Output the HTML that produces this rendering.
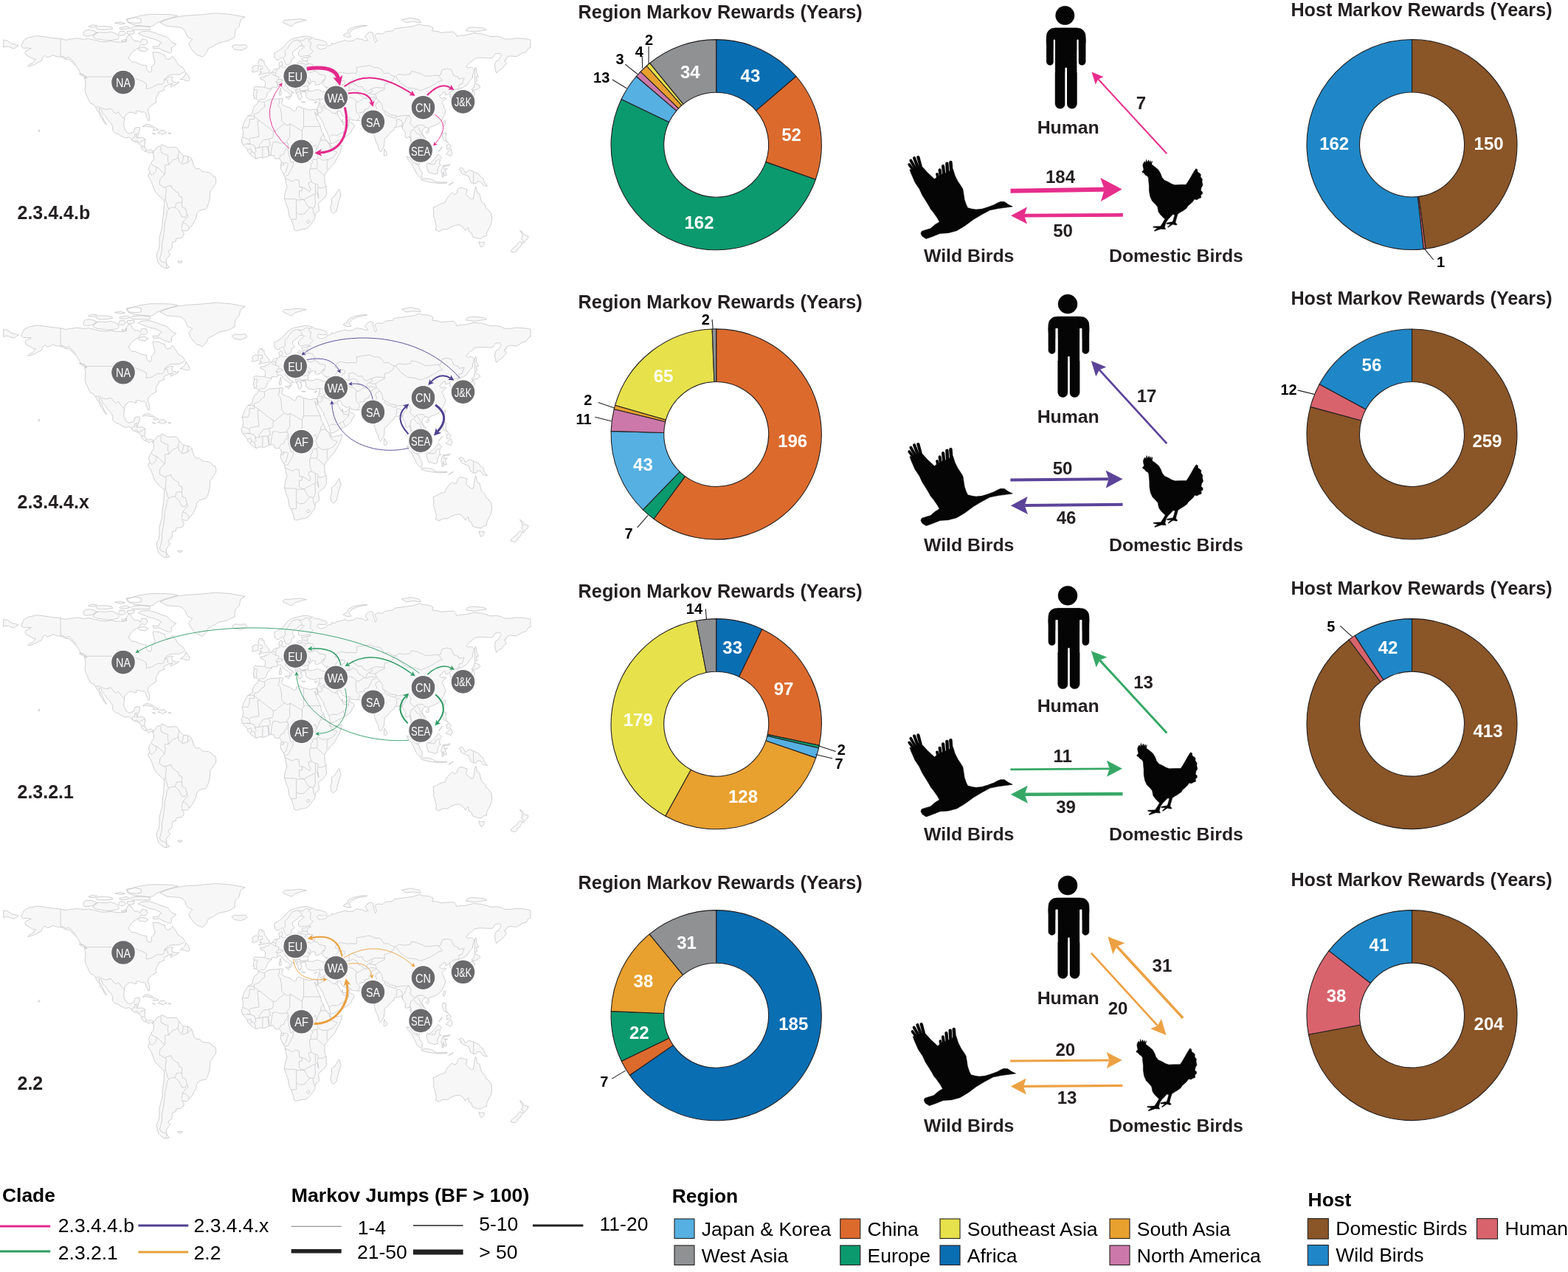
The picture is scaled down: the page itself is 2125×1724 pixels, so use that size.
<!DOCTYPE html>
<html><head><meta charset="utf-8"><title>Markov rewards figure</title>
<style>html,body{margin:0;padding:0;background:#fff;} svg{display:block;}</style>
</head><body>
<svg xmlns="http://www.w3.org/2000/svg" width="2125" height="1724" viewBox="0 0 2125 1724" font-family="'Liberation Sans', Arial, Helvetica, sans-serif">
<rect width="2125" height="1724" fill="#fff"/>
<g transform="translate(0,0)"><path d="M28.5,62.7 L32.5,54.5 L38.4,51.0 L50.7,48.5 L60.3,49.8 L70.2,51.3 L82.1,52.5 L90.0,54.3 L94.0,53.0 L98.0,52.8 L104.9,51.8 L113.8,53.3 L119.8,52.3 L129.7,54.5 L135.7,56.2 L143.6,56.7 L149.5,55.5 L155.5,56.7 L166.4,57.2 L171.4,56.2 L171.4,51.8 L174.4,47.0 L177.3,48.5 L178.9,51.3 L182.3,55.5 L187.3,55.5 L190.2,58.0 L192.2,52.8 L198.2,53.5 L200.1,58.0 L197.2,61.2 L191.2,60.5 L188.2,64.7 L181.9,68.5 L177.3,72.9 L174.4,77.9 L174.9,79.7 L178.3,83.9 L183.3,84.2 L187.3,86.1 L193.2,88.4 L198.6,88.9 L198.8,94.1 L201.1,97.1 L204.1,97.9 L205.5,95.4 L205.1,90.4 L209.1,87.1 L210.1,82.9 L208.1,77.9 L207.5,72.9 L207.1,70.7 L213.0,70.9 L217.0,71.7 L220.0,73.7 L223.0,74.2 L224.0,78.4 L226.9,80.7 L230.9,79.7 L233.7,75.9 L238.8,82.9 L241.8,87.9 L247.8,91.6 L250.7,96.1 L248.8,98.1 L242.8,101.1 L234.9,101.1 L229.9,101.6 L225.9,104.3 L222.0,108.6 L224.0,107.1 L230.9,103.8 L234.3,104.6 L232.9,107.1 L233.9,110.8 L239.8,112.1 L242.8,111.1 L239.8,114.1 L235.9,115.3 L231.3,117.8 L230.9,115.3 L233.9,113.3 L228.9,114.6 L226.9,115.8 L223.0,117.3 L221.6,120.0 L223.0,122.0 L220.0,123.0 L215.0,125.0 L215.0,127.8 L213.0,129.5 L212.1,131.5 L211.1,134.2 L212.1,138.5 L209.1,140.2 L206.1,142.0 L204.1,144.0 L201.1,146.5 L200.3,150.2 L202.1,155.2 L202.9,160.2 L202.3,163.4 L200.9,163.4 L199.6,160.2 L197.8,156.9 L197.8,153.9 L195.2,151.4 L192.2,152.2 L189.2,150.4 L186.3,150.4 L184.3,150.9 L184.9,153.7 L182.3,153.7 L179.3,152.4 L175.3,152.2 L173.4,153.4 L169.4,156.9 L168.6,161.4 L168.0,166.4 L167.8,171.4 L168.8,173.9 L171.0,178.4 L174.4,180.8 L179.3,179.8 L181.3,178.9 L182.3,175.1 L182.7,173.6 L186.3,172.6 L189.2,172.6 L189.6,175.1 L188.2,180.1 L186.7,183.8 L186.3,186.3 L188.2,186.8 L193.2,186.3 L196.8,188.8 L196.2,195.0 L195.8,198.8 L198.2,202.5 L201.1,204.3 L204.1,202.5 L208.1,205.0 L207.5,207.5 L204.1,205.8 L202.1,208.0 L199.2,205.8 L195.8,205.0 L191.8,201.3 L191.6,198.3 L188.2,194.1 L184.3,192.6 L180.3,191.3 L177.3,187.3 L174.4,186.1 L170.4,187.1 L167.4,185.8 L163.4,183.8 L160.5,181.6 L156.5,180.6 L152.5,176.9 L152.9,172.6 L151.5,168.9 L148.6,165.1 L145.6,161.9 L142.6,156.9 L139.2,153.9 L137.2,148.4 L134.1,147.0 L134.7,151.4 L137.6,155.2 L139.6,160.2 L142.6,165.9 L144.6,168.9 L143.6,169.1 L140.6,165.1 L139.2,161.9 L135.7,157.7 L134.7,152.7 L131.7,150.2 L129.5,145.2 L126.7,141.5 L122.6,140.0 L120.0,135.2 L118.8,132.0 L116.2,127.0 L115.0,121.5 L115.8,116.6 L115.8,111.1 L114.4,105.6 L117.8,106.1 L117.4,104.1 L113.8,101.6 L108.9,99.6 L107.9,96.6 L103.9,90.4 L100.9,87.9 L98.0,84.2 L93.0,80.4 L89.0,80.2 L84.1,77.4 L76.1,76.4 L71.2,74.7 L68.2,76.7 L64.2,77.9 L60.3,75.4 L57.3,79.2 L56.3,82.4 L51.3,84.7 L47.4,87.1 L42.4,89.1 L37.4,89.9 L40.4,87.1 L44.4,85.4 L48.4,80.4 L44.4,79.7 L40.4,77.2 L35.5,74.7 L33.9,70.9 L35.5,69.0 L42.4,65.7 L37.4,65.2 L31.5,65.2Z M217.0,30.6 L226.9,35.6 L242.8,36.8 L246.8,38.1 L250.7,41.8 L252.7,46.8 L254.7,50.5 L260.7,53.0 L255.7,59.2 L258.7,65.5 L262.7,70.4 L266.6,74.2 L274.6,77.2 L276.5,75.4 L280.5,70.4 L282.5,65.5 L288.5,63.0 L296.4,58.0 L308.3,55.5 L318.2,50.5 L318.2,45.5 L319.2,40.5 L324.2,35.6 L325.2,30.6 L326.2,26.8 L332.1,23.1 L312.3,19.4 L292.4,17.9 L272.6,19.9 L252.7,21.1 L242.8,22.4 L232.9,24.3 L223.0,27.6Z M314.2,63.0 L318.2,60.7 L326.2,61.2 L332.1,60.5 L335.1,63.7 L333.1,65.7 L326.2,68.2 L320.2,67.2 L317.2,66.7Z M208.1,205.0 L211.1,202.5 L212.1,200.0 L214.0,198.8 L217.0,198.0 L219.8,195.3 L220.8,197.5 L223.0,197.3 L226.9,200.0 L230.9,199.8 L234.9,199.8 L238.8,199.5 L240.8,201.3 L242.8,205.0 L245.8,208.3 L248.8,211.2 L252.7,211.5 L256.7,212.5 L259.7,215.5 L261.7,221.2 L262.7,225.0 L265.6,228.7 L270.6,228.7 L273.6,232.4 L278.5,233.2 L282.5,233.4 L286.5,235.7 L288.5,238.7 L291.4,239.2 L292.8,243.9 L292.4,248.6 L289.4,252.4 L287.5,256.1 L284.9,258.6 L284.5,263.6 L284.1,269.8 L282.5,276.0 L280.5,281.0 L278.5,283.5 L273.6,284.3 L269.6,286.0 L266.6,289.7 L265.6,296.0 L262.7,301.0 L260.7,304.7 L257.7,308.4 L255.7,310.9 L253.7,312.9 L249.8,312.9 L246.4,311.4 L248.2,314.7 L249.4,316.9 L247.8,320.9 L244.8,322.6 L238.8,323.4 L238.2,327.1 L233.9,328.4 L232.9,330.9 L233.9,332.1 L232.5,337.1 L228.9,339.6 L227.9,342.1 L230.9,344.6 L227.9,348.3 L225.0,352.0 L225.9,356.5 L225.9,358.3 L229.9,362.0 L226.9,363.3 L223.0,363.3 L219.0,360.8 L215.0,357.0 L213.0,350.8 L212.1,344.6 L215.0,338.3 L216.0,333.4 L216.0,328.4 L216.0,322.1 L218.0,314.7 L220.0,307.2 L220.0,301.0 L221.0,293.5 L222.0,286.0 L222.6,276.0 L222.4,271.8 L220.0,269.3 L215.0,264.8 L210.7,260.3 L208.7,256.1 L205.1,246.1 L202.1,241.2 L200.5,237.9 L202.5,234.7 L203.1,232.4 L201.3,229.9 L202.9,224.5 L205.1,222.0 L205.5,219.5 L208.1,216.5 L208.5,210.0 L207.3,208.3Z M350.2,137.0 L357.9,138.7 L363.9,135.2 L367.8,134.5 L375.8,134.0 L381.3,133.2 L383.7,134.0 L382.7,136.5 L381.7,140.2 L383.7,142.7 L387.7,144.5 L392.0,145.7 L398.6,150.7 L401.6,148.9 L401.6,146.0 L405.5,144.2 L411.5,147.2 L419.4,149.2 L425.4,148.2 L429.7,148.2 L430.9,152.7 L429.9,156.9 L427.4,152.7 L426.4,151.4 L428.3,157.7 L431.3,165.1 L434.3,171.4 L435.9,178.9 L438.3,181.3 L440.2,187.6 L444.2,192.6 L447.8,195.3 L449.2,200.0 L451.2,200.0 L455.1,198.8 L459.1,198.0 L463.5,196.8 L463.1,200.3 L461.1,206.3 L457.1,213.7 L453.1,221.2 L447.2,227.4 L444.2,231.2 L441.2,234.9 L439.7,238.7 L440.2,243.6 L440.2,248.6 L442.2,252.4 L442.2,258.6 L442.6,263.6 L439.3,268.6 L434.3,273.0 L431.3,276.0 L432.3,281.0 L432.3,286.0 L427.4,289.7 L427.2,293.0 L426.4,297.2 L423.4,301.0 L421.4,304.2 L417.4,308.4 L413.5,310.4 L408.5,310.9 L401.6,312.9 L398.6,311.4 L398.2,308.4 L397.2,304.7 L394.6,297.5 L392.0,293.5 L390.6,283.5 L387.7,276.0 L385.3,268.6 L386.7,259.8 L389.1,253.6 L387.7,248.6 L386.3,241.4 L385.7,238.7 L383.7,234.9 L380.3,228.7 L380.7,223.7 L381.3,218.7 L378.7,215.0 L375.8,215.2 L372.8,215.0 L370.8,210.5 L365.8,210.5 L359.9,213.2 L356.9,214.2 L352.9,213.2 L347.0,215.2 L343.0,212.5 L339.1,209.3 L336.1,206.3 L335.1,202.5 L332.1,198.8 L328.7,195.5 L327.1,189.6 L329.1,185.1 L329.7,178.9 L328.1,173.9 L330.1,167.6 L333.1,161.4 L336.1,157.2 L342.0,153.9 L342.6,148.9 L345.0,143.2 L348.4,141.2Z M459.7,256.1 L462.1,264.8 L460.1,269.8 L458.1,277.3 L456.1,286.0 L451.6,289.7 L449.2,287.3 L447.8,281.0 L449.8,274.8 L449.2,268.6 L453.7,265.6 L457.1,259.8Z M350.8,136.5 L349.0,134.5 L347.0,133.5 L344.2,134.0 L344.4,129.8 L343.0,129.5 L344.2,124.0 L344.4,120.3 L343.4,119.0 L346.0,117.3 L351.0,117.8 L357.9,118.0 L358.9,117.8 L359.5,115.1 L359.5,111.1 L357.5,108.6 L352.9,107.1 L352.7,105.1 L355.9,104.6 L358.9,104.8 L359.3,102.3 L362.3,102.8 L364.8,101.1 L365.4,99.1 L368.8,97.9 L370.2,95.9 L371.4,94.1 L375.4,93.1 L378.7,92.6 L378.9,89.1 L377.9,87.9 L378.3,84.7 L381.7,82.7 L382.7,85.4 L382.7,87.9 L381.7,90.4 L383.7,91.6 L386.7,90.6 L389.7,91.9 L393.6,90.4 L398.6,89.6 L400.6,90.6 L403.5,87.9 L403.5,84.7 L405.5,82.7 L408.5,84.2 L410.1,82.2 L408.5,79.2 L413.5,77.9 L417.4,77.4 L421.4,76.7 L418.4,75.4 L413.5,75.7 L407.5,76.9 L404.5,74.7 L404.5,70.4 L407.5,67.2 L411.5,64.2 L412.5,63.0 L409.5,62.2 L405.5,62.5 L403.5,65.5 L399.6,68.0 L396.6,70.4 L396.6,74.2 L398.6,76.7 L399.2,78.2 L395.2,80.4 L394.6,84.2 L393.2,86.4 L390.0,88.1 L387.7,87.9 L386.7,85.9 L385.3,82.2 L384.1,79.2 L382.7,77.9 L380.7,79.2 L377.7,81.4 L374.8,81.2 L372.8,79.2 L371.8,75.4 L371.8,71.7 L375.8,69.7 L378.7,68.0 L381.7,65.5 L385.7,62.2 L388.7,58.0 L391.6,55.5 L395.6,53.0 L399.6,51.8 L403.5,51.0 L408.5,49.8 L413.1,49.0 L417.4,49.3 L423.4,51.0 L427.4,53.3 L433.3,54.0 L441.2,56.7 L443.2,59.2 L443.6,59.7 L441.2,61.2 L437.3,61.5 L431.3,60.7 L429.7,63.0 L431.3,65.7 L435.3,67.0 L439.3,65.5 L441.8,65.2 L443.2,62.2 L449.2,61.0 L449.6,58.5 L453.1,59.7 L456.1,57.7 L463.1,56.0 L468.0,54.5 L472.0,56.0 L478.9,55.2 L482.9,52.3 L490.8,53.5 L495.8,55.5 L498.8,54.8 L494.8,49.8 L497.8,45.5 L501.8,43.3 L505.7,44.8 L505.7,49.3 L508.7,58.0 L510.7,55.5 L507.7,48.0 L511.7,45.5 L518.6,46.0 L521.6,43.0 L532.5,41.8 L534.5,39.1 L550.4,36.8 L560.3,35.6 L568.8,32.6 L572.2,34.3 L582.1,35.1 L587.1,37.8 L585.7,41.8 L594.0,42.8 L598.0,44.3 L605.9,43.5 L613.9,43.0 L617.8,46.0 L618.8,49.3 L623.8,48.0 L629.8,47.8 L638.7,45.8 L641.7,44.8 L651.6,45.8 L659.5,47.8 L664.5,49.5 L673.4,49.3 L679.4,50.5 L683.3,52.8 L691.3,53.0 L699.2,51.8 L709.1,52.3 L716.1,53.3 L719.0,54.3 L719.0,64.2 L716.1,65.5 L713.1,70.4 L707.1,72.2 L700.2,76.7 L691.3,75.9 L687.3,77.2 L685.3,81.7 L683.3,81.7 L686.3,86.1 L683.3,89.6 L679.4,94.1 L676.4,95.4 L672.8,99.1 L671.4,94.9 L670.4,87.9 L672.4,82.9 L675.4,81.7 L679.4,75.4 L677.4,72.2 L671.4,72.9 L667.5,78.7 L661.5,78.7 L655.5,78.4 L649.6,78.2 L643.6,79.2 L640.7,81.7 L635.7,85.4 L631.7,90.4 L634.7,92.1 L638.7,91.1 L642.6,94.1 L641.7,97.9 L640.7,101.6 L640.3,105.3 L636.7,109.1 L632.7,115.3 L625.8,119.5 L621.8,120.3 L619.2,124.0 L618.8,126.5 L615.9,129.0 L618.6,132.8 L618.6,137.7 L614.9,139.7 L612.5,140.2 L612.9,135.2 L611.9,132.3 L609.9,131.5 L609.9,127.8 L608.5,126.8 L604.0,129.0 L603.0,124.3 L600.0,126.0 L598.0,128.5 L595.4,130.3 L597.6,132.8 L599.0,133.7 L602.0,132.3 L604.9,133.5 L601.0,136.5 L598.6,139.5 L601.0,142.7 L602.0,146.5 L604.0,149.4 L603.0,153.9 L601.0,157.7 L599.0,162.2 L595.0,167.1 L590.1,169.6 L587.1,170.9 L582.1,172.6 L580.7,175.6 L579.2,172.6 L576.2,172.6 L573.2,175.1 L571.8,178.9 L573.2,182.6 L576.2,186.3 L578.6,192.6 L578.6,197.5 L575.2,200.0 L573.2,202.5 L570.2,204.8 L569.8,200.8 L566.3,199.5 L565.3,195.8 L562.1,194.6 L560.3,192.6 L558.7,200.0 L560.1,203.3 L561.1,208.0 L562.9,209.0 L565.3,211.2 L567.0,215.0 L567.2,219.5 L568.8,222.7 L567.2,223.0 L563.3,220.0 L561.3,215.0 L560.9,211.2 L559.7,209.3 L556.9,206.3 L557.3,201.3 L557.7,196.3 L556.3,190.1 L555.5,185.1 L551.4,186.8 L549.0,185.8 L549.4,180.1 L547.4,176.9 L545.0,173.9 L544.0,170.1 L541.4,171.4 L538.5,172.1 L534.5,172.6 L533.5,176.4 L530.5,178.1 L527.6,181.3 L525.0,184.8 L521.2,187.6 L521.0,192.6 L520.2,198.8 L519.2,200.5 L517.0,204.0 L515.7,206.0 L513.7,203.8 L512.3,197.5 L510.3,193.8 L507.7,186.3 L506.3,178.9 L506.3,173.9 L505.7,172.6 L501.4,174.4 L498.8,170.6 L500.8,169.4 L497.8,167.6 L495.8,166.4 L493.8,163.2 L489.9,163.4 L483.9,163.4 L478.5,162.7 L475.6,161.9 L473.8,158.7 L470.0,160.2 L466.0,157.7 L463.9,156.7 L461.3,150.9 L458.7,150.7 L457.1,151.9 L458.1,156.4 L460.1,159.4 L462.1,163.9 L464.3,165.6 L464.1,161.7 L463.5,164.9 L466.0,165.9 L469.0,165.9 L472.0,163.2 L473.6,160.9 L473.8,165.1 L476.0,167.1 L478.5,167.6 L480.5,170.1 L478.9,173.9 L477.0,175.4 L476.4,178.9 L474.0,180.8 L471.0,183.8 L465.5,187.1 L459.1,190.1 L454.1,193.1 L451.2,194.3 L448.2,194.6 L446.8,190.1 L446.2,186.3 L444.2,181.3 L441.2,175.1 L439.3,171.4 L438.3,166.4 L435.9,163.4 L434.3,160.2 L431.3,156.2 L430.3,152.7 L429.7,148.2 L430.5,145.2 L431.5,143.7 L432.3,140.2 L433.1,137.7 L433.3,134.5 L430.3,134.5 L426.4,136.2 L422.4,135.2 L418.4,134.7 L416.0,132.8 L414.5,130.3 L415.0,127.8 L413.9,126.5 L414.9,125.3 L413.5,124.5 L409.5,124.5 L408.5,126.0 L406.9,125.3 L408.1,128.3 L409.5,131.5 L407.5,133.2 L407.1,135.2 L404.9,134.5 L403.9,132.0 L403.9,129.0 L401.6,127.3 L400.6,124.0 L400.4,121.5 L398.6,120.3 L395.6,118.3 L392.6,116.6 L390.6,113.3 L389.1,112.3 L386.5,113.1 L386.7,116.1 L388.7,117.5 L390.6,120.8 L393.6,122.8 L397.6,125.0 L398.6,126.3 L395.6,125.3 L394.8,127.3 L395.8,129.0 L393.8,131.5 L392.8,130.8 L393.2,127.8 L391.6,126.0 L389.7,124.5 L386.7,122.8 L383.7,120.3 L382.7,117.8 L380.7,116.3 L378.7,115.8 L376.8,117.1 L373.8,118.8 L370.8,118.0 L368.2,118.5 L368.2,120.8 L365.8,123.3 L363.5,124.8 L361.9,127.8 L361.3,130.3 L360.3,132.5 L357.9,134.7 L352.9,134.7Z M4.7,54.3 L9.7,55.0 L15.6,59.2 L21.6,60.5 L25.1,61.7 L22.6,63.2 L19.6,65.7 L15.6,65.0 L11.6,63.2 L7.7,63.0 L4.7,64.2Z M203.1,42.5 L211.1,44.8 L219.0,48.0 L226.9,50.5 L228.9,53.0 L233.9,58.0 L238.8,59.7 L234.9,63.0 L231.9,65.5 L232.9,69.7 L229.9,71.7 L225.9,70.4 L220.0,68.0 L216.0,65.5 L212.1,66.0 L208.1,66.0 L207.1,63.0 L215.0,63.0 L216.0,60.0 L219.0,58.0 L216.0,56.0 L209.1,53.0 L203.1,51.8 L198.2,49.8 L193.2,48.0 L187.3,45.5 L191.2,43.0 L199.2,42.3Z M190.2,64.7 L195.2,63.7 L201.1,66.7 L197.2,69.7 L189.2,68.7 L187.3,66.7Z M126.7,48.8 L128.7,44.8 L135.7,43.5 L143.6,44.3 L149.5,43.0 L154.5,44.3 L159.5,46.8 L161.5,50.5 L159.5,53.0 L153.5,54.3 L148.6,54.8 L143.6,54.8 L136.7,53.5 L131.7,53.0 L128.7,51.8 L125.7,49.8Z M112.8,47.0 L113.8,43.0 L115.8,41.0 L121.8,40.5 L128.7,42.3 L131.7,44.3 L128.7,46.8 L124.7,48.0 L118.8,49.0 L114.8,48.8Z M160.5,45.5 L162.4,42.3 L168.4,42.3 L170.4,45.5 L167.4,48.0 L162.4,48.0Z M172.4,42.3 L182.3,41.8 L181.3,45.5 L176.3,46.8 L172.4,45.5Z M164.4,55.0 L171.4,53.0 L170.4,56.0 L166.4,56.2Z M129.7,38.1 L133.7,35.6 L143.6,35.6 L151.5,36.8 L152.5,39.3 L143.6,40.3 L137.6,40.5 L131.7,39.8Z M119.8,35.6 L125.7,33.6 L131.7,34.8 L127.7,36.8 L121.8,36.8Z M161.5,38.1 L171.4,35.6 L176.3,38.1 L169.4,39.8 L163.4,39.8Z M155.5,31.1 L163.4,29.8 L169.4,31.8 L163.4,32.8Z M179.3,40.3 L203.1,40.5 L203.1,36.3 L191.2,35.3 L179.3,36.3 L177.3,38.3Z M183.3,34.3 L203.1,36.1 L207.1,35.1 L213.0,30.6 L217.0,29.3 L223.0,26.8 L232.9,24.3 L240.8,21.4 L232.9,19.9 L223.0,19.4 L203.1,19.4 L187.3,21.9 L179.3,24.3 L171.4,26.8 L173.4,30.6 L179.3,33.1Z M171.4,25.6 L183.3,23.8 L191.2,25.6 L191.2,30.6 L183.3,31.3 L175.3,30.6Z M193.2,171.6 L196.2,169.1 L199.2,168.4 L203.1,168.9 L208.1,171.9 L211.7,173.9 L214.8,175.9 L211.7,176.6 L207.7,176.6 L208.7,174.9 L206.1,172.4 L201.1,171.4 L197.2,170.9 L194.2,171.9Z M214.0,180.3 L217.4,176.6 L223.0,176.9 L226.1,179.8 L223.0,180.8 L220.2,182.3 L217.4,180.8Z M206.3,180.3 L210.7,181.3 L209.1,181.8Z M228.5,180.1 L231.7,180.6 L230.9,181.6 L228.5,181.3Z M244.2,107.6 L250.7,102.8 L251.7,97.9 L255.7,103.3 L257.3,107.8 L255.7,109.8 L251.7,109.1 L247.8,107.6Z M107.3,99.9 L112.8,100.9 L117.0,105.6 L113.8,104.3 L108.9,101.6Z M52.3,178.9 L54.3,177.1 L52.7,175.9Z M240.8,354.0 L246.8,353.8 L245.8,356.3 L241.8,355.8Z M350.6,101.6 L355.9,100.1 L364.6,98.6 L365.2,94.9 L362.5,93.1 L361.3,90.4 L358.7,87.6 L357.7,83.7 L358.3,82.7 L354.9,82.4 L355.5,80.2 L351.9,80.2 L350.6,82.9 L349.6,85.9 L351.0,88.1 L352.3,89.6 L355.3,89.4 L355.5,91.6 L355.9,93.4 L352.7,93.4 L353.5,95.9 L351.6,97.4 L354.9,98.1 L352.9,98.9Z M350.0,96.1 L350.0,92.9 L349.6,90.9 L351.0,90.1 L347.4,88.4 L345.0,89.1 L342.0,91.1 L342.0,93.4 L343.4,95.1 L341.2,96.9 L343.0,97.9 L346.0,97.1 L349.4,96.1Z M383.7,30.6 L391.6,34.3 L395.6,35.6 L399.6,31.8 L405.5,29.8 L415.4,27.3 L405.5,25.6 L395.6,26.8 L385.7,27.3 L383.3,29.3Z M465.1,48.0 L471.0,50.3 L476.0,50.0 L473.0,45.5 L477.0,40.5 L484.9,37.3 L497.8,34.6 L490.8,34.3 L478.9,36.8 L472.0,40.5 L471.0,44.3 L466.0,46.8Z M550.4,30.6 L560.3,29.3 L570.2,30.6 L568.2,26.8 L556.3,24.3 L544.4,26.8Z M631.7,41.8 L643.6,43.0 L659.5,40.5 L655.5,38.1 L639.7,36.8 L633.7,38.1Z M643.6,111.6 L646.6,110.3 L645.6,104.1 L648.6,104.1 L645.6,97.9 L645.6,94.1 L644.6,90.9 L643.6,92.9 L643.2,96.6 L643.6,104.1 L643.4,109.1Z M639.7,122.8 L642.1,122.0 L646.2,121.5 L650.6,118.3 L650.0,116.1 L643.6,112.8 L642.6,115.8 L642.6,118.5 L639.7,120.0Z M641.7,123.0 L642.8,125.3 L643.6,127.8 L641.7,131.0 L641.5,134.0 L640.7,137.0 L639.3,139.0 L637.3,140.0 L633.7,140.0 L631.7,142.7 L629.9,141.0 L625.8,140.7 L621.8,140.7 L621.6,139.2 L624.8,137.7 L630.7,137.5 L632.7,134.0 L634.3,132.8 L636.7,132.0 L639.3,129.0 L639.7,125.8 L640.3,123.3Z M619.8,142.0 L622.8,142.2 L622.8,146.5 L621.8,148.4 L620.2,148.4 L619.4,144.0Z M624.8,144.0 L627.8,143.2 L629.2,141.5 L625.8,141.5Z M600.2,168.9 L602.0,163.4 L604.0,163.9 L603.0,168.9 L601.6,171.4Z M577.4,178.4 L580.1,176.1 L582.1,177.4 L580.1,180.6 L577.6,180.1Z M600.0,180.1 L604.5,180.1 L604.0,186.3 L604.9,191.3 L607.9,193.8 L605.5,192.6 L603.0,191.3 L601.2,190.3 L600.0,186.3 L599.6,183.8Z M604.0,208.8 L607.9,205.0 L610.9,201.8 L612.9,207.5 L610.9,211.7 L607.9,210.0Z M604.9,196.8 L608.9,195.0 L611.5,198.8 L608.9,201.3 L605.9,202.5Z M594.4,205.0 L599.4,198.8 L598.8,199.8 L594.8,205.5Z M578.2,222.5 L579.3,221.2 L582.1,221.7 L586.1,218.2 L591.1,213.0 L594.0,208.8 L598.6,213.2 L596.4,215.5 L595.6,222.5 L597.6,223.7 L595.0,225.0 L593.0,229.9 L593.0,234.9 L589.1,236.2 L584.1,234.4 L580.5,233.7 L579.5,229.9 L578.2,226.2Z M551.0,212.2 L555.3,213.2 L560.3,220.0 L567.8,225.0 L569.2,229.9 L572.2,233.7 L571.8,240.7 L569.2,240.7 L564.9,236.2 L561.3,228.7 L557.9,221.7 L553.4,217.0Z M570.6,242.9 L576.2,241.9 L582.1,242.4 L585.1,243.4 L589.1,245.4 L588.9,247.9 L582.1,246.9 L576.2,245.6 L572.2,244.4Z M590.1,246.6 L598.0,246.9 L605.9,246.9 L605.9,247.9 L596.0,248.6 L590.1,248.1Z M607.9,251.1 L614.5,247.1 L609.9,249.4Z M599.0,239.9 L601.0,239.9 L600.6,233.2 L602.6,238.2 L605.5,237.4 L603.0,230.7 L606.5,228.7 L602.0,229.2 L601.6,225.0 L608.9,225.0 L609.9,222.5 L606.9,223.7 L600.4,224.2 L599.2,227.4 L597.6,232.9 L599.0,234.9Z M621.8,229.4 L624.8,227.2 L627.8,228.7 L630.7,234.4 L635.7,230.4 L641.7,232.7 L648.6,235.7 L651.6,239.9 L654.6,241.7 L656.5,247.4 L660.5,252.4 L657.5,251.9 L654.6,251.1 L651.6,246.6 L647.6,245.4 L645.6,248.6 L641.7,248.9 L637.7,246.4 L635.3,239.2 L630.7,237.2 L626.8,235.7 L623.8,233.2 L625.8,231.9 L622.4,229.9Z M587.1,281.0 L588.1,291.0 L586.9,292.2 L589.3,297.5 L590.1,302.2 L591.5,307.2 L590.3,311.4 L595.0,313.7 L600.0,310.7 L606.9,310.7 L610.9,307.7 L617.8,305.2 L622.4,304.7 L627.8,307.9 L630.7,312.9 L632.7,309.7 L634.7,308.4 L635.3,313.7 L638.7,315.4 L640.7,320.9 L646.6,322.9 L652.0,323.6 L654.6,320.9 L659.3,319.6 L659.9,314.7 L662.5,309.7 L665.5,303.5 L666.7,296.5 L665.9,289.7 L661.5,284.0 L658.5,281.8 L657.1,277.3 L652.6,273.5 L650.6,266.1 L650.2,263.1 L646.6,261.1 L645.6,254.9 L644.6,252.9 L643.2,257.3 L642.6,263.6 L641.3,269.6 L638.7,269.8 L635.3,267.3 L631.3,263.6 L633.3,256.9 L630.7,256.1 L625.8,254.4 L622.8,254.6 L620.4,257.3 L618.8,262.3 L615.9,263.6 L612.9,261.1 L609.9,263.6 L606.9,267.3 L604.4,271.1 L603.0,274.8 L598.0,276.0 L594.0,277.8 L589.5,280.5Z M649.0,327.6 L652.6,328.6 L656.1,328.1 L656.1,331.4 L653.6,334.6 L651.6,334.9 L650.0,331.6Z M704.6,311.9 L708.1,314.7 L710.1,318.4 L716.1,320.1 L714.9,323.9 L712.1,325.9 L709.5,329.9 L708.5,329.1 L709.1,325.9 L706.7,323.9 L708.1,320.9 L707.5,317.2 L705.2,313.4Z M704.6,327.1 L707.7,329.1 L707.1,330.9 L704.8,335.1 L701.6,337.1 L700.4,340.6 L697.6,342.3 L692.3,340.8 L692.9,338.8 L695.8,335.8 L700.2,332.9 L702.2,329.6Z M520.2,210.7 L520.8,201.8 L523.0,205.0 L524.4,207.5 L523.8,210.5 L521.6,211.5Z M386.5,131.5 L392.8,130.8 L391.6,134.7Z M378.5,124.0 L381.3,124.0 L380.9,129.0 L378.5,129.0Z M380.5,119.0 L380.9,123.0 L378.9,122.0Z M408.5,137.7 L414.1,138.5 L409.5,138.7Z M426.0,139.0 L430.3,137.5 L427.4,140.0Z" fill="#f7f7f8" stroke="#c4c4c6" stroke-width="0.8" stroke-linejoin="round"/><path d="M117.2,104.1 L173.0,104.1 L173.0,103.1 L184.1,106.6 L193.6,110.3 L198.4,113.3 L198.2,120.3 L205.1,119.0 L210.1,116.1 L213.6,114.1 L220.0,114.1 L221.6,113.1 L223.0,109.8 L224.6,108.1 L226.9,108.3 L227.3,112.3 L228.7,113.8 M82.1,52.8 L82.1,75.9 L86.1,76.7 L89.0,78.7 L93.0,77.2 L97.0,80.7 L101.9,86.6 L103.9,88.4 M129.5,145.2 L134.3,144.7 L141.6,148.2 L147.2,148.2 L147.2,147.0 L150.5,147.0 L154.5,152.4 L157.5,153.9 L160.5,151.9 L164.4,157.7 L169.0,161.7 M178.9,190.1 L178.9,188.3 L180.5,186.1 L182.5,186.1 L182.5,181.8 L185.1,181.8 L186.7,180.1 M184.9,181.8 L184.9,186.6 L186.9,187.1 M183.1,192.1 L184.7,190.3 L186.9,191.6 L187.6,193.1 M188.6,193.8 L193.2,190.6 L196.8,188.8 M191.8,198.3 L195.8,199.0 M197.2,205.3 L198.0,202.5 M218.6,198.5 L218.0,200.0 L218.2,206.3 L223.0,208.8 L227.9,210.7 L227.3,215.0 L228.3,221.2 L229.1,223.2 M205.5,222.7 L209.1,225.2 L212.5,226.4 L216.0,229.2 L219.0,232.2 L223.0,236.7 L224.2,228.7 L223.0,224.7 L224.0,223.5 L228.9,223.2 M228.9,223.2 L234.9,216.2 L237.5,216.2 L241.2,213.2 L242.8,205.0 M241.2,213.2 L242.8,218.7 L246.8,222.5 L250.7,221.5 L254.1,220.5 L259.5,215.7 M248.8,211.2 L246.8,221.2 M254.7,212.0 L254.1,220.5 M202.5,234.7 L206.1,237.4 L211.1,232.4 L212.5,226.4 M223.0,236.7 L217.0,242.4 L216.0,249.9 L222.0,253.6 L224.0,253.6 L225.5,257.3 L224.4,263.6 L224.0,269.8 L222.2,271.8 M224.0,253.6 L231.9,251.1 L232.9,254.9 L238.8,259.8 L241.8,261.1 L242.8,266.1 L246.4,266.8 L246.8,269.8 L246.4,275.5 M224.0,269.8 L225.9,274.8 L226.9,279.8 L228.5,283.0 L232.9,281.0 L237.3,281.0 L239.2,275.0 L244.8,274.3 L246.4,275.5 M237.3,281.0 L242.8,286.0 L246.4,294.0 L251.1,294.5 L253.5,290.0 L251.3,282.3 L247.2,281.3 L246.4,275.5 M253.5,290.0 L255.1,293.7 L251.1,297.2 L247.6,301.5 L251.7,303.0 L255.7,307.2 L255.7,310.2 M247.6,301.5 L246.0,309.7 M228.5,283.0 L226.1,287.3 L225.7,293.5 L223.4,301.0 L223.0,308.4 L222.0,315.9 L221.0,323.4 L219.4,330.9 L219.6,338.3 L218.0,345.8 L216.4,350.8 L218.6,354.5 L224.6,356.3 L225.7,357.3 L225.7,363.3 M358.3,139.0 L358.7,145.2 L354.7,147.5 L351.0,152.4 L344.6,154.7 L344.6,157.2 L335.7,157.2 M344.6,157.2 L344.6,161.4 L338.1,161.4 L338.1,167.6 L336.1,173.1 L328.1,173.1 M344.6,158.2 L352.3,163.9 L349.0,164.1 L351.0,185.3 L339.2,187.3 L337.7,189.3 L329.1,185.8 M328.7,195.3 L337.7,195.3 L339.2,195.3 L337.7,189.3 M334.7,194.6 L339.2,195.3 L345.0,197.5 L346.0,200.8 L347.0,205.3 L345.0,207.3 L341.0,205.3 L339.1,208.8 M335.7,203.3 L339.6,201.3 L341.0,205.3 M352.3,163.9 L364.3,173.4 L370.2,177.6 L373.4,177.9 L376.8,174.4 L385.5,167.6 M351.0,200.3 L351.4,196.8 L357.3,189.3 L362.5,189.1 L364.4,188.1 L369.0,187.3 L370.2,184.1 L370.2,177.6 M345.0,200.8 L351.0,200.3 L356.1,199.0 L362.9,198.8 L366.6,196.5 L364.4,188.1 M347.0,215.2 L345.0,207.3 M355.7,213.5 L356.1,199.0 M364.3,211.0 L362.9,198.8 M365.0,210.7 L363.7,198.8 M367.2,210.3 L367.8,202.5 L369.0,197.0 L369.8,192.6 L374.8,192.3 L379.7,194.3 L386.7,193.3 L389.7,193.8 M378.9,134.2 L378.3,140.0 L376.8,143.5 L379.9,146.2 L380.7,150.7 L381.3,152.9 L381.7,163.2 L385.5,167.6 L389.7,170.1 L393.4,167.9 L409.5,177.6 L409.5,176.4 L411.5,171.4 L411.5,147.5 M411.5,171.4 L435.1,171.4 M393.4,167.9 L392.6,174.6 L392.6,186.3 L388.7,191.8 L389.7,193.8 L390.6,196.3 L391.6,201.3 L389.5,202.5 M378.7,214.7 L380.7,210.0 L384.7,208.8 L385.7,205.0 L388.7,200.8 L390.6,196.3 M409.5,177.6 L409.5,187.1 L406.3,191.3 L406.5,196.3 L407.3,199.0 L408.5,204.5 L414.5,202.5 L421.4,201.3 L427.4,196.3 L429.3,202.5 M389.5,202.5 L392.6,207.5 L390.6,207.5 L392.6,213.7 L394.0,220.7 L398.6,217.5 L403.5,215.0 L411.5,213.7 L416.2,213.7 L423.0,217.5 L423.8,220.7 L421.2,222.5 L421.4,226.2 L420.6,229.7 L419.4,229.9 L419.8,234.9 L420.4,241.2 L422.4,246.6 M392.6,207.5 L398.6,204.3 L407.3,199.0 M381.3,220.5 L384.3,220.7 L388.3,220.7 L390.6,222.5 M384.3,220.7 L384.3,223.7 L380.7,223.7 M390.6,222.5 L387.7,232.4 L385.7,234.9 L383.9,235.9 M386.1,238.7 L390.6,237.4 L393.6,231.2 L396.6,226.2 L397.6,220.0 L398.6,217.5 M386.3,241.4 L393.6,244.9 L396.6,246.1 L400.6,243.6 L405.1,244.4 L405.9,253.6 L409.5,253.6 L409.5,258.6 L405.5,258.6 L405.5,267.3 L408.5,269.8 L412.1,270.6 M409.5,253.6 L412.5,254.9 L416.4,257.3 L419.4,259.6 L421.0,256.6 L418.4,251.1 L418.4,247.4 L422.4,246.6 M429.3,202.5 L427.7,205.3 L431.3,213.7 L429.1,215.7 L423.8,216.7 M434.3,190.6 L435.1,186.3 L438.3,181.3 M429.3,202.5 L432.3,195.0 L434.3,190.6 L437.3,190.1 L441.2,190.1 L446.0,195.0 M446.0,195.0 L446.8,198.8 L447.6,197.5 M446.8,198.8 L450.2,203.8 L457.1,206.3 L451.2,213.7 L445.2,216.2 L443.2,218.7 L443.2,230.4 M431.3,213.7 L437.3,217.2 L444.8,216.2 M429.3,215.7 L430.3,223.7 L429.3,228.7 L436.3,234.9 L439.7,237.9 M420.6,228.7 L423.0,228.7 L429.3,228.7 M442.0,252.4 L437.3,254.4 L432.3,254.9 L430.3,249.9 L427.4,249.4 L423.8,247.6 L422.4,246.6 M427.4,249.4 L427.4,260.6 L431.3,262.3 L431.9,268.6 L430.3,263.6 L430.3,253.6 M422.2,265.1 L427.4,262.3 L427.0,267.8 L427.4,276.0 L425.4,281.8 L424.0,282.0 L425.2,289.7 L427.2,293.0 M412.1,270.6 L417.4,267.3 L422.2,265.1 M385.3,269.1 L389.7,269.6 L398.6,269.6 L403.5,271.1 L408.5,270.6 L412.1,270.6 M401.6,271.1 L401.6,281.0 L401.6,288.0 L401.6,297.0 L394.6,297.5 M401.6,288.0 L405.5,290.5 L412.5,290.0 L415.4,286.0 L420.2,281.5 L424.0,282.0 M412.1,270.6 L414.5,274.8 L417.4,279.8 L420.2,281.5 M415.6,300.5 L417.8,297.7 L420.2,299.7 L419.0,302.2 L416.4,302.2 L415.6,300.5 M429.7,148.2 L431.1,152.7 M344.2,121.8 L348.0,121.5 L349.0,122.8 L348.0,126.0 L347.0,127.8 L348.0,131.0 L347.0,133.5 M358.3,118.0 L361.9,119.8 L368.2,120.5 M366.8,98.9 L369.8,101.1 L373.4,102.8 L378.1,104.1 L377.0,107.6 L373.8,111.1 L375.8,112.1 L375.8,115.3 L376.8,117.1 M368.6,98.1 L371.8,98.1 L373.8,99.6 L373.4,102.8 M376.2,93.4 L373.8,97.1 L373.8,99.6 M378.9,89.4 L381.5,89.6 M390.0,91.9 L390.8,95.4 L391.6,99.1 L386.7,100.9 L389.3,104.6 L387.7,107.8 L382.7,107.8 L380.9,107.8 L377.0,107.6 M373.8,111.1 L377.3,111.8 L380.7,110.8 L382.7,109.6 L380.9,107.8 M382.7,109.6 L386.7,109.1 L389.1,110.3 L388.9,112.8 M389.3,104.6 L391.6,104.1 L395.6,105.1 L395.6,107.3 L394.6,109.3 L393.6,109.8 L389.1,110.3 M391.6,99.1 L394.6,100.9 L399.2,102.8 L406.5,103.8 L409.5,100.4 L408.5,95.4 L408.5,91.6 L407.1,90.6 L400.6,90.6 M395.6,105.1 L399.2,102.8 M395.6,107.3 L399.2,107.1 L405.7,105.6 L407.3,106.8 L404.5,111.1 L402.2,111.3 L399.2,111.8 L396.0,110.3 L394.6,109.3 M407.3,106.8 L414.7,105.8 L417.8,110.3 L417.8,113.1 L420.6,113.6 M406.9,116.1 L411.5,117.3 L415.4,116.3 L418.6,117.1 M404.5,111.1 L404.3,114.3 L406.5,115.1 L406.9,116.1 L406.3,119.0 L406.3,120.8 L407.5,123.0 L413.5,123.3 L417.4,121.5 M401.6,127.3 L403.3,124.5 L406.3,123.5 L414.1,122.3 L413.7,124.5 M393.0,113.6 L400.0,113.6 L400.4,117.8 L398.6,120.3 M400.4,117.8 L402.5,119.3 L404.5,121.0 L406.3,120.8 M400.4,121.5 L402.7,120.3 L402.7,124.0 L403.3,124.5 M394.6,110.3 L392.6,112.8 L393.0,113.6 M399.2,111.8 L400.0,113.6 M408.7,97.6 L415.4,97.6 L422.4,98.4 L425.0,96.4 L430.3,97.4 L432.3,100.6 L437.7,101.6 L441.2,102.6 L440.6,107.1 L437.7,108.8 M414.7,105.8 L417.4,105.3 L419.8,106.8 L421.4,110.3 L417.8,113.1 M405.7,105.6 L406.5,103.8 M408.5,91.9 L412.5,90.9 L414.7,87.4 L417.8,86.4 L423.4,87.1 L426.8,93.4 L425.0,96.4 M403.5,86.4 L411.5,86.1 L414.7,87.4 M410.1,82.2 L416.2,82.9 L417.4,78.2 M416.2,82.9 L417.8,86.4 M418.4,75.4 L421.4,72.4 L424.4,69.5 L420.4,65.5 L421.4,57.5 L418.4,55.5 L419.4,53.0 L423.0,52.3 M409.5,62.2 L408.5,58.0 L403.5,54.3 L405.5,55.2 L411.5,54.8 L413.5,52.0 L417.4,52.3 L419.4,53.0 M384.1,79.2 L386.7,75.4 L386.1,69.2 L389.7,65.5 L392.6,61.0 L395.6,56.7 L398.6,55.5 L402.5,54.3 L403.5,54.3 M459.1,110.1 L458.5,106.1 L454.1,105.3 L456.1,100.6 L462.1,97.9 L471.0,99.6 L477.0,99.1 L482.9,99.6 L483.9,96.6 L482.9,91.6 L490.8,90.1 L500.8,88.6 L507.7,91.6 L512.7,91.6 L516.6,93.4 L520.6,99.6 L526.6,99.1 L531.5,102.8 L535.1,103.6 M536.1,103.6 L540.5,100.4 L548.4,101.6 L556.3,100.4 L557.3,96.6 L564.3,97.9 L572.2,100.9 L576.2,103.3 L584.1,102.8 L591.1,102.1 L594.0,102.3 M594.0,102.3 L597.0,101.8 L599.0,94.6 L605.9,92.9 L611.9,94.6 L614.9,102.3 L621.0,104.3 L621.8,107.1 L629.2,105.8 L626.2,114.1 L622.2,114.6 L621.8,119.3 L621.0,120.5 M536.1,103.6 L542.4,111.6 L552.4,119.0 L562.3,120.0 L570.2,122.8 L583.1,117.5 L588.1,114.6 L594.6,110.3 L599.6,109.1 L594.0,102.3 M535.1,103.6 L532.1,109.1 L526.2,112.8 L521.0,114.1 L521.2,121.0 L514.7,124.0 L508.7,127.8 L510.7,134.0 L514.7,137.2 L518.2,142.7 L518.6,148.9 L522.6,150.9 L528.6,155.2 L536.5,156.7 L538.5,157.9 L544.4,156.9 L554.3,156.4 L557.3,162.7 L555.3,166.6 L559.3,171.1 L562.7,173.1 L564.3,170.4 L567.2,169.6 L573.4,169.4 L576.2,172.6 M514.7,137.7 L509.7,140.2 L508.7,144.0 L510.7,145.5 L509.7,148.9 L506.7,152.7 L502.8,156.4 L500.8,162.7 L497.8,167.4 M520.8,151.4 L522.6,155.2 L528.6,157.9 L536.9,160.4 L536.5,156.7 M536.7,171.4 L537.9,165.9 L537.1,162.7 L540.1,161.4 L544.4,163.7 L545.0,166.4 L545.6,173.4 M545.0,171.9 L547.0,168.1 L549.4,164.1 L550.8,159.7 L554.3,156.4 M557.3,201.3 L558.7,195.0 L557.3,188.8 L555.7,182.6 L557.3,176.9 L560.3,175.4 L562.7,173.1 M561.3,175.9 L562.7,177.6 L565.3,181.3 L569.2,182.6 L571.2,188.8 L566.3,190.3 L565.3,195.8 M564.3,170.4 L568.2,175.1 L570.2,180.1 L574.2,185.6 L575.2,189.6 L572.2,196.8 L569.2,200.0 M571.2,190.6 L575.2,189.6 M560.5,210.0 L563.9,211.7 L564.5,210.7 M484.1,163.4 L487.5,158.4 L486.5,155.7 L482.9,151.9 L482.7,147.7 L481.9,142.7 L483.3,137.5 L478.9,133.2 L473.0,131.5 L469.0,132.8 M457.1,151.4 L458.1,147.7 L456.1,144.0 L452.2,141.5 L452.8,137.0 L450.2,133.5 L449.2,129.0 L450.8,127.3 L454.1,129.3 L457.1,129.0 L457.1,130.5 L458.9,130.5 M486.5,152.9 L493.8,151.7 L494.2,148.4 L499.4,146.7 L501.8,141.7 L503.2,139.7 L503.9,136.5 L509.7,134.0 M483.3,137.5 L485.9,138.2 L489.9,135.7 L493.8,133.0 L496.8,134.0 L500.8,132.5 L503.7,131.8 L509.7,133.0 M466.8,121.8 L473.0,123.3 L478.0,120.3 L480.9,121.5 L483.9,123.3 L485.9,127.8 L489.9,129.8 L493.8,133.0 M473.0,123.3 L473.0,114.1 L478.0,112.8 L482.9,115.3 L484.9,117.8 L490.7,117.3 L492.8,121.5 L496.8,124.0 L498.8,123.0 L502.8,120.8 L509.7,118.5 L521.0,119.3 M502.8,120.8 L504.7,124.0 L501.8,125.3 L499.8,126.5 L506.7,128.0 L508.7,127.8 M496.8,134.0 L496.4,131.5 L497.8,127.8 L499.8,126.5 M433.3,134.5 L434.7,134.5 L437.3,134.5 L441.2,133.7 L445.2,133.5 L450.2,133.5 M444.4,122.8 L448.2,123.8 L448.2,126.5 L450.2,127.3 M441.2,118.0 L445.2,118.5 L450.2,119.8 L454.1,121.8 L458.1,122.0 M450.8,123.5 L454.1,123.8 M446.0,133.7 L443.6,140.5 L438.9,143.0 M432.7,144.7 L434.9,145.7 L438.9,143.0 M433.1,140.0 L434.5,141.0 L432.9,143.2 M438.9,143.0 L439.7,146.0 L445.2,148.7 L450.6,153.4 L454.1,153.7 L456.5,155.2 M454.1,153.7 L456.9,151.4 M431.3,152.9 L434.3,152.7 L437.3,150.2 L435.3,147.7 L439.7,146.0 M446.8,185.3 L449.2,182.8 L454.1,183.1 L456.1,183.8 L465.1,178.9 L472.4,171.4 L471.4,169.6 L465.1,168.9 L464.3,165.6 M465.1,178.9 L467.2,184.6 M472.4,171.4 L473.0,165.9 L473.8,164.4 M611.9,132.3 L613.9,130.8 L616.5,130.0 M608.5,126.8 L611.9,123.5 L615.9,121.5 L619.2,120.5 L621.0,120.5 M641.7,232.7 L641.7,248.9 M579.3,221.2 L584.1,222.5 L589.1,222.5 L591.1,217.5 L595.0,215.7" fill="none" stroke="#c6c6c8" stroke-width="0.75" stroke-linejoin="round"/><path d="M417.4,123.5 L417.8,120.3 L417.0,117.8 L418.8,115.3 L420.8,113.3 L423.0,110.3 L425.4,110.3 L428.3,111.6 L426.4,113.1 L428.3,115.3 L431.3,114.6 L434.3,113.6 L437.3,109.1 L439.9,108.6 L437.7,111.6 L436.3,113.3 L438.3,115.8 L441.2,118.0 L444.2,121.5 L444.6,122.8 L441.2,124.3 L437.3,124.3 L433.3,122.3 L431.3,121.5 L427.9,121.8 L424.4,123.3 L420.4,123.5Z M456.1,112.8 L459.1,110.1 L463.1,109.1 L467.0,109.8 L467.4,113.3 L463.7,115.1 L463.1,118.5 L466.4,121.5 L467.0,124.5 L469.0,125.8 L467.0,127.8 L468.8,133.2 L464.1,134.5 L461.1,133.0 L459.1,130.5 L460.1,126.0 L461.7,125.5 L459.1,122.8 L457.1,120.3 L455.9,117.8 L454.7,115.6Z" fill="#ffffff" stroke="#c4c4c6" stroke-width="0.8" stroke-linejoin="round"/></g>
<g transform="translate(0,392.3)"><path d="M28.5,62.7 L32.5,54.5 L38.4,51.0 L50.7,48.5 L60.3,49.8 L70.2,51.3 L82.1,52.5 L90.0,54.3 L94.0,53.0 L98.0,52.8 L104.9,51.8 L113.8,53.3 L119.8,52.3 L129.7,54.5 L135.7,56.2 L143.6,56.7 L149.5,55.5 L155.5,56.7 L166.4,57.2 L171.4,56.2 L171.4,51.8 L174.4,47.0 L177.3,48.5 L178.9,51.3 L182.3,55.5 L187.3,55.5 L190.2,58.0 L192.2,52.8 L198.2,53.5 L200.1,58.0 L197.2,61.2 L191.2,60.5 L188.2,64.7 L181.9,68.5 L177.3,72.9 L174.4,77.9 L174.9,79.7 L178.3,83.9 L183.3,84.2 L187.3,86.1 L193.2,88.4 L198.6,88.9 L198.8,94.1 L201.1,97.1 L204.1,97.9 L205.5,95.4 L205.1,90.4 L209.1,87.1 L210.1,82.9 L208.1,77.9 L207.5,72.9 L207.1,70.7 L213.0,70.9 L217.0,71.7 L220.0,73.7 L223.0,74.2 L224.0,78.4 L226.9,80.7 L230.9,79.7 L233.7,75.9 L238.8,82.9 L241.8,87.9 L247.8,91.6 L250.7,96.1 L248.8,98.1 L242.8,101.1 L234.9,101.1 L229.9,101.6 L225.9,104.3 L222.0,108.6 L224.0,107.1 L230.9,103.8 L234.3,104.6 L232.9,107.1 L233.9,110.8 L239.8,112.1 L242.8,111.1 L239.8,114.1 L235.9,115.3 L231.3,117.8 L230.9,115.3 L233.9,113.3 L228.9,114.6 L226.9,115.8 L223.0,117.3 L221.6,120.0 L223.0,122.0 L220.0,123.0 L215.0,125.0 L215.0,127.8 L213.0,129.5 L212.1,131.5 L211.1,134.2 L212.1,138.5 L209.1,140.2 L206.1,142.0 L204.1,144.0 L201.1,146.5 L200.3,150.2 L202.1,155.2 L202.9,160.2 L202.3,163.4 L200.9,163.4 L199.6,160.2 L197.8,156.9 L197.8,153.9 L195.2,151.4 L192.2,152.2 L189.2,150.4 L186.3,150.4 L184.3,150.9 L184.9,153.7 L182.3,153.7 L179.3,152.4 L175.3,152.2 L173.4,153.4 L169.4,156.9 L168.6,161.4 L168.0,166.4 L167.8,171.4 L168.8,173.9 L171.0,178.4 L174.4,180.8 L179.3,179.8 L181.3,178.9 L182.3,175.1 L182.7,173.6 L186.3,172.6 L189.2,172.6 L189.6,175.1 L188.2,180.1 L186.7,183.8 L186.3,186.3 L188.2,186.8 L193.2,186.3 L196.8,188.8 L196.2,195.0 L195.8,198.8 L198.2,202.5 L201.1,204.3 L204.1,202.5 L208.1,205.0 L207.5,207.5 L204.1,205.8 L202.1,208.0 L199.2,205.8 L195.8,205.0 L191.8,201.3 L191.6,198.3 L188.2,194.1 L184.3,192.6 L180.3,191.3 L177.3,187.3 L174.4,186.1 L170.4,187.1 L167.4,185.8 L163.4,183.8 L160.5,181.6 L156.5,180.6 L152.5,176.9 L152.9,172.6 L151.5,168.9 L148.6,165.1 L145.6,161.9 L142.6,156.9 L139.2,153.9 L137.2,148.4 L134.1,147.0 L134.7,151.4 L137.6,155.2 L139.6,160.2 L142.6,165.9 L144.6,168.9 L143.6,169.1 L140.6,165.1 L139.2,161.9 L135.7,157.7 L134.7,152.7 L131.7,150.2 L129.5,145.2 L126.7,141.5 L122.6,140.0 L120.0,135.2 L118.8,132.0 L116.2,127.0 L115.0,121.5 L115.8,116.6 L115.8,111.1 L114.4,105.6 L117.8,106.1 L117.4,104.1 L113.8,101.6 L108.9,99.6 L107.9,96.6 L103.9,90.4 L100.9,87.9 L98.0,84.2 L93.0,80.4 L89.0,80.2 L84.1,77.4 L76.1,76.4 L71.2,74.7 L68.2,76.7 L64.2,77.9 L60.3,75.4 L57.3,79.2 L56.3,82.4 L51.3,84.7 L47.4,87.1 L42.4,89.1 L37.4,89.9 L40.4,87.1 L44.4,85.4 L48.4,80.4 L44.4,79.7 L40.4,77.2 L35.5,74.7 L33.9,70.9 L35.5,69.0 L42.4,65.7 L37.4,65.2 L31.5,65.2Z M217.0,30.6 L226.9,35.6 L242.8,36.8 L246.8,38.1 L250.7,41.8 L252.7,46.8 L254.7,50.5 L260.7,53.0 L255.7,59.2 L258.7,65.5 L262.7,70.4 L266.6,74.2 L274.6,77.2 L276.5,75.4 L280.5,70.4 L282.5,65.5 L288.5,63.0 L296.4,58.0 L308.3,55.5 L318.2,50.5 L318.2,45.5 L319.2,40.5 L324.2,35.6 L325.2,30.6 L326.2,26.8 L332.1,23.1 L312.3,19.4 L292.4,17.9 L272.6,19.9 L252.7,21.1 L242.8,22.4 L232.9,24.3 L223.0,27.6Z M314.2,63.0 L318.2,60.7 L326.2,61.2 L332.1,60.5 L335.1,63.7 L333.1,65.7 L326.2,68.2 L320.2,67.2 L317.2,66.7Z M208.1,205.0 L211.1,202.5 L212.1,200.0 L214.0,198.8 L217.0,198.0 L219.8,195.3 L220.8,197.5 L223.0,197.3 L226.9,200.0 L230.9,199.8 L234.9,199.8 L238.8,199.5 L240.8,201.3 L242.8,205.0 L245.8,208.3 L248.8,211.2 L252.7,211.5 L256.7,212.5 L259.7,215.5 L261.7,221.2 L262.7,225.0 L265.6,228.7 L270.6,228.7 L273.6,232.4 L278.5,233.2 L282.5,233.4 L286.5,235.7 L288.5,238.7 L291.4,239.2 L292.8,243.9 L292.4,248.6 L289.4,252.4 L287.5,256.1 L284.9,258.6 L284.5,263.6 L284.1,269.8 L282.5,276.0 L280.5,281.0 L278.5,283.5 L273.6,284.3 L269.6,286.0 L266.6,289.7 L265.6,296.0 L262.7,301.0 L260.7,304.7 L257.7,308.4 L255.7,310.9 L253.7,312.9 L249.8,312.9 L246.4,311.4 L248.2,314.7 L249.4,316.9 L247.8,320.9 L244.8,322.6 L238.8,323.4 L238.2,327.1 L233.9,328.4 L232.9,330.9 L233.9,332.1 L232.5,337.1 L228.9,339.6 L227.9,342.1 L230.9,344.6 L227.9,348.3 L225.0,352.0 L225.9,356.5 L225.9,358.3 L229.9,362.0 L226.9,363.3 L223.0,363.3 L219.0,360.8 L215.0,357.0 L213.0,350.8 L212.1,344.6 L215.0,338.3 L216.0,333.4 L216.0,328.4 L216.0,322.1 L218.0,314.7 L220.0,307.2 L220.0,301.0 L221.0,293.5 L222.0,286.0 L222.6,276.0 L222.4,271.8 L220.0,269.3 L215.0,264.8 L210.7,260.3 L208.7,256.1 L205.1,246.1 L202.1,241.2 L200.5,237.9 L202.5,234.7 L203.1,232.4 L201.3,229.9 L202.9,224.5 L205.1,222.0 L205.5,219.5 L208.1,216.5 L208.5,210.0 L207.3,208.3Z M350.2,137.0 L357.9,138.7 L363.9,135.2 L367.8,134.5 L375.8,134.0 L381.3,133.2 L383.7,134.0 L382.7,136.5 L381.7,140.2 L383.7,142.7 L387.7,144.5 L392.0,145.7 L398.6,150.7 L401.6,148.9 L401.6,146.0 L405.5,144.2 L411.5,147.2 L419.4,149.2 L425.4,148.2 L429.7,148.2 L430.9,152.7 L429.9,156.9 L427.4,152.7 L426.4,151.4 L428.3,157.7 L431.3,165.1 L434.3,171.4 L435.9,178.9 L438.3,181.3 L440.2,187.6 L444.2,192.6 L447.8,195.3 L449.2,200.0 L451.2,200.0 L455.1,198.8 L459.1,198.0 L463.5,196.8 L463.1,200.3 L461.1,206.3 L457.1,213.7 L453.1,221.2 L447.2,227.4 L444.2,231.2 L441.2,234.9 L439.7,238.7 L440.2,243.6 L440.2,248.6 L442.2,252.4 L442.2,258.6 L442.6,263.6 L439.3,268.6 L434.3,273.0 L431.3,276.0 L432.3,281.0 L432.3,286.0 L427.4,289.7 L427.2,293.0 L426.4,297.2 L423.4,301.0 L421.4,304.2 L417.4,308.4 L413.5,310.4 L408.5,310.9 L401.6,312.9 L398.6,311.4 L398.2,308.4 L397.2,304.7 L394.6,297.5 L392.0,293.5 L390.6,283.5 L387.7,276.0 L385.3,268.6 L386.7,259.8 L389.1,253.6 L387.7,248.6 L386.3,241.4 L385.7,238.7 L383.7,234.9 L380.3,228.7 L380.7,223.7 L381.3,218.7 L378.7,215.0 L375.8,215.2 L372.8,215.0 L370.8,210.5 L365.8,210.5 L359.9,213.2 L356.9,214.2 L352.9,213.2 L347.0,215.2 L343.0,212.5 L339.1,209.3 L336.1,206.3 L335.1,202.5 L332.1,198.8 L328.7,195.5 L327.1,189.6 L329.1,185.1 L329.7,178.9 L328.1,173.9 L330.1,167.6 L333.1,161.4 L336.1,157.2 L342.0,153.9 L342.6,148.9 L345.0,143.2 L348.4,141.2Z M459.7,256.1 L462.1,264.8 L460.1,269.8 L458.1,277.3 L456.1,286.0 L451.6,289.7 L449.2,287.3 L447.8,281.0 L449.8,274.8 L449.2,268.6 L453.7,265.6 L457.1,259.8Z M350.8,136.5 L349.0,134.5 L347.0,133.5 L344.2,134.0 L344.4,129.8 L343.0,129.5 L344.2,124.0 L344.4,120.3 L343.4,119.0 L346.0,117.3 L351.0,117.8 L357.9,118.0 L358.9,117.8 L359.5,115.1 L359.5,111.1 L357.5,108.6 L352.9,107.1 L352.7,105.1 L355.9,104.6 L358.9,104.8 L359.3,102.3 L362.3,102.8 L364.8,101.1 L365.4,99.1 L368.8,97.9 L370.2,95.9 L371.4,94.1 L375.4,93.1 L378.7,92.6 L378.9,89.1 L377.9,87.9 L378.3,84.7 L381.7,82.7 L382.7,85.4 L382.7,87.9 L381.7,90.4 L383.7,91.6 L386.7,90.6 L389.7,91.9 L393.6,90.4 L398.6,89.6 L400.6,90.6 L403.5,87.9 L403.5,84.7 L405.5,82.7 L408.5,84.2 L410.1,82.2 L408.5,79.2 L413.5,77.9 L417.4,77.4 L421.4,76.7 L418.4,75.4 L413.5,75.7 L407.5,76.9 L404.5,74.7 L404.5,70.4 L407.5,67.2 L411.5,64.2 L412.5,63.0 L409.5,62.2 L405.5,62.5 L403.5,65.5 L399.6,68.0 L396.6,70.4 L396.6,74.2 L398.6,76.7 L399.2,78.2 L395.2,80.4 L394.6,84.2 L393.2,86.4 L390.0,88.1 L387.7,87.9 L386.7,85.9 L385.3,82.2 L384.1,79.2 L382.7,77.9 L380.7,79.2 L377.7,81.4 L374.8,81.2 L372.8,79.2 L371.8,75.4 L371.8,71.7 L375.8,69.7 L378.7,68.0 L381.7,65.5 L385.7,62.2 L388.7,58.0 L391.6,55.5 L395.6,53.0 L399.6,51.8 L403.5,51.0 L408.5,49.8 L413.1,49.0 L417.4,49.3 L423.4,51.0 L427.4,53.3 L433.3,54.0 L441.2,56.7 L443.2,59.2 L443.6,59.7 L441.2,61.2 L437.3,61.5 L431.3,60.7 L429.7,63.0 L431.3,65.7 L435.3,67.0 L439.3,65.5 L441.8,65.2 L443.2,62.2 L449.2,61.0 L449.6,58.5 L453.1,59.7 L456.1,57.7 L463.1,56.0 L468.0,54.5 L472.0,56.0 L478.9,55.2 L482.9,52.3 L490.8,53.5 L495.8,55.5 L498.8,54.8 L494.8,49.8 L497.8,45.5 L501.8,43.3 L505.7,44.8 L505.7,49.3 L508.7,58.0 L510.7,55.5 L507.7,48.0 L511.7,45.5 L518.6,46.0 L521.6,43.0 L532.5,41.8 L534.5,39.1 L550.4,36.8 L560.3,35.6 L568.8,32.6 L572.2,34.3 L582.1,35.1 L587.1,37.8 L585.7,41.8 L594.0,42.8 L598.0,44.3 L605.9,43.5 L613.9,43.0 L617.8,46.0 L618.8,49.3 L623.8,48.0 L629.8,47.8 L638.7,45.8 L641.7,44.8 L651.6,45.8 L659.5,47.8 L664.5,49.5 L673.4,49.3 L679.4,50.5 L683.3,52.8 L691.3,53.0 L699.2,51.8 L709.1,52.3 L716.1,53.3 L719.0,54.3 L719.0,64.2 L716.1,65.5 L713.1,70.4 L707.1,72.2 L700.2,76.7 L691.3,75.9 L687.3,77.2 L685.3,81.7 L683.3,81.7 L686.3,86.1 L683.3,89.6 L679.4,94.1 L676.4,95.4 L672.8,99.1 L671.4,94.9 L670.4,87.9 L672.4,82.9 L675.4,81.7 L679.4,75.4 L677.4,72.2 L671.4,72.9 L667.5,78.7 L661.5,78.7 L655.5,78.4 L649.6,78.2 L643.6,79.2 L640.7,81.7 L635.7,85.4 L631.7,90.4 L634.7,92.1 L638.7,91.1 L642.6,94.1 L641.7,97.9 L640.7,101.6 L640.3,105.3 L636.7,109.1 L632.7,115.3 L625.8,119.5 L621.8,120.3 L619.2,124.0 L618.8,126.5 L615.9,129.0 L618.6,132.8 L618.6,137.7 L614.9,139.7 L612.5,140.2 L612.9,135.2 L611.9,132.3 L609.9,131.5 L609.9,127.8 L608.5,126.8 L604.0,129.0 L603.0,124.3 L600.0,126.0 L598.0,128.5 L595.4,130.3 L597.6,132.8 L599.0,133.7 L602.0,132.3 L604.9,133.5 L601.0,136.5 L598.6,139.5 L601.0,142.7 L602.0,146.5 L604.0,149.4 L603.0,153.9 L601.0,157.7 L599.0,162.2 L595.0,167.1 L590.1,169.6 L587.1,170.9 L582.1,172.6 L580.7,175.6 L579.2,172.6 L576.2,172.6 L573.2,175.1 L571.8,178.9 L573.2,182.6 L576.2,186.3 L578.6,192.6 L578.6,197.5 L575.2,200.0 L573.2,202.5 L570.2,204.8 L569.8,200.8 L566.3,199.5 L565.3,195.8 L562.1,194.6 L560.3,192.6 L558.7,200.0 L560.1,203.3 L561.1,208.0 L562.9,209.0 L565.3,211.2 L567.0,215.0 L567.2,219.5 L568.8,222.7 L567.2,223.0 L563.3,220.0 L561.3,215.0 L560.9,211.2 L559.7,209.3 L556.9,206.3 L557.3,201.3 L557.7,196.3 L556.3,190.1 L555.5,185.1 L551.4,186.8 L549.0,185.8 L549.4,180.1 L547.4,176.9 L545.0,173.9 L544.0,170.1 L541.4,171.4 L538.5,172.1 L534.5,172.6 L533.5,176.4 L530.5,178.1 L527.6,181.3 L525.0,184.8 L521.2,187.6 L521.0,192.6 L520.2,198.8 L519.2,200.5 L517.0,204.0 L515.7,206.0 L513.7,203.8 L512.3,197.5 L510.3,193.8 L507.7,186.3 L506.3,178.9 L506.3,173.9 L505.7,172.6 L501.4,174.4 L498.8,170.6 L500.8,169.4 L497.8,167.6 L495.8,166.4 L493.8,163.2 L489.9,163.4 L483.9,163.4 L478.5,162.7 L475.6,161.9 L473.8,158.7 L470.0,160.2 L466.0,157.7 L463.9,156.7 L461.3,150.9 L458.7,150.7 L457.1,151.9 L458.1,156.4 L460.1,159.4 L462.1,163.9 L464.3,165.6 L464.1,161.7 L463.5,164.9 L466.0,165.9 L469.0,165.9 L472.0,163.2 L473.6,160.9 L473.8,165.1 L476.0,167.1 L478.5,167.6 L480.5,170.1 L478.9,173.9 L477.0,175.4 L476.4,178.9 L474.0,180.8 L471.0,183.8 L465.5,187.1 L459.1,190.1 L454.1,193.1 L451.2,194.3 L448.2,194.6 L446.8,190.1 L446.2,186.3 L444.2,181.3 L441.2,175.1 L439.3,171.4 L438.3,166.4 L435.9,163.4 L434.3,160.2 L431.3,156.2 L430.3,152.7 L429.7,148.2 L430.5,145.2 L431.5,143.7 L432.3,140.2 L433.1,137.7 L433.3,134.5 L430.3,134.5 L426.4,136.2 L422.4,135.2 L418.4,134.7 L416.0,132.8 L414.5,130.3 L415.0,127.8 L413.9,126.5 L414.9,125.3 L413.5,124.5 L409.5,124.5 L408.5,126.0 L406.9,125.3 L408.1,128.3 L409.5,131.5 L407.5,133.2 L407.1,135.2 L404.9,134.5 L403.9,132.0 L403.9,129.0 L401.6,127.3 L400.6,124.0 L400.4,121.5 L398.6,120.3 L395.6,118.3 L392.6,116.6 L390.6,113.3 L389.1,112.3 L386.5,113.1 L386.7,116.1 L388.7,117.5 L390.6,120.8 L393.6,122.8 L397.6,125.0 L398.6,126.3 L395.6,125.3 L394.8,127.3 L395.8,129.0 L393.8,131.5 L392.8,130.8 L393.2,127.8 L391.6,126.0 L389.7,124.5 L386.7,122.8 L383.7,120.3 L382.7,117.8 L380.7,116.3 L378.7,115.8 L376.8,117.1 L373.8,118.8 L370.8,118.0 L368.2,118.5 L368.2,120.8 L365.8,123.3 L363.5,124.8 L361.9,127.8 L361.3,130.3 L360.3,132.5 L357.9,134.7 L352.9,134.7Z M4.7,54.3 L9.7,55.0 L15.6,59.2 L21.6,60.5 L25.1,61.7 L22.6,63.2 L19.6,65.7 L15.6,65.0 L11.6,63.2 L7.7,63.0 L4.7,64.2Z M203.1,42.5 L211.1,44.8 L219.0,48.0 L226.9,50.5 L228.9,53.0 L233.9,58.0 L238.8,59.7 L234.9,63.0 L231.9,65.5 L232.9,69.7 L229.9,71.7 L225.9,70.4 L220.0,68.0 L216.0,65.5 L212.1,66.0 L208.1,66.0 L207.1,63.0 L215.0,63.0 L216.0,60.0 L219.0,58.0 L216.0,56.0 L209.1,53.0 L203.1,51.8 L198.2,49.8 L193.2,48.0 L187.3,45.5 L191.2,43.0 L199.2,42.3Z M190.2,64.7 L195.2,63.7 L201.1,66.7 L197.2,69.7 L189.2,68.7 L187.3,66.7Z M126.7,48.8 L128.7,44.8 L135.7,43.5 L143.6,44.3 L149.5,43.0 L154.5,44.3 L159.5,46.8 L161.5,50.5 L159.5,53.0 L153.5,54.3 L148.6,54.8 L143.6,54.8 L136.7,53.5 L131.7,53.0 L128.7,51.8 L125.7,49.8Z M112.8,47.0 L113.8,43.0 L115.8,41.0 L121.8,40.5 L128.7,42.3 L131.7,44.3 L128.7,46.8 L124.7,48.0 L118.8,49.0 L114.8,48.8Z M160.5,45.5 L162.4,42.3 L168.4,42.3 L170.4,45.5 L167.4,48.0 L162.4,48.0Z M172.4,42.3 L182.3,41.8 L181.3,45.5 L176.3,46.8 L172.4,45.5Z M164.4,55.0 L171.4,53.0 L170.4,56.0 L166.4,56.2Z M129.7,38.1 L133.7,35.6 L143.6,35.6 L151.5,36.8 L152.5,39.3 L143.6,40.3 L137.6,40.5 L131.7,39.8Z M119.8,35.6 L125.7,33.6 L131.7,34.8 L127.7,36.8 L121.8,36.8Z M161.5,38.1 L171.4,35.6 L176.3,38.1 L169.4,39.8 L163.4,39.8Z M155.5,31.1 L163.4,29.8 L169.4,31.8 L163.4,32.8Z M179.3,40.3 L203.1,40.5 L203.1,36.3 L191.2,35.3 L179.3,36.3 L177.3,38.3Z M183.3,34.3 L203.1,36.1 L207.1,35.1 L213.0,30.6 L217.0,29.3 L223.0,26.8 L232.9,24.3 L240.8,21.4 L232.9,19.9 L223.0,19.4 L203.1,19.4 L187.3,21.9 L179.3,24.3 L171.4,26.8 L173.4,30.6 L179.3,33.1Z M171.4,25.6 L183.3,23.8 L191.2,25.6 L191.2,30.6 L183.3,31.3 L175.3,30.6Z M193.2,171.6 L196.2,169.1 L199.2,168.4 L203.1,168.9 L208.1,171.9 L211.7,173.9 L214.8,175.9 L211.7,176.6 L207.7,176.6 L208.7,174.9 L206.1,172.4 L201.1,171.4 L197.2,170.9 L194.2,171.9Z M214.0,180.3 L217.4,176.6 L223.0,176.9 L226.1,179.8 L223.0,180.8 L220.2,182.3 L217.4,180.8Z M206.3,180.3 L210.7,181.3 L209.1,181.8Z M228.5,180.1 L231.7,180.6 L230.9,181.6 L228.5,181.3Z M244.2,107.6 L250.7,102.8 L251.7,97.9 L255.7,103.3 L257.3,107.8 L255.7,109.8 L251.7,109.1 L247.8,107.6Z M107.3,99.9 L112.8,100.9 L117.0,105.6 L113.8,104.3 L108.9,101.6Z M52.3,178.9 L54.3,177.1 L52.7,175.9Z M240.8,354.0 L246.8,353.8 L245.8,356.3 L241.8,355.8Z M350.6,101.6 L355.9,100.1 L364.6,98.6 L365.2,94.9 L362.5,93.1 L361.3,90.4 L358.7,87.6 L357.7,83.7 L358.3,82.7 L354.9,82.4 L355.5,80.2 L351.9,80.2 L350.6,82.9 L349.6,85.9 L351.0,88.1 L352.3,89.6 L355.3,89.4 L355.5,91.6 L355.9,93.4 L352.7,93.4 L353.5,95.9 L351.6,97.4 L354.9,98.1 L352.9,98.9Z M350.0,96.1 L350.0,92.9 L349.6,90.9 L351.0,90.1 L347.4,88.4 L345.0,89.1 L342.0,91.1 L342.0,93.4 L343.4,95.1 L341.2,96.9 L343.0,97.9 L346.0,97.1 L349.4,96.1Z M383.7,30.6 L391.6,34.3 L395.6,35.6 L399.6,31.8 L405.5,29.8 L415.4,27.3 L405.5,25.6 L395.6,26.8 L385.7,27.3 L383.3,29.3Z M465.1,48.0 L471.0,50.3 L476.0,50.0 L473.0,45.5 L477.0,40.5 L484.9,37.3 L497.8,34.6 L490.8,34.3 L478.9,36.8 L472.0,40.5 L471.0,44.3 L466.0,46.8Z M550.4,30.6 L560.3,29.3 L570.2,30.6 L568.2,26.8 L556.3,24.3 L544.4,26.8Z M631.7,41.8 L643.6,43.0 L659.5,40.5 L655.5,38.1 L639.7,36.8 L633.7,38.1Z M643.6,111.6 L646.6,110.3 L645.6,104.1 L648.6,104.1 L645.6,97.9 L645.6,94.1 L644.6,90.9 L643.6,92.9 L643.2,96.6 L643.6,104.1 L643.4,109.1Z M639.7,122.8 L642.1,122.0 L646.2,121.5 L650.6,118.3 L650.0,116.1 L643.6,112.8 L642.6,115.8 L642.6,118.5 L639.7,120.0Z M641.7,123.0 L642.8,125.3 L643.6,127.8 L641.7,131.0 L641.5,134.0 L640.7,137.0 L639.3,139.0 L637.3,140.0 L633.7,140.0 L631.7,142.7 L629.9,141.0 L625.8,140.7 L621.8,140.7 L621.6,139.2 L624.8,137.7 L630.7,137.5 L632.7,134.0 L634.3,132.8 L636.7,132.0 L639.3,129.0 L639.7,125.8 L640.3,123.3Z M619.8,142.0 L622.8,142.2 L622.8,146.5 L621.8,148.4 L620.2,148.4 L619.4,144.0Z M624.8,144.0 L627.8,143.2 L629.2,141.5 L625.8,141.5Z M600.2,168.9 L602.0,163.4 L604.0,163.9 L603.0,168.9 L601.6,171.4Z M577.4,178.4 L580.1,176.1 L582.1,177.4 L580.1,180.6 L577.6,180.1Z M600.0,180.1 L604.5,180.1 L604.0,186.3 L604.9,191.3 L607.9,193.8 L605.5,192.6 L603.0,191.3 L601.2,190.3 L600.0,186.3 L599.6,183.8Z M604.0,208.8 L607.9,205.0 L610.9,201.8 L612.9,207.5 L610.9,211.7 L607.9,210.0Z M604.9,196.8 L608.9,195.0 L611.5,198.8 L608.9,201.3 L605.9,202.5Z M594.4,205.0 L599.4,198.8 L598.8,199.8 L594.8,205.5Z M578.2,222.5 L579.3,221.2 L582.1,221.7 L586.1,218.2 L591.1,213.0 L594.0,208.8 L598.6,213.2 L596.4,215.5 L595.6,222.5 L597.6,223.7 L595.0,225.0 L593.0,229.9 L593.0,234.9 L589.1,236.2 L584.1,234.4 L580.5,233.7 L579.5,229.9 L578.2,226.2Z M551.0,212.2 L555.3,213.2 L560.3,220.0 L567.8,225.0 L569.2,229.9 L572.2,233.7 L571.8,240.7 L569.2,240.7 L564.9,236.2 L561.3,228.7 L557.9,221.7 L553.4,217.0Z M570.6,242.9 L576.2,241.9 L582.1,242.4 L585.1,243.4 L589.1,245.4 L588.9,247.9 L582.1,246.9 L576.2,245.6 L572.2,244.4Z M590.1,246.6 L598.0,246.9 L605.9,246.9 L605.9,247.9 L596.0,248.6 L590.1,248.1Z M607.9,251.1 L614.5,247.1 L609.9,249.4Z M599.0,239.9 L601.0,239.9 L600.6,233.2 L602.6,238.2 L605.5,237.4 L603.0,230.7 L606.5,228.7 L602.0,229.2 L601.6,225.0 L608.9,225.0 L609.9,222.5 L606.9,223.7 L600.4,224.2 L599.2,227.4 L597.6,232.9 L599.0,234.9Z M621.8,229.4 L624.8,227.2 L627.8,228.7 L630.7,234.4 L635.7,230.4 L641.7,232.7 L648.6,235.7 L651.6,239.9 L654.6,241.7 L656.5,247.4 L660.5,252.4 L657.5,251.9 L654.6,251.1 L651.6,246.6 L647.6,245.4 L645.6,248.6 L641.7,248.9 L637.7,246.4 L635.3,239.2 L630.7,237.2 L626.8,235.7 L623.8,233.2 L625.8,231.9 L622.4,229.9Z M587.1,281.0 L588.1,291.0 L586.9,292.2 L589.3,297.5 L590.1,302.2 L591.5,307.2 L590.3,311.4 L595.0,313.7 L600.0,310.7 L606.9,310.7 L610.9,307.7 L617.8,305.2 L622.4,304.7 L627.8,307.9 L630.7,312.9 L632.7,309.7 L634.7,308.4 L635.3,313.7 L638.7,315.4 L640.7,320.9 L646.6,322.9 L652.0,323.6 L654.6,320.9 L659.3,319.6 L659.9,314.7 L662.5,309.7 L665.5,303.5 L666.7,296.5 L665.9,289.7 L661.5,284.0 L658.5,281.8 L657.1,277.3 L652.6,273.5 L650.6,266.1 L650.2,263.1 L646.6,261.1 L645.6,254.9 L644.6,252.9 L643.2,257.3 L642.6,263.6 L641.3,269.6 L638.7,269.8 L635.3,267.3 L631.3,263.6 L633.3,256.9 L630.7,256.1 L625.8,254.4 L622.8,254.6 L620.4,257.3 L618.8,262.3 L615.9,263.6 L612.9,261.1 L609.9,263.6 L606.9,267.3 L604.4,271.1 L603.0,274.8 L598.0,276.0 L594.0,277.8 L589.5,280.5Z M649.0,327.6 L652.6,328.6 L656.1,328.1 L656.1,331.4 L653.6,334.6 L651.6,334.9 L650.0,331.6Z M704.6,311.9 L708.1,314.7 L710.1,318.4 L716.1,320.1 L714.9,323.9 L712.1,325.9 L709.5,329.9 L708.5,329.1 L709.1,325.9 L706.7,323.9 L708.1,320.9 L707.5,317.2 L705.2,313.4Z M704.6,327.1 L707.7,329.1 L707.1,330.9 L704.8,335.1 L701.6,337.1 L700.4,340.6 L697.6,342.3 L692.3,340.8 L692.9,338.8 L695.8,335.8 L700.2,332.9 L702.2,329.6Z M520.2,210.7 L520.8,201.8 L523.0,205.0 L524.4,207.5 L523.8,210.5 L521.6,211.5Z M386.5,131.5 L392.8,130.8 L391.6,134.7Z M378.5,124.0 L381.3,124.0 L380.9,129.0 L378.5,129.0Z M380.5,119.0 L380.9,123.0 L378.9,122.0Z M408.5,137.7 L414.1,138.5 L409.5,138.7Z M426.0,139.0 L430.3,137.5 L427.4,140.0Z" fill="#f7f7f8" stroke="#c4c4c6" stroke-width="0.8" stroke-linejoin="round"/><path d="M117.2,104.1 L173.0,104.1 L173.0,103.1 L184.1,106.6 L193.6,110.3 L198.4,113.3 L198.2,120.3 L205.1,119.0 L210.1,116.1 L213.6,114.1 L220.0,114.1 L221.6,113.1 L223.0,109.8 L224.6,108.1 L226.9,108.3 L227.3,112.3 L228.7,113.8 M82.1,52.8 L82.1,75.9 L86.1,76.7 L89.0,78.7 L93.0,77.2 L97.0,80.7 L101.9,86.6 L103.9,88.4 M129.5,145.2 L134.3,144.7 L141.6,148.2 L147.2,148.2 L147.2,147.0 L150.5,147.0 L154.5,152.4 L157.5,153.9 L160.5,151.9 L164.4,157.7 L169.0,161.7 M178.9,190.1 L178.9,188.3 L180.5,186.1 L182.5,186.1 L182.5,181.8 L185.1,181.8 L186.7,180.1 M184.9,181.8 L184.9,186.6 L186.9,187.1 M183.1,192.1 L184.7,190.3 L186.9,191.6 L187.6,193.1 M188.6,193.8 L193.2,190.6 L196.8,188.8 M191.8,198.3 L195.8,199.0 M197.2,205.3 L198.0,202.5 M218.6,198.5 L218.0,200.0 L218.2,206.3 L223.0,208.8 L227.9,210.7 L227.3,215.0 L228.3,221.2 L229.1,223.2 M205.5,222.7 L209.1,225.2 L212.5,226.4 L216.0,229.2 L219.0,232.2 L223.0,236.7 L224.2,228.7 L223.0,224.7 L224.0,223.5 L228.9,223.2 M228.9,223.2 L234.9,216.2 L237.5,216.2 L241.2,213.2 L242.8,205.0 M241.2,213.2 L242.8,218.7 L246.8,222.5 L250.7,221.5 L254.1,220.5 L259.5,215.7 M248.8,211.2 L246.8,221.2 M254.7,212.0 L254.1,220.5 M202.5,234.7 L206.1,237.4 L211.1,232.4 L212.5,226.4 M223.0,236.7 L217.0,242.4 L216.0,249.9 L222.0,253.6 L224.0,253.6 L225.5,257.3 L224.4,263.6 L224.0,269.8 L222.2,271.8 M224.0,253.6 L231.9,251.1 L232.9,254.9 L238.8,259.8 L241.8,261.1 L242.8,266.1 L246.4,266.8 L246.8,269.8 L246.4,275.5 M224.0,269.8 L225.9,274.8 L226.9,279.8 L228.5,283.0 L232.9,281.0 L237.3,281.0 L239.2,275.0 L244.8,274.3 L246.4,275.5 M237.3,281.0 L242.8,286.0 L246.4,294.0 L251.1,294.5 L253.5,290.0 L251.3,282.3 L247.2,281.3 L246.4,275.5 M253.5,290.0 L255.1,293.7 L251.1,297.2 L247.6,301.5 L251.7,303.0 L255.7,307.2 L255.7,310.2 M247.6,301.5 L246.0,309.7 M228.5,283.0 L226.1,287.3 L225.7,293.5 L223.4,301.0 L223.0,308.4 L222.0,315.9 L221.0,323.4 L219.4,330.9 L219.6,338.3 L218.0,345.8 L216.4,350.8 L218.6,354.5 L224.6,356.3 L225.7,357.3 L225.7,363.3 M358.3,139.0 L358.7,145.2 L354.7,147.5 L351.0,152.4 L344.6,154.7 L344.6,157.2 L335.7,157.2 M344.6,157.2 L344.6,161.4 L338.1,161.4 L338.1,167.6 L336.1,173.1 L328.1,173.1 M344.6,158.2 L352.3,163.9 L349.0,164.1 L351.0,185.3 L339.2,187.3 L337.7,189.3 L329.1,185.8 M328.7,195.3 L337.7,195.3 L339.2,195.3 L337.7,189.3 M334.7,194.6 L339.2,195.3 L345.0,197.5 L346.0,200.8 L347.0,205.3 L345.0,207.3 L341.0,205.3 L339.1,208.8 M335.7,203.3 L339.6,201.3 L341.0,205.3 M352.3,163.9 L364.3,173.4 L370.2,177.6 L373.4,177.9 L376.8,174.4 L385.5,167.6 M351.0,200.3 L351.4,196.8 L357.3,189.3 L362.5,189.1 L364.4,188.1 L369.0,187.3 L370.2,184.1 L370.2,177.6 M345.0,200.8 L351.0,200.3 L356.1,199.0 L362.9,198.8 L366.6,196.5 L364.4,188.1 M347.0,215.2 L345.0,207.3 M355.7,213.5 L356.1,199.0 M364.3,211.0 L362.9,198.8 M365.0,210.7 L363.7,198.8 M367.2,210.3 L367.8,202.5 L369.0,197.0 L369.8,192.6 L374.8,192.3 L379.7,194.3 L386.7,193.3 L389.7,193.8 M378.9,134.2 L378.3,140.0 L376.8,143.5 L379.9,146.2 L380.7,150.7 L381.3,152.9 L381.7,163.2 L385.5,167.6 L389.7,170.1 L393.4,167.9 L409.5,177.6 L409.5,176.4 L411.5,171.4 L411.5,147.5 M411.5,171.4 L435.1,171.4 M393.4,167.9 L392.6,174.6 L392.6,186.3 L388.7,191.8 L389.7,193.8 L390.6,196.3 L391.6,201.3 L389.5,202.5 M378.7,214.7 L380.7,210.0 L384.7,208.8 L385.7,205.0 L388.7,200.8 L390.6,196.3 M409.5,177.6 L409.5,187.1 L406.3,191.3 L406.5,196.3 L407.3,199.0 L408.5,204.5 L414.5,202.5 L421.4,201.3 L427.4,196.3 L429.3,202.5 M389.5,202.5 L392.6,207.5 L390.6,207.5 L392.6,213.7 L394.0,220.7 L398.6,217.5 L403.5,215.0 L411.5,213.7 L416.2,213.7 L423.0,217.5 L423.8,220.7 L421.2,222.5 L421.4,226.2 L420.6,229.7 L419.4,229.9 L419.8,234.9 L420.4,241.2 L422.4,246.6 M392.6,207.5 L398.6,204.3 L407.3,199.0 M381.3,220.5 L384.3,220.7 L388.3,220.7 L390.6,222.5 M384.3,220.7 L384.3,223.7 L380.7,223.7 M390.6,222.5 L387.7,232.4 L385.7,234.9 L383.9,235.9 M386.1,238.7 L390.6,237.4 L393.6,231.2 L396.6,226.2 L397.6,220.0 L398.6,217.5 M386.3,241.4 L393.6,244.9 L396.6,246.1 L400.6,243.6 L405.1,244.4 L405.9,253.6 L409.5,253.6 L409.5,258.6 L405.5,258.6 L405.5,267.3 L408.5,269.8 L412.1,270.6 M409.5,253.6 L412.5,254.9 L416.4,257.3 L419.4,259.6 L421.0,256.6 L418.4,251.1 L418.4,247.4 L422.4,246.6 M429.3,202.5 L427.7,205.3 L431.3,213.7 L429.1,215.7 L423.8,216.7 M434.3,190.6 L435.1,186.3 L438.3,181.3 M429.3,202.5 L432.3,195.0 L434.3,190.6 L437.3,190.1 L441.2,190.1 L446.0,195.0 M446.0,195.0 L446.8,198.8 L447.6,197.5 M446.8,198.8 L450.2,203.8 L457.1,206.3 L451.2,213.7 L445.2,216.2 L443.2,218.7 L443.2,230.4 M431.3,213.7 L437.3,217.2 L444.8,216.2 M429.3,215.7 L430.3,223.7 L429.3,228.7 L436.3,234.9 L439.7,237.9 M420.6,228.7 L423.0,228.7 L429.3,228.7 M442.0,252.4 L437.3,254.4 L432.3,254.9 L430.3,249.9 L427.4,249.4 L423.8,247.6 L422.4,246.6 M427.4,249.4 L427.4,260.6 L431.3,262.3 L431.9,268.6 L430.3,263.6 L430.3,253.6 M422.2,265.1 L427.4,262.3 L427.0,267.8 L427.4,276.0 L425.4,281.8 L424.0,282.0 L425.2,289.7 L427.2,293.0 M412.1,270.6 L417.4,267.3 L422.2,265.1 M385.3,269.1 L389.7,269.6 L398.6,269.6 L403.5,271.1 L408.5,270.6 L412.1,270.6 M401.6,271.1 L401.6,281.0 L401.6,288.0 L401.6,297.0 L394.6,297.5 M401.6,288.0 L405.5,290.5 L412.5,290.0 L415.4,286.0 L420.2,281.5 L424.0,282.0 M412.1,270.6 L414.5,274.8 L417.4,279.8 L420.2,281.5 M415.6,300.5 L417.8,297.7 L420.2,299.7 L419.0,302.2 L416.4,302.2 L415.6,300.5 M429.7,148.2 L431.1,152.7 M344.2,121.8 L348.0,121.5 L349.0,122.8 L348.0,126.0 L347.0,127.8 L348.0,131.0 L347.0,133.5 M358.3,118.0 L361.9,119.8 L368.2,120.5 M366.8,98.9 L369.8,101.1 L373.4,102.8 L378.1,104.1 L377.0,107.6 L373.8,111.1 L375.8,112.1 L375.8,115.3 L376.8,117.1 M368.6,98.1 L371.8,98.1 L373.8,99.6 L373.4,102.8 M376.2,93.4 L373.8,97.1 L373.8,99.6 M378.9,89.4 L381.5,89.6 M390.0,91.9 L390.8,95.4 L391.6,99.1 L386.7,100.9 L389.3,104.6 L387.7,107.8 L382.7,107.8 L380.9,107.8 L377.0,107.6 M373.8,111.1 L377.3,111.8 L380.7,110.8 L382.7,109.6 L380.9,107.8 M382.7,109.6 L386.7,109.1 L389.1,110.3 L388.9,112.8 M389.3,104.6 L391.6,104.1 L395.6,105.1 L395.6,107.3 L394.6,109.3 L393.6,109.8 L389.1,110.3 M391.6,99.1 L394.6,100.9 L399.2,102.8 L406.5,103.8 L409.5,100.4 L408.5,95.4 L408.5,91.6 L407.1,90.6 L400.6,90.6 M395.6,105.1 L399.2,102.8 M395.6,107.3 L399.2,107.1 L405.7,105.6 L407.3,106.8 L404.5,111.1 L402.2,111.3 L399.2,111.8 L396.0,110.3 L394.6,109.3 M407.3,106.8 L414.7,105.8 L417.8,110.3 L417.8,113.1 L420.6,113.6 M406.9,116.1 L411.5,117.3 L415.4,116.3 L418.6,117.1 M404.5,111.1 L404.3,114.3 L406.5,115.1 L406.9,116.1 L406.3,119.0 L406.3,120.8 L407.5,123.0 L413.5,123.3 L417.4,121.5 M401.6,127.3 L403.3,124.5 L406.3,123.5 L414.1,122.3 L413.7,124.5 M393.0,113.6 L400.0,113.6 L400.4,117.8 L398.6,120.3 M400.4,117.8 L402.5,119.3 L404.5,121.0 L406.3,120.8 M400.4,121.5 L402.7,120.3 L402.7,124.0 L403.3,124.5 M394.6,110.3 L392.6,112.8 L393.0,113.6 M399.2,111.8 L400.0,113.6 M408.7,97.6 L415.4,97.6 L422.4,98.4 L425.0,96.4 L430.3,97.4 L432.3,100.6 L437.7,101.6 L441.2,102.6 L440.6,107.1 L437.7,108.8 M414.7,105.8 L417.4,105.3 L419.8,106.8 L421.4,110.3 L417.8,113.1 M405.7,105.6 L406.5,103.8 M408.5,91.9 L412.5,90.9 L414.7,87.4 L417.8,86.4 L423.4,87.1 L426.8,93.4 L425.0,96.4 M403.5,86.4 L411.5,86.1 L414.7,87.4 M410.1,82.2 L416.2,82.9 L417.4,78.2 M416.2,82.9 L417.8,86.4 M418.4,75.4 L421.4,72.4 L424.4,69.5 L420.4,65.5 L421.4,57.5 L418.4,55.5 L419.4,53.0 L423.0,52.3 M409.5,62.2 L408.5,58.0 L403.5,54.3 L405.5,55.2 L411.5,54.8 L413.5,52.0 L417.4,52.3 L419.4,53.0 M384.1,79.2 L386.7,75.4 L386.1,69.2 L389.7,65.5 L392.6,61.0 L395.6,56.7 L398.6,55.5 L402.5,54.3 L403.5,54.3 M459.1,110.1 L458.5,106.1 L454.1,105.3 L456.1,100.6 L462.1,97.9 L471.0,99.6 L477.0,99.1 L482.9,99.6 L483.9,96.6 L482.9,91.6 L490.8,90.1 L500.8,88.6 L507.7,91.6 L512.7,91.6 L516.6,93.4 L520.6,99.6 L526.6,99.1 L531.5,102.8 L535.1,103.6 M536.1,103.6 L540.5,100.4 L548.4,101.6 L556.3,100.4 L557.3,96.6 L564.3,97.9 L572.2,100.9 L576.2,103.3 L584.1,102.8 L591.1,102.1 L594.0,102.3 M594.0,102.3 L597.0,101.8 L599.0,94.6 L605.9,92.9 L611.9,94.6 L614.9,102.3 L621.0,104.3 L621.8,107.1 L629.2,105.8 L626.2,114.1 L622.2,114.6 L621.8,119.3 L621.0,120.5 M536.1,103.6 L542.4,111.6 L552.4,119.0 L562.3,120.0 L570.2,122.8 L583.1,117.5 L588.1,114.6 L594.6,110.3 L599.6,109.1 L594.0,102.3 M535.1,103.6 L532.1,109.1 L526.2,112.8 L521.0,114.1 L521.2,121.0 L514.7,124.0 L508.7,127.8 L510.7,134.0 L514.7,137.2 L518.2,142.7 L518.6,148.9 L522.6,150.9 L528.6,155.2 L536.5,156.7 L538.5,157.9 L544.4,156.9 L554.3,156.4 L557.3,162.7 L555.3,166.6 L559.3,171.1 L562.7,173.1 L564.3,170.4 L567.2,169.6 L573.4,169.4 L576.2,172.6 M514.7,137.7 L509.7,140.2 L508.7,144.0 L510.7,145.5 L509.7,148.9 L506.7,152.7 L502.8,156.4 L500.8,162.7 L497.8,167.4 M520.8,151.4 L522.6,155.2 L528.6,157.9 L536.9,160.4 L536.5,156.7 M536.7,171.4 L537.9,165.9 L537.1,162.7 L540.1,161.4 L544.4,163.7 L545.0,166.4 L545.6,173.4 M545.0,171.9 L547.0,168.1 L549.4,164.1 L550.8,159.7 L554.3,156.4 M557.3,201.3 L558.7,195.0 L557.3,188.8 L555.7,182.6 L557.3,176.9 L560.3,175.4 L562.7,173.1 M561.3,175.9 L562.7,177.6 L565.3,181.3 L569.2,182.6 L571.2,188.8 L566.3,190.3 L565.3,195.8 M564.3,170.4 L568.2,175.1 L570.2,180.1 L574.2,185.6 L575.2,189.6 L572.2,196.8 L569.2,200.0 M571.2,190.6 L575.2,189.6 M560.5,210.0 L563.9,211.7 L564.5,210.7 M484.1,163.4 L487.5,158.4 L486.5,155.7 L482.9,151.9 L482.7,147.7 L481.9,142.7 L483.3,137.5 L478.9,133.2 L473.0,131.5 L469.0,132.8 M457.1,151.4 L458.1,147.7 L456.1,144.0 L452.2,141.5 L452.8,137.0 L450.2,133.5 L449.2,129.0 L450.8,127.3 L454.1,129.3 L457.1,129.0 L457.1,130.5 L458.9,130.5 M486.5,152.9 L493.8,151.7 L494.2,148.4 L499.4,146.7 L501.8,141.7 L503.2,139.7 L503.9,136.5 L509.7,134.0 M483.3,137.5 L485.9,138.2 L489.9,135.7 L493.8,133.0 L496.8,134.0 L500.8,132.5 L503.7,131.8 L509.7,133.0 M466.8,121.8 L473.0,123.3 L478.0,120.3 L480.9,121.5 L483.9,123.3 L485.9,127.8 L489.9,129.8 L493.8,133.0 M473.0,123.3 L473.0,114.1 L478.0,112.8 L482.9,115.3 L484.9,117.8 L490.7,117.3 L492.8,121.5 L496.8,124.0 L498.8,123.0 L502.8,120.8 L509.7,118.5 L521.0,119.3 M502.8,120.8 L504.7,124.0 L501.8,125.3 L499.8,126.5 L506.7,128.0 L508.7,127.8 M496.8,134.0 L496.4,131.5 L497.8,127.8 L499.8,126.5 M433.3,134.5 L434.7,134.5 L437.3,134.5 L441.2,133.7 L445.2,133.5 L450.2,133.5 M444.4,122.8 L448.2,123.8 L448.2,126.5 L450.2,127.3 M441.2,118.0 L445.2,118.5 L450.2,119.8 L454.1,121.8 L458.1,122.0 M450.8,123.5 L454.1,123.8 M446.0,133.7 L443.6,140.5 L438.9,143.0 M432.7,144.7 L434.9,145.7 L438.9,143.0 M433.1,140.0 L434.5,141.0 L432.9,143.2 M438.9,143.0 L439.7,146.0 L445.2,148.7 L450.6,153.4 L454.1,153.7 L456.5,155.2 M454.1,153.7 L456.9,151.4 M431.3,152.9 L434.3,152.7 L437.3,150.2 L435.3,147.7 L439.7,146.0 M446.8,185.3 L449.2,182.8 L454.1,183.1 L456.1,183.8 L465.1,178.9 L472.4,171.4 L471.4,169.6 L465.1,168.9 L464.3,165.6 M465.1,178.9 L467.2,184.6 M472.4,171.4 L473.0,165.9 L473.8,164.4 M611.9,132.3 L613.9,130.8 L616.5,130.0 M608.5,126.8 L611.9,123.5 L615.9,121.5 L619.2,120.5 L621.0,120.5 M641.7,232.7 L641.7,248.9 M579.3,221.2 L584.1,222.5 L589.1,222.5 L591.1,217.5 L595.0,215.7" fill="none" stroke="#c6c6c8" stroke-width="0.75" stroke-linejoin="round"/><path d="M417.4,123.5 L417.8,120.3 L417.0,117.8 L418.8,115.3 L420.8,113.3 L423.0,110.3 L425.4,110.3 L428.3,111.6 L426.4,113.1 L428.3,115.3 L431.3,114.6 L434.3,113.6 L437.3,109.1 L439.9,108.6 L437.7,111.6 L436.3,113.3 L438.3,115.8 L441.2,118.0 L444.2,121.5 L444.6,122.8 L441.2,124.3 L437.3,124.3 L433.3,122.3 L431.3,121.5 L427.9,121.8 L424.4,123.3 L420.4,123.5Z M456.1,112.8 L459.1,110.1 L463.1,109.1 L467.0,109.8 L467.4,113.3 L463.7,115.1 L463.1,118.5 L466.4,121.5 L467.0,124.5 L469.0,125.8 L467.0,127.8 L468.8,133.2 L464.1,134.5 L461.1,133.0 L459.1,130.5 L460.1,126.0 L461.7,125.5 L459.1,122.8 L457.1,120.3 L455.9,117.8 L454.7,115.6Z" fill="#ffffff" stroke="#c4c4c6" stroke-width="0.8" stroke-linejoin="round"/></g>
<g transform="translate(0,785.2)"><path d="M28.5,62.7 L32.5,54.5 L38.4,51.0 L50.7,48.5 L60.3,49.8 L70.2,51.3 L82.1,52.5 L90.0,54.3 L94.0,53.0 L98.0,52.8 L104.9,51.8 L113.8,53.3 L119.8,52.3 L129.7,54.5 L135.7,56.2 L143.6,56.7 L149.5,55.5 L155.5,56.7 L166.4,57.2 L171.4,56.2 L171.4,51.8 L174.4,47.0 L177.3,48.5 L178.9,51.3 L182.3,55.5 L187.3,55.5 L190.2,58.0 L192.2,52.8 L198.2,53.5 L200.1,58.0 L197.2,61.2 L191.2,60.5 L188.2,64.7 L181.9,68.5 L177.3,72.9 L174.4,77.9 L174.9,79.7 L178.3,83.9 L183.3,84.2 L187.3,86.1 L193.2,88.4 L198.6,88.9 L198.8,94.1 L201.1,97.1 L204.1,97.9 L205.5,95.4 L205.1,90.4 L209.1,87.1 L210.1,82.9 L208.1,77.9 L207.5,72.9 L207.1,70.7 L213.0,70.9 L217.0,71.7 L220.0,73.7 L223.0,74.2 L224.0,78.4 L226.9,80.7 L230.9,79.7 L233.7,75.9 L238.8,82.9 L241.8,87.9 L247.8,91.6 L250.7,96.1 L248.8,98.1 L242.8,101.1 L234.9,101.1 L229.9,101.6 L225.9,104.3 L222.0,108.6 L224.0,107.1 L230.9,103.8 L234.3,104.6 L232.9,107.1 L233.9,110.8 L239.8,112.1 L242.8,111.1 L239.8,114.1 L235.9,115.3 L231.3,117.8 L230.9,115.3 L233.9,113.3 L228.9,114.6 L226.9,115.8 L223.0,117.3 L221.6,120.0 L223.0,122.0 L220.0,123.0 L215.0,125.0 L215.0,127.8 L213.0,129.5 L212.1,131.5 L211.1,134.2 L212.1,138.5 L209.1,140.2 L206.1,142.0 L204.1,144.0 L201.1,146.5 L200.3,150.2 L202.1,155.2 L202.9,160.2 L202.3,163.4 L200.9,163.4 L199.6,160.2 L197.8,156.9 L197.8,153.9 L195.2,151.4 L192.2,152.2 L189.2,150.4 L186.3,150.4 L184.3,150.9 L184.9,153.7 L182.3,153.7 L179.3,152.4 L175.3,152.2 L173.4,153.4 L169.4,156.9 L168.6,161.4 L168.0,166.4 L167.8,171.4 L168.8,173.9 L171.0,178.4 L174.4,180.8 L179.3,179.8 L181.3,178.9 L182.3,175.1 L182.7,173.6 L186.3,172.6 L189.2,172.6 L189.6,175.1 L188.2,180.1 L186.7,183.8 L186.3,186.3 L188.2,186.8 L193.2,186.3 L196.8,188.8 L196.2,195.0 L195.8,198.8 L198.2,202.5 L201.1,204.3 L204.1,202.5 L208.1,205.0 L207.5,207.5 L204.1,205.8 L202.1,208.0 L199.2,205.8 L195.8,205.0 L191.8,201.3 L191.6,198.3 L188.2,194.1 L184.3,192.6 L180.3,191.3 L177.3,187.3 L174.4,186.1 L170.4,187.1 L167.4,185.8 L163.4,183.8 L160.5,181.6 L156.5,180.6 L152.5,176.9 L152.9,172.6 L151.5,168.9 L148.6,165.1 L145.6,161.9 L142.6,156.9 L139.2,153.9 L137.2,148.4 L134.1,147.0 L134.7,151.4 L137.6,155.2 L139.6,160.2 L142.6,165.9 L144.6,168.9 L143.6,169.1 L140.6,165.1 L139.2,161.9 L135.7,157.7 L134.7,152.7 L131.7,150.2 L129.5,145.2 L126.7,141.5 L122.6,140.0 L120.0,135.2 L118.8,132.0 L116.2,127.0 L115.0,121.5 L115.8,116.6 L115.8,111.1 L114.4,105.6 L117.8,106.1 L117.4,104.1 L113.8,101.6 L108.9,99.6 L107.9,96.6 L103.9,90.4 L100.9,87.9 L98.0,84.2 L93.0,80.4 L89.0,80.2 L84.1,77.4 L76.1,76.4 L71.2,74.7 L68.2,76.7 L64.2,77.9 L60.3,75.4 L57.3,79.2 L56.3,82.4 L51.3,84.7 L47.4,87.1 L42.4,89.1 L37.4,89.9 L40.4,87.1 L44.4,85.4 L48.4,80.4 L44.4,79.7 L40.4,77.2 L35.5,74.7 L33.9,70.9 L35.5,69.0 L42.4,65.7 L37.4,65.2 L31.5,65.2Z M217.0,30.6 L226.9,35.6 L242.8,36.8 L246.8,38.1 L250.7,41.8 L252.7,46.8 L254.7,50.5 L260.7,53.0 L255.7,59.2 L258.7,65.5 L262.7,70.4 L266.6,74.2 L274.6,77.2 L276.5,75.4 L280.5,70.4 L282.5,65.5 L288.5,63.0 L296.4,58.0 L308.3,55.5 L318.2,50.5 L318.2,45.5 L319.2,40.5 L324.2,35.6 L325.2,30.6 L326.2,26.8 L332.1,23.1 L312.3,19.4 L292.4,17.9 L272.6,19.9 L252.7,21.1 L242.8,22.4 L232.9,24.3 L223.0,27.6Z M314.2,63.0 L318.2,60.7 L326.2,61.2 L332.1,60.5 L335.1,63.7 L333.1,65.7 L326.2,68.2 L320.2,67.2 L317.2,66.7Z M208.1,205.0 L211.1,202.5 L212.1,200.0 L214.0,198.8 L217.0,198.0 L219.8,195.3 L220.8,197.5 L223.0,197.3 L226.9,200.0 L230.9,199.8 L234.9,199.8 L238.8,199.5 L240.8,201.3 L242.8,205.0 L245.8,208.3 L248.8,211.2 L252.7,211.5 L256.7,212.5 L259.7,215.5 L261.7,221.2 L262.7,225.0 L265.6,228.7 L270.6,228.7 L273.6,232.4 L278.5,233.2 L282.5,233.4 L286.5,235.7 L288.5,238.7 L291.4,239.2 L292.8,243.9 L292.4,248.6 L289.4,252.4 L287.5,256.1 L284.9,258.6 L284.5,263.6 L284.1,269.8 L282.5,276.0 L280.5,281.0 L278.5,283.5 L273.6,284.3 L269.6,286.0 L266.6,289.7 L265.6,296.0 L262.7,301.0 L260.7,304.7 L257.7,308.4 L255.7,310.9 L253.7,312.9 L249.8,312.9 L246.4,311.4 L248.2,314.7 L249.4,316.9 L247.8,320.9 L244.8,322.6 L238.8,323.4 L238.2,327.1 L233.9,328.4 L232.9,330.9 L233.9,332.1 L232.5,337.1 L228.9,339.6 L227.9,342.1 L230.9,344.6 L227.9,348.3 L225.0,352.0 L225.9,356.5 L225.9,358.3 L229.9,362.0 L226.9,363.3 L223.0,363.3 L219.0,360.8 L215.0,357.0 L213.0,350.8 L212.1,344.6 L215.0,338.3 L216.0,333.4 L216.0,328.4 L216.0,322.1 L218.0,314.7 L220.0,307.2 L220.0,301.0 L221.0,293.5 L222.0,286.0 L222.6,276.0 L222.4,271.8 L220.0,269.3 L215.0,264.8 L210.7,260.3 L208.7,256.1 L205.1,246.1 L202.1,241.2 L200.5,237.9 L202.5,234.7 L203.1,232.4 L201.3,229.9 L202.9,224.5 L205.1,222.0 L205.5,219.5 L208.1,216.5 L208.5,210.0 L207.3,208.3Z M350.2,137.0 L357.9,138.7 L363.9,135.2 L367.8,134.5 L375.8,134.0 L381.3,133.2 L383.7,134.0 L382.7,136.5 L381.7,140.2 L383.7,142.7 L387.7,144.5 L392.0,145.7 L398.6,150.7 L401.6,148.9 L401.6,146.0 L405.5,144.2 L411.5,147.2 L419.4,149.2 L425.4,148.2 L429.7,148.2 L430.9,152.7 L429.9,156.9 L427.4,152.7 L426.4,151.4 L428.3,157.7 L431.3,165.1 L434.3,171.4 L435.9,178.9 L438.3,181.3 L440.2,187.6 L444.2,192.6 L447.8,195.3 L449.2,200.0 L451.2,200.0 L455.1,198.8 L459.1,198.0 L463.5,196.8 L463.1,200.3 L461.1,206.3 L457.1,213.7 L453.1,221.2 L447.2,227.4 L444.2,231.2 L441.2,234.9 L439.7,238.7 L440.2,243.6 L440.2,248.6 L442.2,252.4 L442.2,258.6 L442.6,263.6 L439.3,268.6 L434.3,273.0 L431.3,276.0 L432.3,281.0 L432.3,286.0 L427.4,289.7 L427.2,293.0 L426.4,297.2 L423.4,301.0 L421.4,304.2 L417.4,308.4 L413.5,310.4 L408.5,310.9 L401.6,312.9 L398.6,311.4 L398.2,308.4 L397.2,304.7 L394.6,297.5 L392.0,293.5 L390.6,283.5 L387.7,276.0 L385.3,268.6 L386.7,259.8 L389.1,253.6 L387.7,248.6 L386.3,241.4 L385.7,238.7 L383.7,234.9 L380.3,228.7 L380.7,223.7 L381.3,218.7 L378.7,215.0 L375.8,215.2 L372.8,215.0 L370.8,210.5 L365.8,210.5 L359.9,213.2 L356.9,214.2 L352.9,213.2 L347.0,215.2 L343.0,212.5 L339.1,209.3 L336.1,206.3 L335.1,202.5 L332.1,198.8 L328.7,195.5 L327.1,189.6 L329.1,185.1 L329.7,178.9 L328.1,173.9 L330.1,167.6 L333.1,161.4 L336.1,157.2 L342.0,153.9 L342.6,148.9 L345.0,143.2 L348.4,141.2Z M459.7,256.1 L462.1,264.8 L460.1,269.8 L458.1,277.3 L456.1,286.0 L451.6,289.7 L449.2,287.3 L447.8,281.0 L449.8,274.8 L449.2,268.6 L453.7,265.6 L457.1,259.8Z M350.8,136.5 L349.0,134.5 L347.0,133.5 L344.2,134.0 L344.4,129.8 L343.0,129.5 L344.2,124.0 L344.4,120.3 L343.4,119.0 L346.0,117.3 L351.0,117.8 L357.9,118.0 L358.9,117.8 L359.5,115.1 L359.5,111.1 L357.5,108.6 L352.9,107.1 L352.7,105.1 L355.9,104.6 L358.9,104.8 L359.3,102.3 L362.3,102.8 L364.8,101.1 L365.4,99.1 L368.8,97.9 L370.2,95.9 L371.4,94.1 L375.4,93.1 L378.7,92.6 L378.9,89.1 L377.9,87.9 L378.3,84.7 L381.7,82.7 L382.7,85.4 L382.7,87.9 L381.7,90.4 L383.7,91.6 L386.7,90.6 L389.7,91.9 L393.6,90.4 L398.6,89.6 L400.6,90.6 L403.5,87.9 L403.5,84.7 L405.5,82.7 L408.5,84.2 L410.1,82.2 L408.5,79.2 L413.5,77.9 L417.4,77.4 L421.4,76.7 L418.4,75.4 L413.5,75.7 L407.5,76.9 L404.5,74.7 L404.5,70.4 L407.5,67.2 L411.5,64.2 L412.5,63.0 L409.5,62.2 L405.5,62.5 L403.5,65.5 L399.6,68.0 L396.6,70.4 L396.6,74.2 L398.6,76.7 L399.2,78.2 L395.2,80.4 L394.6,84.2 L393.2,86.4 L390.0,88.1 L387.7,87.9 L386.7,85.9 L385.3,82.2 L384.1,79.2 L382.7,77.9 L380.7,79.2 L377.7,81.4 L374.8,81.2 L372.8,79.2 L371.8,75.4 L371.8,71.7 L375.8,69.7 L378.7,68.0 L381.7,65.5 L385.7,62.2 L388.7,58.0 L391.6,55.5 L395.6,53.0 L399.6,51.8 L403.5,51.0 L408.5,49.8 L413.1,49.0 L417.4,49.3 L423.4,51.0 L427.4,53.3 L433.3,54.0 L441.2,56.7 L443.2,59.2 L443.6,59.7 L441.2,61.2 L437.3,61.5 L431.3,60.7 L429.7,63.0 L431.3,65.7 L435.3,67.0 L439.3,65.5 L441.8,65.2 L443.2,62.2 L449.2,61.0 L449.6,58.5 L453.1,59.7 L456.1,57.7 L463.1,56.0 L468.0,54.5 L472.0,56.0 L478.9,55.2 L482.9,52.3 L490.8,53.5 L495.8,55.5 L498.8,54.8 L494.8,49.8 L497.8,45.5 L501.8,43.3 L505.7,44.8 L505.7,49.3 L508.7,58.0 L510.7,55.5 L507.7,48.0 L511.7,45.5 L518.6,46.0 L521.6,43.0 L532.5,41.8 L534.5,39.1 L550.4,36.8 L560.3,35.6 L568.8,32.6 L572.2,34.3 L582.1,35.1 L587.1,37.8 L585.7,41.8 L594.0,42.8 L598.0,44.3 L605.9,43.5 L613.9,43.0 L617.8,46.0 L618.8,49.3 L623.8,48.0 L629.8,47.8 L638.7,45.8 L641.7,44.8 L651.6,45.8 L659.5,47.8 L664.5,49.5 L673.4,49.3 L679.4,50.5 L683.3,52.8 L691.3,53.0 L699.2,51.8 L709.1,52.3 L716.1,53.3 L719.0,54.3 L719.0,64.2 L716.1,65.5 L713.1,70.4 L707.1,72.2 L700.2,76.7 L691.3,75.9 L687.3,77.2 L685.3,81.7 L683.3,81.7 L686.3,86.1 L683.3,89.6 L679.4,94.1 L676.4,95.4 L672.8,99.1 L671.4,94.9 L670.4,87.9 L672.4,82.9 L675.4,81.7 L679.4,75.4 L677.4,72.2 L671.4,72.9 L667.5,78.7 L661.5,78.7 L655.5,78.4 L649.6,78.2 L643.6,79.2 L640.7,81.7 L635.7,85.4 L631.7,90.4 L634.7,92.1 L638.7,91.1 L642.6,94.1 L641.7,97.9 L640.7,101.6 L640.3,105.3 L636.7,109.1 L632.7,115.3 L625.8,119.5 L621.8,120.3 L619.2,124.0 L618.8,126.5 L615.9,129.0 L618.6,132.8 L618.6,137.7 L614.9,139.7 L612.5,140.2 L612.9,135.2 L611.9,132.3 L609.9,131.5 L609.9,127.8 L608.5,126.8 L604.0,129.0 L603.0,124.3 L600.0,126.0 L598.0,128.5 L595.4,130.3 L597.6,132.8 L599.0,133.7 L602.0,132.3 L604.9,133.5 L601.0,136.5 L598.6,139.5 L601.0,142.7 L602.0,146.5 L604.0,149.4 L603.0,153.9 L601.0,157.7 L599.0,162.2 L595.0,167.1 L590.1,169.6 L587.1,170.9 L582.1,172.6 L580.7,175.6 L579.2,172.6 L576.2,172.6 L573.2,175.1 L571.8,178.9 L573.2,182.6 L576.2,186.3 L578.6,192.6 L578.6,197.5 L575.2,200.0 L573.2,202.5 L570.2,204.8 L569.8,200.8 L566.3,199.5 L565.3,195.8 L562.1,194.6 L560.3,192.6 L558.7,200.0 L560.1,203.3 L561.1,208.0 L562.9,209.0 L565.3,211.2 L567.0,215.0 L567.2,219.5 L568.8,222.7 L567.2,223.0 L563.3,220.0 L561.3,215.0 L560.9,211.2 L559.7,209.3 L556.9,206.3 L557.3,201.3 L557.7,196.3 L556.3,190.1 L555.5,185.1 L551.4,186.8 L549.0,185.8 L549.4,180.1 L547.4,176.9 L545.0,173.9 L544.0,170.1 L541.4,171.4 L538.5,172.1 L534.5,172.6 L533.5,176.4 L530.5,178.1 L527.6,181.3 L525.0,184.8 L521.2,187.6 L521.0,192.6 L520.2,198.8 L519.2,200.5 L517.0,204.0 L515.7,206.0 L513.7,203.8 L512.3,197.5 L510.3,193.8 L507.7,186.3 L506.3,178.9 L506.3,173.9 L505.7,172.6 L501.4,174.4 L498.8,170.6 L500.8,169.4 L497.8,167.6 L495.8,166.4 L493.8,163.2 L489.9,163.4 L483.9,163.4 L478.5,162.7 L475.6,161.9 L473.8,158.7 L470.0,160.2 L466.0,157.7 L463.9,156.7 L461.3,150.9 L458.7,150.7 L457.1,151.9 L458.1,156.4 L460.1,159.4 L462.1,163.9 L464.3,165.6 L464.1,161.7 L463.5,164.9 L466.0,165.9 L469.0,165.9 L472.0,163.2 L473.6,160.9 L473.8,165.1 L476.0,167.1 L478.5,167.6 L480.5,170.1 L478.9,173.9 L477.0,175.4 L476.4,178.9 L474.0,180.8 L471.0,183.8 L465.5,187.1 L459.1,190.1 L454.1,193.1 L451.2,194.3 L448.2,194.6 L446.8,190.1 L446.2,186.3 L444.2,181.3 L441.2,175.1 L439.3,171.4 L438.3,166.4 L435.9,163.4 L434.3,160.2 L431.3,156.2 L430.3,152.7 L429.7,148.2 L430.5,145.2 L431.5,143.7 L432.3,140.2 L433.1,137.7 L433.3,134.5 L430.3,134.5 L426.4,136.2 L422.4,135.2 L418.4,134.7 L416.0,132.8 L414.5,130.3 L415.0,127.8 L413.9,126.5 L414.9,125.3 L413.5,124.5 L409.5,124.5 L408.5,126.0 L406.9,125.3 L408.1,128.3 L409.5,131.5 L407.5,133.2 L407.1,135.2 L404.9,134.5 L403.9,132.0 L403.9,129.0 L401.6,127.3 L400.6,124.0 L400.4,121.5 L398.6,120.3 L395.6,118.3 L392.6,116.6 L390.6,113.3 L389.1,112.3 L386.5,113.1 L386.7,116.1 L388.7,117.5 L390.6,120.8 L393.6,122.8 L397.6,125.0 L398.6,126.3 L395.6,125.3 L394.8,127.3 L395.8,129.0 L393.8,131.5 L392.8,130.8 L393.2,127.8 L391.6,126.0 L389.7,124.5 L386.7,122.8 L383.7,120.3 L382.7,117.8 L380.7,116.3 L378.7,115.8 L376.8,117.1 L373.8,118.8 L370.8,118.0 L368.2,118.5 L368.2,120.8 L365.8,123.3 L363.5,124.8 L361.9,127.8 L361.3,130.3 L360.3,132.5 L357.9,134.7 L352.9,134.7Z M4.7,54.3 L9.7,55.0 L15.6,59.2 L21.6,60.5 L25.1,61.7 L22.6,63.2 L19.6,65.7 L15.6,65.0 L11.6,63.2 L7.7,63.0 L4.7,64.2Z M203.1,42.5 L211.1,44.8 L219.0,48.0 L226.9,50.5 L228.9,53.0 L233.9,58.0 L238.8,59.7 L234.9,63.0 L231.9,65.5 L232.9,69.7 L229.9,71.7 L225.9,70.4 L220.0,68.0 L216.0,65.5 L212.1,66.0 L208.1,66.0 L207.1,63.0 L215.0,63.0 L216.0,60.0 L219.0,58.0 L216.0,56.0 L209.1,53.0 L203.1,51.8 L198.2,49.8 L193.2,48.0 L187.3,45.5 L191.2,43.0 L199.2,42.3Z M190.2,64.7 L195.2,63.7 L201.1,66.7 L197.2,69.7 L189.2,68.7 L187.3,66.7Z M126.7,48.8 L128.7,44.8 L135.7,43.5 L143.6,44.3 L149.5,43.0 L154.5,44.3 L159.5,46.8 L161.5,50.5 L159.5,53.0 L153.5,54.3 L148.6,54.8 L143.6,54.8 L136.7,53.5 L131.7,53.0 L128.7,51.8 L125.7,49.8Z M112.8,47.0 L113.8,43.0 L115.8,41.0 L121.8,40.5 L128.7,42.3 L131.7,44.3 L128.7,46.8 L124.7,48.0 L118.8,49.0 L114.8,48.8Z M160.5,45.5 L162.4,42.3 L168.4,42.3 L170.4,45.5 L167.4,48.0 L162.4,48.0Z M172.4,42.3 L182.3,41.8 L181.3,45.5 L176.3,46.8 L172.4,45.5Z M164.4,55.0 L171.4,53.0 L170.4,56.0 L166.4,56.2Z M129.7,38.1 L133.7,35.6 L143.6,35.6 L151.5,36.8 L152.5,39.3 L143.6,40.3 L137.6,40.5 L131.7,39.8Z M119.8,35.6 L125.7,33.6 L131.7,34.8 L127.7,36.8 L121.8,36.8Z M161.5,38.1 L171.4,35.6 L176.3,38.1 L169.4,39.8 L163.4,39.8Z M155.5,31.1 L163.4,29.8 L169.4,31.8 L163.4,32.8Z M179.3,40.3 L203.1,40.5 L203.1,36.3 L191.2,35.3 L179.3,36.3 L177.3,38.3Z M183.3,34.3 L203.1,36.1 L207.1,35.1 L213.0,30.6 L217.0,29.3 L223.0,26.8 L232.9,24.3 L240.8,21.4 L232.9,19.9 L223.0,19.4 L203.1,19.4 L187.3,21.9 L179.3,24.3 L171.4,26.8 L173.4,30.6 L179.3,33.1Z M171.4,25.6 L183.3,23.8 L191.2,25.6 L191.2,30.6 L183.3,31.3 L175.3,30.6Z M193.2,171.6 L196.2,169.1 L199.2,168.4 L203.1,168.9 L208.1,171.9 L211.7,173.9 L214.8,175.9 L211.7,176.6 L207.7,176.6 L208.7,174.9 L206.1,172.4 L201.1,171.4 L197.2,170.9 L194.2,171.9Z M214.0,180.3 L217.4,176.6 L223.0,176.9 L226.1,179.8 L223.0,180.8 L220.2,182.3 L217.4,180.8Z M206.3,180.3 L210.7,181.3 L209.1,181.8Z M228.5,180.1 L231.7,180.6 L230.9,181.6 L228.5,181.3Z M244.2,107.6 L250.7,102.8 L251.7,97.9 L255.7,103.3 L257.3,107.8 L255.7,109.8 L251.7,109.1 L247.8,107.6Z M107.3,99.9 L112.8,100.9 L117.0,105.6 L113.8,104.3 L108.9,101.6Z M52.3,178.9 L54.3,177.1 L52.7,175.9Z M240.8,354.0 L246.8,353.8 L245.8,356.3 L241.8,355.8Z M350.6,101.6 L355.9,100.1 L364.6,98.6 L365.2,94.9 L362.5,93.1 L361.3,90.4 L358.7,87.6 L357.7,83.7 L358.3,82.7 L354.9,82.4 L355.5,80.2 L351.9,80.2 L350.6,82.9 L349.6,85.9 L351.0,88.1 L352.3,89.6 L355.3,89.4 L355.5,91.6 L355.9,93.4 L352.7,93.4 L353.5,95.9 L351.6,97.4 L354.9,98.1 L352.9,98.9Z M350.0,96.1 L350.0,92.9 L349.6,90.9 L351.0,90.1 L347.4,88.4 L345.0,89.1 L342.0,91.1 L342.0,93.4 L343.4,95.1 L341.2,96.9 L343.0,97.9 L346.0,97.1 L349.4,96.1Z M383.7,30.6 L391.6,34.3 L395.6,35.6 L399.6,31.8 L405.5,29.8 L415.4,27.3 L405.5,25.6 L395.6,26.8 L385.7,27.3 L383.3,29.3Z M465.1,48.0 L471.0,50.3 L476.0,50.0 L473.0,45.5 L477.0,40.5 L484.9,37.3 L497.8,34.6 L490.8,34.3 L478.9,36.8 L472.0,40.5 L471.0,44.3 L466.0,46.8Z M550.4,30.6 L560.3,29.3 L570.2,30.6 L568.2,26.8 L556.3,24.3 L544.4,26.8Z M631.7,41.8 L643.6,43.0 L659.5,40.5 L655.5,38.1 L639.7,36.8 L633.7,38.1Z M643.6,111.6 L646.6,110.3 L645.6,104.1 L648.6,104.1 L645.6,97.9 L645.6,94.1 L644.6,90.9 L643.6,92.9 L643.2,96.6 L643.6,104.1 L643.4,109.1Z M639.7,122.8 L642.1,122.0 L646.2,121.5 L650.6,118.3 L650.0,116.1 L643.6,112.8 L642.6,115.8 L642.6,118.5 L639.7,120.0Z M641.7,123.0 L642.8,125.3 L643.6,127.8 L641.7,131.0 L641.5,134.0 L640.7,137.0 L639.3,139.0 L637.3,140.0 L633.7,140.0 L631.7,142.7 L629.9,141.0 L625.8,140.7 L621.8,140.7 L621.6,139.2 L624.8,137.7 L630.7,137.5 L632.7,134.0 L634.3,132.8 L636.7,132.0 L639.3,129.0 L639.7,125.8 L640.3,123.3Z M619.8,142.0 L622.8,142.2 L622.8,146.5 L621.8,148.4 L620.2,148.4 L619.4,144.0Z M624.8,144.0 L627.8,143.2 L629.2,141.5 L625.8,141.5Z M600.2,168.9 L602.0,163.4 L604.0,163.9 L603.0,168.9 L601.6,171.4Z M577.4,178.4 L580.1,176.1 L582.1,177.4 L580.1,180.6 L577.6,180.1Z M600.0,180.1 L604.5,180.1 L604.0,186.3 L604.9,191.3 L607.9,193.8 L605.5,192.6 L603.0,191.3 L601.2,190.3 L600.0,186.3 L599.6,183.8Z M604.0,208.8 L607.9,205.0 L610.9,201.8 L612.9,207.5 L610.9,211.7 L607.9,210.0Z M604.9,196.8 L608.9,195.0 L611.5,198.8 L608.9,201.3 L605.9,202.5Z M594.4,205.0 L599.4,198.8 L598.8,199.8 L594.8,205.5Z M578.2,222.5 L579.3,221.2 L582.1,221.7 L586.1,218.2 L591.1,213.0 L594.0,208.8 L598.6,213.2 L596.4,215.5 L595.6,222.5 L597.6,223.7 L595.0,225.0 L593.0,229.9 L593.0,234.9 L589.1,236.2 L584.1,234.4 L580.5,233.7 L579.5,229.9 L578.2,226.2Z M551.0,212.2 L555.3,213.2 L560.3,220.0 L567.8,225.0 L569.2,229.9 L572.2,233.7 L571.8,240.7 L569.2,240.7 L564.9,236.2 L561.3,228.7 L557.9,221.7 L553.4,217.0Z M570.6,242.9 L576.2,241.9 L582.1,242.4 L585.1,243.4 L589.1,245.4 L588.9,247.9 L582.1,246.9 L576.2,245.6 L572.2,244.4Z M590.1,246.6 L598.0,246.9 L605.9,246.9 L605.9,247.9 L596.0,248.6 L590.1,248.1Z M607.9,251.1 L614.5,247.1 L609.9,249.4Z M599.0,239.9 L601.0,239.9 L600.6,233.2 L602.6,238.2 L605.5,237.4 L603.0,230.7 L606.5,228.7 L602.0,229.2 L601.6,225.0 L608.9,225.0 L609.9,222.5 L606.9,223.7 L600.4,224.2 L599.2,227.4 L597.6,232.9 L599.0,234.9Z M621.8,229.4 L624.8,227.2 L627.8,228.7 L630.7,234.4 L635.7,230.4 L641.7,232.7 L648.6,235.7 L651.6,239.9 L654.6,241.7 L656.5,247.4 L660.5,252.4 L657.5,251.9 L654.6,251.1 L651.6,246.6 L647.6,245.4 L645.6,248.6 L641.7,248.9 L637.7,246.4 L635.3,239.2 L630.7,237.2 L626.8,235.7 L623.8,233.2 L625.8,231.9 L622.4,229.9Z M587.1,281.0 L588.1,291.0 L586.9,292.2 L589.3,297.5 L590.1,302.2 L591.5,307.2 L590.3,311.4 L595.0,313.7 L600.0,310.7 L606.9,310.7 L610.9,307.7 L617.8,305.2 L622.4,304.7 L627.8,307.9 L630.7,312.9 L632.7,309.7 L634.7,308.4 L635.3,313.7 L638.7,315.4 L640.7,320.9 L646.6,322.9 L652.0,323.6 L654.6,320.9 L659.3,319.6 L659.9,314.7 L662.5,309.7 L665.5,303.5 L666.7,296.5 L665.9,289.7 L661.5,284.0 L658.5,281.8 L657.1,277.3 L652.6,273.5 L650.6,266.1 L650.2,263.1 L646.6,261.1 L645.6,254.9 L644.6,252.9 L643.2,257.3 L642.6,263.6 L641.3,269.6 L638.7,269.8 L635.3,267.3 L631.3,263.6 L633.3,256.9 L630.7,256.1 L625.8,254.4 L622.8,254.6 L620.4,257.3 L618.8,262.3 L615.9,263.6 L612.9,261.1 L609.9,263.6 L606.9,267.3 L604.4,271.1 L603.0,274.8 L598.0,276.0 L594.0,277.8 L589.5,280.5Z M649.0,327.6 L652.6,328.6 L656.1,328.1 L656.1,331.4 L653.6,334.6 L651.6,334.9 L650.0,331.6Z M704.6,311.9 L708.1,314.7 L710.1,318.4 L716.1,320.1 L714.9,323.9 L712.1,325.9 L709.5,329.9 L708.5,329.1 L709.1,325.9 L706.7,323.9 L708.1,320.9 L707.5,317.2 L705.2,313.4Z M704.6,327.1 L707.7,329.1 L707.1,330.9 L704.8,335.1 L701.6,337.1 L700.4,340.6 L697.6,342.3 L692.3,340.8 L692.9,338.8 L695.8,335.8 L700.2,332.9 L702.2,329.6Z M520.2,210.7 L520.8,201.8 L523.0,205.0 L524.4,207.5 L523.8,210.5 L521.6,211.5Z M386.5,131.5 L392.8,130.8 L391.6,134.7Z M378.5,124.0 L381.3,124.0 L380.9,129.0 L378.5,129.0Z M380.5,119.0 L380.9,123.0 L378.9,122.0Z M408.5,137.7 L414.1,138.5 L409.5,138.7Z M426.0,139.0 L430.3,137.5 L427.4,140.0Z" fill="#f7f7f8" stroke="#c4c4c6" stroke-width="0.8" stroke-linejoin="round"/><path d="M117.2,104.1 L173.0,104.1 L173.0,103.1 L184.1,106.6 L193.6,110.3 L198.4,113.3 L198.2,120.3 L205.1,119.0 L210.1,116.1 L213.6,114.1 L220.0,114.1 L221.6,113.1 L223.0,109.8 L224.6,108.1 L226.9,108.3 L227.3,112.3 L228.7,113.8 M82.1,52.8 L82.1,75.9 L86.1,76.7 L89.0,78.7 L93.0,77.2 L97.0,80.7 L101.9,86.6 L103.9,88.4 M129.5,145.2 L134.3,144.7 L141.6,148.2 L147.2,148.2 L147.2,147.0 L150.5,147.0 L154.5,152.4 L157.5,153.9 L160.5,151.9 L164.4,157.7 L169.0,161.7 M178.9,190.1 L178.9,188.3 L180.5,186.1 L182.5,186.1 L182.5,181.8 L185.1,181.8 L186.7,180.1 M184.9,181.8 L184.9,186.6 L186.9,187.1 M183.1,192.1 L184.7,190.3 L186.9,191.6 L187.6,193.1 M188.6,193.8 L193.2,190.6 L196.8,188.8 M191.8,198.3 L195.8,199.0 M197.2,205.3 L198.0,202.5 M218.6,198.5 L218.0,200.0 L218.2,206.3 L223.0,208.8 L227.9,210.7 L227.3,215.0 L228.3,221.2 L229.1,223.2 M205.5,222.7 L209.1,225.2 L212.5,226.4 L216.0,229.2 L219.0,232.2 L223.0,236.7 L224.2,228.7 L223.0,224.7 L224.0,223.5 L228.9,223.2 M228.9,223.2 L234.9,216.2 L237.5,216.2 L241.2,213.2 L242.8,205.0 M241.2,213.2 L242.8,218.7 L246.8,222.5 L250.7,221.5 L254.1,220.5 L259.5,215.7 M248.8,211.2 L246.8,221.2 M254.7,212.0 L254.1,220.5 M202.5,234.7 L206.1,237.4 L211.1,232.4 L212.5,226.4 M223.0,236.7 L217.0,242.4 L216.0,249.9 L222.0,253.6 L224.0,253.6 L225.5,257.3 L224.4,263.6 L224.0,269.8 L222.2,271.8 M224.0,253.6 L231.9,251.1 L232.9,254.9 L238.8,259.8 L241.8,261.1 L242.8,266.1 L246.4,266.8 L246.8,269.8 L246.4,275.5 M224.0,269.8 L225.9,274.8 L226.9,279.8 L228.5,283.0 L232.9,281.0 L237.3,281.0 L239.2,275.0 L244.8,274.3 L246.4,275.5 M237.3,281.0 L242.8,286.0 L246.4,294.0 L251.1,294.5 L253.5,290.0 L251.3,282.3 L247.2,281.3 L246.4,275.5 M253.5,290.0 L255.1,293.7 L251.1,297.2 L247.6,301.5 L251.7,303.0 L255.7,307.2 L255.7,310.2 M247.6,301.5 L246.0,309.7 M228.5,283.0 L226.1,287.3 L225.7,293.5 L223.4,301.0 L223.0,308.4 L222.0,315.9 L221.0,323.4 L219.4,330.9 L219.6,338.3 L218.0,345.8 L216.4,350.8 L218.6,354.5 L224.6,356.3 L225.7,357.3 L225.7,363.3 M358.3,139.0 L358.7,145.2 L354.7,147.5 L351.0,152.4 L344.6,154.7 L344.6,157.2 L335.7,157.2 M344.6,157.2 L344.6,161.4 L338.1,161.4 L338.1,167.6 L336.1,173.1 L328.1,173.1 M344.6,158.2 L352.3,163.9 L349.0,164.1 L351.0,185.3 L339.2,187.3 L337.7,189.3 L329.1,185.8 M328.7,195.3 L337.7,195.3 L339.2,195.3 L337.7,189.3 M334.7,194.6 L339.2,195.3 L345.0,197.5 L346.0,200.8 L347.0,205.3 L345.0,207.3 L341.0,205.3 L339.1,208.8 M335.7,203.3 L339.6,201.3 L341.0,205.3 M352.3,163.9 L364.3,173.4 L370.2,177.6 L373.4,177.9 L376.8,174.4 L385.5,167.6 M351.0,200.3 L351.4,196.8 L357.3,189.3 L362.5,189.1 L364.4,188.1 L369.0,187.3 L370.2,184.1 L370.2,177.6 M345.0,200.8 L351.0,200.3 L356.1,199.0 L362.9,198.8 L366.6,196.5 L364.4,188.1 M347.0,215.2 L345.0,207.3 M355.7,213.5 L356.1,199.0 M364.3,211.0 L362.9,198.8 M365.0,210.7 L363.7,198.8 M367.2,210.3 L367.8,202.5 L369.0,197.0 L369.8,192.6 L374.8,192.3 L379.7,194.3 L386.7,193.3 L389.7,193.8 M378.9,134.2 L378.3,140.0 L376.8,143.5 L379.9,146.2 L380.7,150.7 L381.3,152.9 L381.7,163.2 L385.5,167.6 L389.7,170.1 L393.4,167.9 L409.5,177.6 L409.5,176.4 L411.5,171.4 L411.5,147.5 M411.5,171.4 L435.1,171.4 M393.4,167.9 L392.6,174.6 L392.6,186.3 L388.7,191.8 L389.7,193.8 L390.6,196.3 L391.6,201.3 L389.5,202.5 M378.7,214.7 L380.7,210.0 L384.7,208.8 L385.7,205.0 L388.7,200.8 L390.6,196.3 M409.5,177.6 L409.5,187.1 L406.3,191.3 L406.5,196.3 L407.3,199.0 L408.5,204.5 L414.5,202.5 L421.4,201.3 L427.4,196.3 L429.3,202.5 M389.5,202.5 L392.6,207.5 L390.6,207.5 L392.6,213.7 L394.0,220.7 L398.6,217.5 L403.5,215.0 L411.5,213.7 L416.2,213.7 L423.0,217.5 L423.8,220.7 L421.2,222.5 L421.4,226.2 L420.6,229.7 L419.4,229.9 L419.8,234.9 L420.4,241.2 L422.4,246.6 M392.6,207.5 L398.6,204.3 L407.3,199.0 M381.3,220.5 L384.3,220.7 L388.3,220.7 L390.6,222.5 M384.3,220.7 L384.3,223.7 L380.7,223.7 M390.6,222.5 L387.7,232.4 L385.7,234.9 L383.9,235.9 M386.1,238.7 L390.6,237.4 L393.6,231.2 L396.6,226.2 L397.6,220.0 L398.6,217.5 M386.3,241.4 L393.6,244.9 L396.6,246.1 L400.6,243.6 L405.1,244.4 L405.9,253.6 L409.5,253.6 L409.5,258.6 L405.5,258.6 L405.5,267.3 L408.5,269.8 L412.1,270.6 M409.5,253.6 L412.5,254.9 L416.4,257.3 L419.4,259.6 L421.0,256.6 L418.4,251.1 L418.4,247.4 L422.4,246.6 M429.3,202.5 L427.7,205.3 L431.3,213.7 L429.1,215.7 L423.8,216.7 M434.3,190.6 L435.1,186.3 L438.3,181.3 M429.3,202.5 L432.3,195.0 L434.3,190.6 L437.3,190.1 L441.2,190.1 L446.0,195.0 M446.0,195.0 L446.8,198.8 L447.6,197.5 M446.8,198.8 L450.2,203.8 L457.1,206.3 L451.2,213.7 L445.2,216.2 L443.2,218.7 L443.2,230.4 M431.3,213.7 L437.3,217.2 L444.8,216.2 M429.3,215.7 L430.3,223.7 L429.3,228.7 L436.3,234.9 L439.7,237.9 M420.6,228.7 L423.0,228.7 L429.3,228.7 M442.0,252.4 L437.3,254.4 L432.3,254.9 L430.3,249.9 L427.4,249.4 L423.8,247.6 L422.4,246.6 M427.4,249.4 L427.4,260.6 L431.3,262.3 L431.9,268.6 L430.3,263.6 L430.3,253.6 M422.2,265.1 L427.4,262.3 L427.0,267.8 L427.4,276.0 L425.4,281.8 L424.0,282.0 L425.2,289.7 L427.2,293.0 M412.1,270.6 L417.4,267.3 L422.2,265.1 M385.3,269.1 L389.7,269.6 L398.6,269.6 L403.5,271.1 L408.5,270.6 L412.1,270.6 M401.6,271.1 L401.6,281.0 L401.6,288.0 L401.6,297.0 L394.6,297.5 M401.6,288.0 L405.5,290.5 L412.5,290.0 L415.4,286.0 L420.2,281.5 L424.0,282.0 M412.1,270.6 L414.5,274.8 L417.4,279.8 L420.2,281.5 M415.6,300.5 L417.8,297.7 L420.2,299.7 L419.0,302.2 L416.4,302.2 L415.6,300.5 M429.7,148.2 L431.1,152.7 M344.2,121.8 L348.0,121.5 L349.0,122.8 L348.0,126.0 L347.0,127.8 L348.0,131.0 L347.0,133.5 M358.3,118.0 L361.9,119.8 L368.2,120.5 M366.8,98.9 L369.8,101.1 L373.4,102.8 L378.1,104.1 L377.0,107.6 L373.8,111.1 L375.8,112.1 L375.8,115.3 L376.8,117.1 M368.6,98.1 L371.8,98.1 L373.8,99.6 L373.4,102.8 M376.2,93.4 L373.8,97.1 L373.8,99.6 M378.9,89.4 L381.5,89.6 M390.0,91.9 L390.8,95.4 L391.6,99.1 L386.7,100.9 L389.3,104.6 L387.7,107.8 L382.7,107.8 L380.9,107.8 L377.0,107.6 M373.8,111.1 L377.3,111.8 L380.7,110.8 L382.7,109.6 L380.9,107.8 M382.7,109.6 L386.7,109.1 L389.1,110.3 L388.9,112.8 M389.3,104.6 L391.6,104.1 L395.6,105.1 L395.6,107.3 L394.6,109.3 L393.6,109.8 L389.1,110.3 M391.6,99.1 L394.6,100.9 L399.2,102.8 L406.5,103.8 L409.5,100.4 L408.5,95.4 L408.5,91.6 L407.1,90.6 L400.6,90.6 M395.6,105.1 L399.2,102.8 M395.6,107.3 L399.2,107.1 L405.7,105.6 L407.3,106.8 L404.5,111.1 L402.2,111.3 L399.2,111.8 L396.0,110.3 L394.6,109.3 M407.3,106.8 L414.7,105.8 L417.8,110.3 L417.8,113.1 L420.6,113.6 M406.9,116.1 L411.5,117.3 L415.4,116.3 L418.6,117.1 M404.5,111.1 L404.3,114.3 L406.5,115.1 L406.9,116.1 L406.3,119.0 L406.3,120.8 L407.5,123.0 L413.5,123.3 L417.4,121.5 M401.6,127.3 L403.3,124.5 L406.3,123.5 L414.1,122.3 L413.7,124.5 M393.0,113.6 L400.0,113.6 L400.4,117.8 L398.6,120.3 M400.4,117.8 L402.5,119.3 L404.5,121.0 L406.3,120.8 M400.4,121.5 L402.7,120.3 L402.7,124.0 L403.3,124.5 M394.6,110.3 L392.6,112.8 L393.0,113.6 M399.2,111.8 L400.0,113.6 M408.7,97.6 L415.4,97.6 L422.4,98.4 L425.0,96.4 L430.3,97.4 L432.3,100.6 L437.7,101.6 L441.2,102.6 L440.6,107.1 L437.7,108.8 M414.7,105.8 L417.4,105.3 L419.8,106.8 L421.4,110.3 L417.8,113.1 M405.7,105.6 L406.5,103.8 M408.5,91.9 L412.5,90.9 L414.7,87.4 L417.8,86.4 L423.4,87.1 L426.8,93.4 L425.0,96.4 M403.5,86.4 L411.5,86.1 L414.7,87.4 M410.1,82.2 L416.2,82.9 L417.4,78.2 M416.2,82.9 L417.8,86.4 M418.4,75.4 L421.4,72.4 L424.4,69.5 L420.4,65.5 L421.4,57.5 L418.4,55.5 L419.4,53.0 L423.0,52.3 M409.5,62.2 L408.5,58.0 L403.5,54.3 L405.5,55.2 L411.5,54.8 L413.5,52.0 L417.4,52.3 L419.4,53.0 M384.1,79.2 L386.7,75.4 L386.1,69.2 L389.7,65.5 L392.6,61.0 L395.6,56.7 L398.6,55.5 L402.5,54.3 L403.5,54.3 M459.1,110.1 L458.5,106.1 L454.1,105.3 L456.1,100.6 L462.1,97.9 L471.0,99.6 L477.0,99.1 L482.9,99.6 L483.9,96.6 L482.9,91.6 L490.8,90.1 L500.8,88.6 L507.7,91.6 L512.7,91.6 L516.6,93.4 L520.6,99.6 L526.6,99.1 L531.5,102.8 L535.1,103.6 M536.1,103.6 L540.5,100.4 L548.4,101.6 L556.3,100.4 L557.3,96.6 L564.3,97.9 L572.2,100.9 L576.2,103.3 L584.1,102.8 L591.1,102.1 L594.0,102.3 M594.0,102.3 L597.0,101.8 L599.0,94.6 L605.9,92.9 L611.9,94.6 L614.9,102.3 L621.0,104.3 L621.8,107.1 L629.2,105.8 L626.2,114.1 L622.2,114.6 L621.8,119.3 L621.0,120.5 M536.1,103.6 L542.4,111.6 L552.4,119.0 L562.3,120.0 L570.2,122.8 L583.1,117.5 L588.1,114.6 L594.6,110.3 L599.6,109.1 L594.0,102.3 M535.1,103.6 L532.1,109.1 L526.2,112.8 L521.0,114.1 L521.2,121.0 L514.7,124.0 L508.7,127.8 L510.7,134.0 L514.7,137.2 L518.2,142.7 L518.6,148.9 L522.6,150.9 L528.6,155.2 L536.5,156.7 L538.5,157.9 L544.4,156.9 L554.3,156.4 L557.3,162.7 L555.3,166.6 L559.3,171.1 L562.7,173.1 L564.3,170.4 L567.2,169.6 L573.4,169.4 L576.2,172.6 M514.7,137.7 L509.7,140.2 L508.7,144.0 L510.7,145.5 L509.7,148.9 L506.7,152.7 L502.8,156.4 L500.8,162.7 L497.8,167.4 M520.8,151.4 L522.6,155.2 L528.6,157.9 L536.9,160.4 L536.5,156.7 M536.7,171.4 L537.9,165.9 L537.1,162.7 L540.1,161.4 L544.4,163.7 L545.0,166.4 L545.6,173.4 M545.0,171.9 L547.0,168.1 L549.4,164.1 L550.8,159.7 L554.3,156.4 M557.3,201.3 L558.7,195.0 L557.3,188.8 L555.7,182.6 L557.3,176.9 L560.3,175.4 L562.7,173.1 M561.3,175.9 L562.7,177.6 L565.3,181.3 L569.2,182.6 L571.2,188.8 L566.3,190.3 L565.3,195.8 M564.3,170.4 L568.2,175.1 L570.2,180.1 L574.2,185.6 L575.2,189.6 L572.2,196.8 L569.2,200.0 M571.2,190.6 L575.2,189.6 M560.5,210.0 L563.9,211.7 L564.5,210.7 M484.1,163.4 L487.5,158.4 L486.5,155.7 L482.9,151.9 L482.7,147.7 L481.9,142.7 L483.3,137.5 L478.9,133.2 L473.0,131.5 L469.0,132.8 M457.1,151.4 L458.1,147.7 L456.1,144.0 L452.2,141.5 L452.8,137.0 L450.2,133.5 L449.2,129.0 L450.8,127.3 L454.1,129.3 L457.1,129.0 L457.1,130.5 L458.9,130.5 M486.5,152.9 L493.8,151.7 L494.2,148.4 L499.4,146.7 L501.8,141.7 L503.2,139.7 L503.9,136.5 L509.7,134.0 M483.3,137.5 L485.9,138.2 L489.9,135.7 L493.8,133.0 L496.8,134.0 L500.8,132.5 L503.7,131.8 L509.7,133.0 M466.8,121.8 L473.0,123.3 L478.0,120.3 L480.9,121.5 L483.9,123.3 L485.9,127.8 L489.9,129.8 L493.8,133.0 M473.0,123.3 L473.0,114.1 L478.0,112.8 L482.9,115.3 L484.9,117.8 L490.7,117.3 L492.8,121.5 L496.8,124.0 L498.8,123.0 L502.8,120.8 L509.7,118.5 L521.0,119.3 M502.8,120.8 L504.7,124.0 L501.8,125.3 L499.8,126.5 L506.7,128.0 L508.7,127.8 M496.8,134.0 L496.4,131.5 L497.8,127.8 L499.8,126.5 M433.3,134.5 L434.7,134.5 L437.3,134.5 L441.2,133.7 L445.2,133.5 L450.2,133.5 M444.4,122.8 L448.2,123.8 L448.2,126.5 L450.2,127.3 M441.2,118.0 L445.2,118.5 L450.2,119.8 L454.1,121.8 L458.1,122.0 M450.8,123.5 L454.1,123.8 M446.0,133.7 L443.6,140.5 L438.9,143.0 M432.7,144.7 L434.9,145.7 L438.9,143.0 M433.1,140.0 L434.5,141.0 L432.9,143.2 M438.9,143.0 L439.7,146.0 L445.2,148.7 L450.6,153.4 L454.1,153.7 L456.5,155.2 M454.1,153.7 L456.9,151.4 M431.3,152.9 L434.3,152.7 L437.3,150.2 L435.3,147.7 L439.7,146.0 M446.8,185.3 L449.2,182.8 L454.1,183.1 L456.1,183.8 L465.1,178.9 L472.4,171.4 L471.4,169.6 L465.1,168.9 L464.3,165.6 M465.1,178.9 L467.2,184.6 M472.4,171.4 L473.0,165.9 L473.8,164.4 M611.9,132.3 L613.9,130.8 L616.5,130.0 M608.5,126.8 L611.9,123.5 L615.9,121.5 L619.2,120.5 L621.0,120.5 M641.7,232.7 L641.7,248.9 M579.3,221.2 L584.1,222.5 L589.1,222.5 L591.1,217.5 L595.0,215.7" fill="none" stroke="#c6c6c8" stroke-width="0.75" stroke-linejoin="round"/><path d="M417.4,123.5 L417.8,120.3 L417.0,117.8 L418.8,115.3 L420.8,113.3 L423.0,110.3 L425.4,110.3 L428.3,111.6 L426.4,113.1 L428.3,115.3 L431.3,114.6 L434.3,113.6 L437.3,109.1 L439.9,108.6 L437.7,111.6 L436.3,113.3 L438.3,115.8 L441.2,118.0 L444.2,121.5 L444.6,122.8 L441.2,124.3 L437.3,124.3 L433.3,122.3 L431.3,121.5 L427.9,121.8 L424.4,123.3 L420.4,123.5Z M456.1,112.8 L459.1,110.1 L463.1,109.1 L467.0,109.8 L467.4,113.3 L463.7,115.1 L463.1,118.5 L466.4,121.5 L467.0,124.5 L469.0,125.8 L467.0,127.8 L468.8,133.2 L464.1,134.5 L461.1,133.0 L459.1,130.5 L460.1,126.0 L461.7,125.5 L459.1,122.8 L457.1,120.3 L455.9,117.8 L454.7,115.6Z" fill="#ffffff" stroke="#c4c4c6" stroke-width="0.8" stroke-linejoin="round"/></g>
<g transform="translate(0,1179.6)"><path d="M28.5,62.7 L32.5,54.5 L38.4,51.0 L50.7,48.5 L60.3,49.8 L70.2,51.3 L82.1,52.5 L90.0,54.3 L94.0,53.0 L98.0,52.8 L104.9,51.8 L113.8,53.3 L119.8,52.3 L129.7,54.5 L135.7,56.2 L143.6,56.7 L149.5,55.5 L155.5,56.7 L166.4,57.2 L171.4,56.2 L171.4,51.8 L174.4,47.0 L177.3,48.5 L178.9,51.3 L182.3,55.5 L187.3,55.5 L190.2,58.0 L192.2,52.8 L198.2,53.5 L200.1,58.0 L197.2,61.2 L191.2,60.5 L188.2,64.7 L181.9,68.5 L177.3,72.9 L174.4,77.9 L174.9,79.7 L178.3,83.9 L183.3,84.2 L187.3,86.1 L193.2,88.4 L198.6,88.9 L198.8,94.1 L201.1,97.1 L204.1,97.9 L205.5,95.4 L205.1,90.4 L209.1,87.1 L210.1,82.9 L208.1,77.9 L207.5,72.9 L207.1,70.7 L213.0,70.9 L217.0,71.7 L220.0,73.7 L223.0,74.2 L224.0,78.4 L226.9,80.7 L230.9,79.7 L233.7,75.9 L238.8,82.9 L241.8,87.9 L247.8,91.6 L250.7,96.1 L248.8,98.1 L242.8,101.1 L234.9,101.1 L229.9,101.6 L225.9,104.3 L222.0,108.6 L224.0,107.1 L230.9,103.8 L234.3,104.6 L232.9,107.1 L233.9,110.8 L239.8,112.1 L242.8,111.1 L239.8,114.1 L235.9,115.3 L231.3,117.8 L230.9,115.3 L233.9,113.3 L228.9,114.6 L226.9,115.8 L223.0,117.3 L221.6,120.0 L223.0,122.0 L220.0,123.0 L215.0,125.0 L215.0,127.8 L213.0,129.5 L212.1,131.5 L211.1,134.2 L212.1,138.5 L209.1,140.2 L206.1,142.0 L204.1,144.0 L201.1,146.5 L200.3,150.2 L202.1,155.2 L202.9,160.2 L202.3,163.4 L200.9,163.4 L199.6,160.2 L197.8,156.9 L197.8,153.9 L195.2,151.4 L192.2,152.2 L189.2,150.4 L186.3,150.4 L184.3,150.9 L184.9,153.7 L182.3,153.7 L179.3,152.4 L175.3,152.2 L173.4,153.4 L169.4,156.9 L168.6,161.4 L168.0,166.4 L167.8,171.4 L168.8,173.9 L171.0,178.4 L174.4,180.8 L179.3,179.8 L181.3,178.9 L182.3,175.1 L182.7,173.6 L186.3,172.6 L189.2,172.6 L189.6,175.1 L188.2,180.1 L186.7,183.8 L186.3,186.3 L188.2,186.8 L193.2,186.3 L196.8,188.8 L196.2,195.0 L195.8,198.8 L198.2,202.5 L201.1,204.3 L204.1,202.5 L208.1,205.0 L207.5,207.5 L204.1,205.8 L202.1,208.0 L199.2,205.8 L195.8,205.0 L191.8,201.3 L191.6,198.3 L188.2,194.1 L184.3,192.6 L180.3,191.3 L177.3,187.3 L174.4,186.1 L170.4,187.1 L167.4,185.8 L163.4,183.8 L160.5,181.6 L156.5,180.6 L152.5,176.9 L152.9,172.6 L151.5,168.9 L148.6,165.1 L145.6,161.9 L142.6,156.9 L139.2,153.9 L137.2,148.4 L134.1,147.0 L134.7,151.4 L137.6,155.2 L139.6,160.2 L142.6,165.9 L144.6,168.9 L143.6,169.1 L140.6,165.1 L139.2,161.9 L135.7,157.7 L134.7,152.7 L131.7,150.2 L129.5,145.2 L126.7,141.5 L122.6,140.0 L120.0,135.2 L118.8,132.0 L116.2,127.0 L115.0,121.5 L115.8,116.6 L115.8,111.1 L114.4,105.6 L117.8,106.1 L117.4,104.1 L113.8,101.6 L108.9,99.6 L107.9,96.6 L103.9,90.4 L100.9,87.9 L98.0,84.2 L93.0,80.4 L89.0,80.2 L84.1,77.4 L76.1,76.4 L71.2,74.7 L68.2,76.7 L64.2,77.9 L60.3,75.4 L57.3,79.2 L56.3,82.4 L51.3,84.7 L47.4,87.1 L42.4,89.1 L37.4,89.9 L40.4,87.1 L44.4,85.4 L48.4,80.4 L44.4,79.7 L40.4,77.2 L35.5,74.7 L33.9,70.9 L35.5,69.0 L42.4,65.7 L37.4,65.2 L31.5,65.2Z M217.0,30.6 L226.9,35.6 L242.8,36.8 L246.8,38.1 L250.7,41.8 L252.7,46.8 L254.7,50.5 L260.7,53.0 L255.7,59.2 L258.7,65.5 L262.7,70.4 L266.6,74.2 L274.6,77.2 L276.5,75.4 L280.5,70.4 L282.5,65.5 L288.5,63.0 L296.4,58.0 L308.3,55.5 L318.2,50.5 L318.2,45.5 L319.2,40.5 L324.2,35.6 L325.2,30.6 L326.2,26.8 L332.1,23.1 L312.3,19.4 L292.4,17.9 L272.6,19.9 L252.7,21.1 L242.8,22.4 L232.9,24.3 L223.0,27.6Z M314.2,63.0 L318.2,60.7 L326.2,61.2 L332.1,60.5 L335.1,63.7 L333.1,65.7 L326.2,68.2 L320.2,67.2 L317.2,66.7Z M208.1,205.0 L211.1,202.5 L212.1,200.0 L214.0,198.8 L217.0,198.0 L219.8,195.3 L220.8,197.5 L223.0,197.3 L226.9,200.0 L230.9,199.8 L234.9,199.8 L238.8,199.5 L240.8,201.3 L242.8,205.0 L245.8,208.3 L248.8,211.2 L252.7,211.5 L256.7,212.5 L259.7,215.5 L261.7,221.2 L262.7,225.0 L265.6,228.7 L270.6,228.7 L273.6,232.4 L278.5,233.2 L282.5,233.4 L286.5,235.7 L288.5,238.7 L291.4,239.2 L292.8,243.9 L292.4,248.6 L289.4,252.4 L287.5,256.1 L284.9,258.6 L284.5,263.6 L284.1,269.8 L282.5,276.0 L280.5,281.0 L278.5,283.5 L273.6,284.3 L269.6,286.0 L266.6,289.7 L265.6,296.0 L262.7,301.0 L260.7,304.7 L257.7,308.4 L255.7,310.9 L253.7,312.9 L249.8,312.9 L246.4,311.4 L248.2,314.7 L249.4,316.9 L247.8,320.9 L244.8,322.6 L238.8,323.4 L238.2,327.1 L233.9,328.4 L232.9,330.9 L233.9,332.1 L232.5,337.1 L228.9,339.6 L227.9,342.1 L230.9,344.6 L227.9,348.3 L225.0,352.0 L225.9,356.5 L225.9,358.3 L229.9,362.0 L226.9,363.3 L223.0,363.3 L219.0,360.8 L215.0,357.0 L213.0,350.8 L212.1,344.6 L215.0,338.3 L216.0,333.4 L216.0,328.4 L216.0,322.1 L218.0,314.7 L220.0,307.2 L220.0,301.0 L221.0,293.5 L222.0,286.0 L222.6,276.0 L222.4,271.8 L220.0,269.3 L215.0,264.8 L210.7,260.3 L208.7,256.1 L205.1,246.1 L202.1,241.2 L200.5,237.9 L202.5,234.7 L203.1,232.4 L201.3,229.9 L202.9,224.5 L205.1,222.0 L205.5,219.5 L208.1,216.5 L208.5,210.0 L207.3,208.3Z M350.2,137.0 L357.9,138.7 L363.9,135.2 L367.8,134.5 L375.8,134.0 L381.3,133.2 L383.7,134.0 L382.7,136.5 L381.7,140.2 L383.7,142.7 L387.7,144.5 L392.0,145.7 L398.6,150.7 L401.6,148.9 L401.6,146.0 L405.5,144.2 L411.5,147.2 L419.4,149.2 L425.4,148.2 L429.7,148.2 L430.9,152.7 L429.9,156.9 L427.4,152.7 L426.4,151.4 L428.3,157.7 L431.3,165.1 L434.3,171.4 L435.9,178.9 L438.3,181.3 L440.2,187.6 L444.2,192.6 L447.8,195.3 L449.2,200.0 L451.2,200.0 L455.1,198.8 L459.1,198.0 L463.5,196.8 L463.1,200.3 L461.1,206.3 L457.1,213.7 L453.1,221.2 L447.2,227.4 L444.2,231.2 L441.2,234.9 L439.7,238.7 L440.2,243.6 L440.2,248.6 L442.2,252.4 L442.2,258.6 L442.6,263.6 L439.3,268.6 L434.3,273.0 L431.3,276.0 L432.3,281.0 L432.3,286.0 L427.4,289.7 L427.2,293.0 L426.4,297.2 L423.4,301.0 L421.4,304.2 L417.4,308.4 L413.5,310.4 L408.5,310.9 L401.6,312.9 L398.6,311.4 L398.2,308.4 L397.2,304.7 L394.6,297.5 L392.0,293.5 L390.6,283.5 L387.7,276.0 L385.3,268.6 L386.7,259.8 L389.1,253.6 L387.7,248.6 L386.3,241.4 L385.7,238.7 L383.7,234.9 L380.3,228.7 L380.7,223.7 L381.3,218.7 L378.7,215.0 L375.8,215.2 L372.8,215.0 L370.8,210.5 L365.8,210.5 L359.9,213.2 L356.9,214.2 L352.9,213.2 L347.0,215.2 L343.0,212.5 L339.1,209.3 L336.1,206.3 L335.1,202.5 L332.1,198.8 L328.7,195.5 L327.1,189.6 L329.1,185.1 L329.7,178.9 L328.1,173.9 L330.1,167.6 L333.1,161.4 L336.1,157.2 L342.0,153.9 L342.6,148.9 L345.0,143.2 L348.4,141.2Z M459.7,256.1 L462.1,264.8 L460.1,269.8 L458.1,277.3 L456.1,286.0 L451.6,289.7 L449.2,287.3 L447.8,281.0 L449.8,274.8 L449.2,268.6 L453.7,265.6 L457.1,259.8Z M350.8,136.5 L349.0,134.5 L347.0,133.5 L344.2,134.0 L344.4,129.8 L343.0,129.5 L344.2,124.0 L344.4,120.3 L343.4,119.0 L346.0,117.3 L351.0,117.8 L357.9,118.0 L358.9,117.8 L359.5,115.1 L359.5,111.1 L357.5,108.6 L352.9,107.1 L352.7,105.1 L355.9,104.6 L358.9,104.8 L359.3,102.3 L362.3,102.8 L364.8,101.1 L365.4,99.1 L368.8,97.9 L370.2,95.9 L371.4,94.1 L375.4,93.1 L378.7,92.6 L378.9,89.1 L377.9,87.9 L378.3,84.7 L381.7,82.7 L382.7,85.4 L382.7,87.9 L381.7,90.4 L383.7,91.6 L386.7,90.6 L389.7,91.9 L393.6,90.4 L398.6,89.6 L400.6,90.6 L403.5,87.9 L403.5,84.7 L405.5,82.7 L408.5,84.2 L410.1,82.2 L408.5,79.2 L413.5,77.9 L417.4,77.4 L421.4,76.7 L418.4,75.4 L413.5,75.7 L407.5,76.9 L404.5,74.7 L404.5,70.4 L407.5,67.2 L411.5,64.2 L412.5,63.0 L409.5,62.2 L405.5,62.5 L403.5,65.5 L399.6,68.0 L396.6,70.4 L396.6,74.2 L398.6,76.7 L399.2,78.2 L395.2,80.4 L394.6,84.2 L393.2,86.4 L390.0,88.1 L387.7,87.9 L386.7,85.9 L385.3,82.2 L384.1,79.2 L382.7,77.9 L380.7,79.2 L377.7,81.4 L374.8,81.2 L372.8,79.2 L371.8,75.4 L371.8,71.7 L375.8,69.7 L378.7,68.0 L381.7,65.5 L385.7,62.2 L388.7,58.0 L391.6,55.5 L395.6,53.0 L399.6,51.8 L403.5,51.0 L408.5,49.8 L413.1,49.0 L417.4,49.3 L423.4,51.0 L427.4,53.3 L433.3,54.0 L441.2,56.7 L443.2,59.2 L443.6,59.7 L441.2,61.2 L437.3,61.5 L431.3,60.7 L429.7,63.0 L431.3,65.7 L435.3,67.0 L439.3,65.5 L441.8,65.2 L443.2,62.2 L449.2,61.0 L449.6,58.5 L453.1,59.7 L456.1,57.7 L463.1,56.0 L468.0,54.5 L472.0,56.0 L478.9,55.2 L482.9,52.3 L490.8,53.5 L495.8,55.5 L498.8,54.8 L494.8,49.8 L497.8,45.5 L501.8,43.3 L505.7,44.8 L505.7,49.3 L508.7,58.0 L510.7,55.5 L507.7,48.0 L511.7,45.5 L518.6,46.0 L521.6,43.0 L532.5,41.8 L534.5,39.1 L550.4,36.8 L560.3,35.6 L568.8,32.6 L572.2,34.3 L582.1,35.1 L587.1,37.8 L585.7,41.8 L594.0,42.8 L598.0,44.3 L605.9,43.5 L613.9,43.0 L617.8,46.0 L618.8,49.3 L623.8,48.0 L629.8,47.8 L638.7,45.8 L641.7,44.8 L651.6,45.8 L659.5,47.8 L664.5,49.5 L673.4,49.3 L679.4,50.5 L683.3,52.8 L691.3,53.0 L699.2,51.8 L709.1,52.3 L716.1,53.3 L719.0,54.3 L719.0,64.2 L716.1,65.5 L713.1,70.4 L707.1,72.2 L700.2,76.7 L691.3,75.9 L687.3,77.2 L685.3,81.7 L683.3,81.7 L686.3,86.1 L683.3,89.6 L679.4,94.1 L676.4,95.4 L672.8,99.1 L671.4,94.9 L670.4,87.9 L672.4,82.9 L675.4,81.7 L679.4,75.4 L677.4,72.2 L671.4,72.9 L667.5,78.7 L661.5,78.7 L655.5,78.4 L649.6,78.2 L643.6,79.2 L640.7,81.7 L635.7,85.4 L631.7,90.4 L634.7,92.1 L638.7,91.1 L642.6,94.1 L641.7,97.9 L640.7,101.6 L640.3,105.3 L636.7,109.1 L632.7,115.3 L625.8,119.5 L621.8,120.3 L619.2,124.0 L618.8,126.5 L615.9,129.0 L618.6,132.8 L618.6,137.7 L614.9,139.7 L612.5,140.2 L612.9,135.2 L611.9,132.3 L609.9,131.5 L609.9,127.8 L608.5,126.8 L604.0,129.0 L603.0,124.3 L600.0,126.0 L598.0,128.5 L595.4,130.3 L597.6,132.8 L599.0,133.7 L602.0,132.3 L604.9,133.5 L601.0,136.5 L598.6,139.5 L601.0,142.7 L602.0,146.5 L604.0,149.4 L603.0,153.9 L601.0,157.7 L599.0,162.2 L595.0,167.1 L590.1,169.6 L587.1,170.9 L582.1,172.6 L580.7,175.6 L579.2,172.6 L576.2,172.6 L573.2,175.1 L571.8,178.9 L573.2,182.6 L576.2,186.3 L578.6,192.6 L578.6,197.5 L575.2,200.0 L573.2,202.5 L570.2,204.8 L569.8,200.8 L566.3,199.5 L565.3,195.8 L562.1,194.6 L560.3,192.6 L558.7,200.0 L560.1,203.3 L561.1,208.0 L562.9,209.0 L565.3,211.2 L567.0,215.0 L567.2,219.5 L568.8,222.7 L567.2,223.0 L563.3,220.0 L561.3,215.0 L560.9,211.2 L559.7,209.3 L556.9,206.3 L557.3,201.3 L557.7,196.3 L556.3,190.1 L555.5,185.1 L551.4,186.8 L549.0,185.8 L549.4,180.1 L547.4,176.9 L545.0,173.9 L544.0,170.1 L541.4,171.4 L538.5,172.1 L534.5,172.6 L533.5,176.4 L530.5,178.1 L527.6,181.3 L525.0,184.8 L521.2,187.6 L521.0,192.6 L520.2,198.8 L519.2,200.5 L517.0,204.0 L515.7,206.0 L513.7,203.8 L512.3,197.5 L510.3,193.8 L507.7,186.3 L506.3,178.9 L506.3,173.9 L505.7,172.6 L501.4,174.4 L498.8,170.6 L500.8,169.4 L497.8,167.6 L495.8,166.4 L493.8,163.2 L489.9,163.4 L483.9,163.4 L478.5,162.7 L475.6,161.9 L473.8,158.7 L470.0,160.2 L466.0,157.7 L463.9,156.7 L461.3,150.9 L458.7,150.7 L457.1,151.9 L458.1,156.4 L460.1,159.4 L462.1,163.9 L464.3,165.6 L464.1,161.7 L463.5,164.9 L466.0,165.9 L469.0,165.9 L472.0,163.2 L473.6,160.9 L473.8,165.1 L476.0,167.1 L478.5,167.6 L480.5,170.1 L478.9,173.9 L477.0,175.4 L476.4,178.9 L474.0,180.8 L471.0,183.8 L465.5,187.1 L459.1,190.1 L454.1,193.1 L451.2,194.3 L448.2,194.6 L446.8,190.1 L446.2,186.3 L444.2,181.3 L441.2,175.1 L439.3,171.4 L438.3,166.4 L435.9,163.4 L434.3,160.2 L431.3,156.2 L430.3,152.7 L429.7,148.2 L430.5,145.2 L431.5,143.7 L432.3,140.2 L433.1,137.7 L433.3,134.5 L430.3,134.5 L426.4,136.2 L422.4,135.2 L418.4,134.7 L416.0,132.8 L414.5,130.3 L415.0,127.8 L413.9,126.5 L414.9,125.3 L413.5,124.5 L409.5,124.5 L408.5,126.0 L406.9,125.3 L408.1,128.3 L409.5,131.5 L407.5,133.2 L407.1,135.2 L404.9,134.5 L403.9,132.0 L403.9,129.0 L401.6,127.3 L400.6,124.0 L400.4,121.5 L398.6,120.3 L395.6,118.3 L392.6,116.6 L390.6,113.3 L389.1,112.3 L386.5,113.1 L386.7,116.1 L388.7,117.5 L390.6,120.8 L393.6,122.8 L397.6,125.0 L398.6,126.3 L395.6,125.3 L394.8,127.3 L395.8,129.0 L393.8,131.5 L392.8,130.8 L393.2,127.8 L391.6,126.0 L389.7,124.5 L386.7,122.8 L383.7,120.3 L382.7,117.8 L380.7,116.3 L378.7,115.8 L376.8,117.1 L373.8,118.8 L370.8,118.0 L368.2,118.5 L368.2,120.8 L365.8,123.3 L363.5,124.8 L361.9,127.8 L361.3,130.3 L360.3,132.5 L357.9,134.7 L352.9,134.7Z M4.7,54.3 L9.7,55.0 L15.6,59.2 L21.6,60.5 L25.1,61.7 L22.6,63.2 L19.6,65.7 L15.6,65.0 L11.6,63.2 L7.7,63.0 L4.7,64.2Z M203.1,42.5 L211.1,44.8 L219.0,48.0 L226.9,50.5 L228.9,53.0 L233.9,58.0 L238.8,59.7 L234.9,63.0 L231.9,65.5 L232.9,69.7 L229.9,71.7 L225.9,70.4 L220.0,68.0 L216.0,65.5 L212.1,66.0 L208.1,66.0 L207.1,63.0 L215.0,63.0 L216.0,60.0 L219.0,58.0 L216.0,56.0 L209.1,53.0 L203.1,51.8 L198.2,49.8 L193.2,48.0 L187.3,45.5 L191.2,43.0 L199.2,42.3Z M190.2,64.7 L195.2,63.7 L201.1,66.7 L197.2,69.7 L189.2,68.7 L187.3,66.7Z M126.7,48.8 L128.7,44.8 L135.7,43.5 L143.6,44.3 L149.5,43.0 L154.5,44.3 L159.5,46.8 L161.5,50.5 L159.5,53.0 L153.5,54.3 L148.6,54.8 L143.6,54.8 L136.7,53.5 L131.7,53.0 L128.7,51.8 L125.7,49.8Z M112.8,47.0 L113.8,43.0 L115.8,41.0 L121.8,40.5 L128.7,42.3 L131.7,44.3 L128.7,46.8 L124.7,48.0 L118.8,49.0 L114.8,48.8Z M160.5,45.5 L162.4,42.3 L168.4,42.3 L170.4,45.5 L167.4,48.0 L162.4,48.0Z M172.4,42.3 L182.3,41.8 L181.3,45.5 L176.3,46.8 L172.4,45.5Z M164.4,55.0 L171.4,53.0 L170.4,56.0 L166.4,56.2Z M129.7,38.1 L133.7,35.6 L143.6,35.6 L151.5,36.8 L152.5,39.3 L143.6,40.3 L137.6,40.5 L131.7,39.8Z M119.8,35.6 L125.7,33.6 L131.7,34.8 L127.7,36.8 L121.8,36.8Z M161.5,38.1 L171.4,35.6 L176.3,38.1 L169.4,39.8 L163.4,39.8Z M155.5,31.1 L163.4,29.8 L169.4,31.8 L163.4,32.8Z M179.3,40.3 L203.1,40.5 L203.1,36.3 L191.2,35.3 L179.3,36.3 L177.3,38.3Z M183.3,34.3 L203.1,36.1 L207.1,35.1 L213.0,30.6 L217.0,29.3 L223.0,26.8 L232.9,24.3 L240.8,21.4 L232.9,19.9 L223.0,19.4 L203.1,19.4 L187.3,21.9 L179.3,24.3 L171.4,26.8 L173.4,30.6 L179.3,33.1Z M171.4,25.6 L183.3,23.8 L191.2,25.6 L191.2,30.6 L183.3,31.3 L175.3,30.6Z M193.2,171.6 L196.2,169.1 L199.2,168.4 L203.1,168.9 L208.1,171.9 L211.7,173.9 L214.8,175.9 L211.7,176.6 L207.7,176.6 L208.7,174.9 L206.1,172.4 L201.1,171.4 L197.2,170.9 L194.2,171.9Z M214.0,180.3 L217.4,176.6 L223.0,176.9 L226.1,179.8 L223.0,180.8 L220.2,182.3 L217.4,180.8Z M206.3,180.3 L210.7,181.3 L209.1,181.8Z M228.5,180.1 L231.7,180.6 L230.9,181.6 L228.5,181.3Z M244.2,107.6 L250.7,102.8 L251.7,97.9 L255.7,103.3 L257.3,107.8 L255.7,109.8 L251.7,109.1 L247.8,107.6Z M107.3,99.9 L112.8,100.9 L117.0,105.6 L113.8,104.3 L108.9,101.6Z M52.3,178.9 L54.3,177.1 L52.7,175.9Z M240.8,354.0 L246.8,353.8 L245.8,356.3 L241.8,355.8Z M350.6,101.6 L355.9,100.1 L364.6,98.6 L365.2,94.9 L362.5,93.1 L361.3,90.4 L358.7,87.6 L357.7,83.7 L358.3,82.7 L354.9,82.4 L355.5,80.2 L351.9,80.2 L350.6,82.9 L349.6,85.9 L351.0,88.1 L352.3,89.6 L355.3,89.4 L355.5,91.6 L355.9,93.4 L352.7,93.4 L353.5,95.9 L351.6,97.4 L354.9,98.1 L352.9,98.9Z M350.0,96.1 L350.0,92.9 L349.6,90.9 L351.0,90.1 L347.4,88.4 L345.0,89.1 L342.0,91.1 L342.0,93.4 L343.4,95.1 L341.2,96.9 L343.0,97.9 L346.0,97.1 L349.4,96.1Z M383.7,30.6 L391.6,34.3 L395.6,35.6 L399.6,31.8 L405.5,29.8 L415.4,27.3 L405.5,25.6 L395.6,26.8 L385.7,27.3 L383.3,29.3Z M465.1,48.0 L471.0,50.3 L476.0,50.0 L473.0,45.5 L477.0,40.5 L484.9,37.3 L497.8,34.6 L490.8,34.3 L478.9,36.8 L472.0,40.5 L471.0,44.3 L466.0,46.8Z M550.4,30.6 L560.3,29.3 L570.2,30.6 L568.2,26.8 L556.3,24.3 L544.4,26.8Z M631.7,41.8 L643.6,43.0 L659.5,40.5 L655.5,38.1 L639.7,36.8 L633.7,38.1Z M643.6,111.6 L646.6,110.3 L645.6,104.1 L648.6,104.1 L645.6,97.9 L645.6,94.1 L644.6,90.9 L643.6,92.9 L643.2,96.6 L643.6,104.1 L643.4,109.1Z M639.7,122.8 L642.1,122.0 L646.2,121.5 L650.6,118.3 L650.0,116.1 L643.6,112.8 L642.6,115.8 L642.6,118.5 L639.7,120.0Z M641.7,123.0 L642.8,125.3 L643.6,127.8 L641.7,131.0 L641.5,134.0 L640.7,137.0 L639.3,139.0 L637.3,140.0 L633.7,140.0 L631.7,142.7 L629.9,141.0 L625.8,140.7 L621.8,140.7 L621.6,139.2 L624.8,137.7 L630.7,137.5 L632.7,134.0 L634.3,132.8 L636.7,132.0 L639.3,129.0 L639.7,125.8 L640.3,123.3Z M619.8,142.0 L622.8,142.2 L622.8,146.5 L621.8,148.4 L620.2,148.4 L619.4,144.0Z M624.8,144.0 L627.8,143.2 L629.2,141.5 L625.8,141.5Z M600.2,168.9 L602.0,163.4 L604.0,163.9 L603.0,168.9 L601.6,171.4Z M577.4,178.4 L580.1,176.1 L582.1,177.4 L580.1,180.6 L577.6,180.1Z M600.0,180.1 L604.5,180.1 L604.0,186.3 L604.9,191.3 L607.9,193.8 L605.5,192.6 L603.0,191.3 L601.2,190.3 L600.0,186.3 L599.6,183.8Z M604.0,208.8 L607.9,205.0 L610.9,201.8 L612.9,207.5 L610.9,211.7 L607.9,210.0Z M604.9,196.8 L608.9,195.0 L611.5,198.8 L608.9,201.3 L605.9,202.5Z M594.4,205.0 L599.4,198.8 L598.8,199.8 L594.8,205.5Z M578.2,222.5 L579.3,221.2 L582.1,221.7 L586.1,218.2 L591.1,213.0 L594.0,208.8 L598.6,213.2 L596.4,215.5 L595.6,222.5 L597.6,223.7 L595.0,225.0 L593.0,229.9 L593.0,234.9 L589.1,236.2 L584.1,234.4 L580.5,233.7 L579.5,229.9 L578.2,226.2Z M551.0,212.2 L555.3,213.2 L560.3,220.0 L567.8,225.0 L569.2,229.9 L572.2,233.7 L571.8,240.7 L569.2,240.7 L564.9,236.2 L561.3,228.7 L557.9,221.7 L553.4,217.0Z M570.6,242.9 L576.2,241.9 L582.1,242.4 L585.1,243.4 L589.1,245.4 L588.9,247.9 L582.1,246.9 L576.2,245.6 L572.2,244.4Z M590.1,246.6 L598.0,246.9 L605.9,246.9 L605.9,247.9 L596.0,248.6 L590.1,248.1Z M607.9,251.1 L614.5,247.1 L609.9,249.4Z M599.0,239.9 L601.0,239.9 L600.6,233.2 L602.6,238.2 L605.5,237.4 L603.0,230.7 L606.5,228.7 L602.0,229.2 L601.6,225.0 L608.9,225.0 L609.9,222.5 L606.9,223.7 L600.4,224.2 L599.2,227.4 L597.6,232.9 L599.0,234.9Z M621.8,229.4 L624.8,227.2 L627.8,228.7 L630.7,234.4 L635.7,230.4 L641.7,232.7 L648.6,235.7 L651.6,239.9 L654.6,241.7 L656.5,247.4 L660.5,252.4 L657.5,251.9 L654.6,251.1 L651.6,246.6 L647.6,245.4 L645.6,248.6 L641.7,248.9 L637.7,246.4 L635.3,239.2 L630.7,237.2 L626.8,235.7 L623.8,233.2 L625.8,231.9 L622.4,229.9Z M587.1,281.0 L588.1,291.0 L586.9,292.2 L589.3,297.5 L590.1,302.2 L591.5,307.2 L590.3,311.4 L595.0,313.7 L600.0,310.7 L606.9,310.7 L610.9,307.7 L617.8,305.2 L622.4,304.7 L627.8,307.9 L630.7,312.9 L632.7,309.7 L634.7,308.4 L635.3,313.7 L638.7,315.4 L640.7,320.9 L646.6,322.9 L652.0,323.6 L654.6,320.9 L659.3,319.6 L659.9,314.7 L662.5,309.7 L665.5,303.5 L666.7,296.5 L665.9,289.7 L661.5,284.0 L658.5,281.8 L657.1,277.3 L652.6,273.5 L650.6,266.1 L650.2,263.1 L646.6,261.1 L645.6,254.9 L644.6,252.9 L643.2,257.3 L642.6,263.6 L641.3,269.6 L638.7,269.8 L635.3,267.3 L631.3,263.6 L633.3,256.9 L630.7,256.1 L625.8,254.4 L622.8,254.6 L620.4,257.3 L618.8,262.3 L615.9,263.6 L612.9,261.1 L609.9,263.6 L606.9,267.3 L604.4,271.1 L603.0,274.8 L598.0,276.0 L594.0,277.8 L589.5,280.5Z M649.0,327.6 L652.6,328.6 L656.1,328.1 L656.1,331.4 L653.6,334.6 L651.6,334.9 L650.0,331.6Z M704.6,311.9 L708.1,314.7 L710.1,318.4 L716.1,320.1 L714.9,323.9 L712.1,325.9 L709.5,329.9 L708.5,329.1 L709.1,325.9 L706.7,323.9 L708.1,320.9 L707.5,317.2 L705.2,313.4Z M704.6,327.1 L707.7,329.1 L707.1,330.9 L704.8,335.1 L701.6,337.1 L700.4,340.6 L697.6,342.3 L692.3,340.8 L692.9,338.8 L695.8,335.8 L700.2,332.9 L702.2,329.6Z M520.2,210.7 L520.8,201.8 L523.0,205.0 L524.4,207.5 L523.8,210.5 L521.6,211.5Z M386.5,131.5 L392.8,130.8 L391.6,134.7Z M378.5,124.0 L381.3,124.0 L380.9,129.0 L378.5,129.0Z M380.5,119.0 L380.9,123.0 L378.9,122.0Z M408.5,137.7 L414.1,138.5 L409.5,138.7Z M426.0,139.0 L430.3,137.5 L427.4,140.0Z" fill="#f7f7f8" stroke="#c4c4c6" stroke-width="0.8" stroke-linejoin="round"/><path d="M117.2,104.1 L173.0,104.1 L173.0,103.1 L184.1,106.6 L193.6,110.3 L198.4,113.3 L198.2,120.3 L205.1,119.0 L210.1,116.1 L213.6,114.1 L220.0,114.1 L221.6,113.1 L223.0,109.8 L224.6,108.1 L226.9,108.3 L227.3,112.3 L228.7,113.8 M82.1,52.8 L82.1,75.9 L86.1,76.7 L89.0,78.7 L93.0,77.2 L97.0,80.7 L101.9,86.6 L103.9,88.4 M129.5,145.2 L134.3,144.7 L141.6,148.2 L147.2,148.2 L147.2,147.0 L150.5,147.0 L154.5,152.4 L157.5,153.9 L160.5,151.9 L164.4,157.7 L169.0,161.7 M178.9,190.1 L178.9,188.3 L180.5,186.1 L182.5,186.1 L182.5,181.8 L185.1,181.8 L186.7,180.1 M184.9,181.8 L184.9,186.6 L186.9,187.1 M183.1,192.1 L184.7,190.3 L186.9,191.6 L187.6,193.1 M188.6,193.8 L193.2,190.6 L196.8,188.8 M191.8,198.3 L195.8,199.0 M197.2,205.3 L198.0,202.5 M218.6,198.5 L218.0,200.0 L218.2,206.3 L223.0,208.8 L227.9,210.7 L227.3,215.0 L228.3,221.2 L229.1,223.2 M205.5,222.7 L209.1,225.2 L212.5,226.4 L216.0,229.2 L219.0,232.2 L223.0,236.7 L224.2,228.7 L223.0,224.7 L224.0,223.5 L228.9,223.2 M228.9,223.2 L234.9,216.2 L237.5,216.2 L241.2,213.2 L242.8,205.0 M241.2,213.2 L242.8,218.7 L246.8,222.5 L250.7,221.5 L254.1,220.5 L259.5,215.7 M248.8,211.2 L246.8,221.2 M254.7,212.0 L254.1,220.5 M202.5,234.7 L206.1,237.4 L211.1,232.4 L212.5,226.4 M223.0,236.7 L217.0,242.4 L216.0,249.9 L222.0,253.6 L224.0,253.6 L225.5,257.3 L224.4,263.6 L224.0,269.8 L222.2,271.8 M224.0,253.6 L231.9,251.1 L232.9,254.9 L238.8,259.8 L241.8,261.1 L242.8,266.1 L246.4,266.8 L246.8,269.8 L246.4,275.5 M224.0,269.8 L225.9,274.8 L226.9,279.8 L228.5,283.0 L232.9,281.0 L237.3,281.0 L239.2,275.0 L244.8,274.3 L246.4,275.5 M237.3,281.0 L242.8,286.0 L246.4,294.0 L251.1,294.5 L253.5,290.0 L251.3,282.3 L247.2,281.3 L246.4,275.5 M253.5,290.0 L255.1,293.7 L251.1,297.2 L247.6,301.5 L251.7,303.0 L255.7,307.2 L255.7,310.2 M247.6,301.5 L246.0,309.7 M228.5,283.0 L226.1,287.3 L225.7,293.5 L223.4,301.0 L223.0,308.4 L222.0,315.9 L221.0,323.4 L219.4,330.9 L219.6,338.3 L218.0,345.8 L216.4,350.8 L218.6,354.5 L224.6,356.3 L225.7,357.3 L225.7,363.3 M358.3,139.0 L358.7,145.2 L354.7,147.5 L351.0,152.4 L344.6,154.7 L344.6,157.2 L335.7,157.2 M344.6,157.2 L344.6,161.4 L338.1,161.4 L338.1,167.6 L336.1,173.1 L328.1,173.1 M344.6,158.2 L352.3,163.9 L349.0,164.1 L351.0,185.3 L339.2,187.3 L337.7,189.3 L329.1,185.8 M328.7,195.3 L337.7,195.3 L339.2,195.3 L337.7,189.3 M334.7,194.6 L339.2,195.3 L345.0,197.5 L346.0,200.8 L347.0,205.3 L345.0,207.3 L341.0,205.3 L339.1,208.8 M335.7,203.3 L339.6,201.3 L341.0,205.3 M352.3,163.9 L364.3,173.4 L370.2,177.6 L373.4,177.9 L376.8,174.4 L385.5,167.6 M351.0,200.3 L351.4,196.8 L357.3,189.3 L362.5,189.1 L364.4,188.1 L369.0,187.3 L370.2,184.1 L370.2,177.6 M345.0,200.8 L351.0,200.3 L356.1,199.0 L362.9,198.8 L366.6,196.5 L364.4,188.1 M347.0,215.2 L345.0,207.3 M355.7,213.5 L356.1,199.0 M364.3,211.0 L362.9,198.8 M365.0,210.7 L363.7,198.8 M367.2,210.3 L367.8,202.5 L369.0,197.0 L369.8,192.6 L374.8,192.3 L379.7,194.3 L386.7,193.3 L389.7,193.8 M378.9,134.2 L378.3,140.0 L376.8,143.5 L379.9,146.2 L380.7,150.7 L381.3,152.9 L381.7,163.2 L385.5,167.6 L389.7,170.1 L393.4,167.9 L409.5,177.6 L409.5,176.4 L411.5,171.4 L411.5,147.5 M411.5,171.4 L435.1,171.4 M393.4,167.9 L392.6,174.6 L392.6,186.3 L388.7,191.8 L389.7,193.8 L390.6,196.3 L391.6,201.3 L389.5,202.5 M378.7,214.7 L380.7,210.0 L384.7,208.8 L385.7,205.0 L388.7,200.8 L390.6,196.3 M409.5,177.6 L409.5,187.1 L406.3,191.3 L406.5,196.3 L407.3,199.0 L408.5,204.5 L414.5,202.5 L421.4,201.3 L427.4,196.3 L429.3,202.5 M389.5,202.5 L392.6,207.5 L390.6,207.5 L392.6,213.7 L394.0,220.7 L398.6,217.5 L403.5,215.0 L411.5,213.7 L416.2,213.7 L423.0,217.5 L423.8,220.7 L421.2,222.5 L421.4,226.2 L420.6,229.7 L419.4,229.9 L419.8,234.9 L420.4,241.2 L422.4,246.6 M392.6,207.5 L398.6,204.3 L407.3,199.0 M381.3,220.5 L384.3,220.7 L388.3,220.7 L390.6,222.5 M384.3,220.7 L384.3,223.7 L380.7,223.7 M390.6,222.5 L387.7,232.4 L385.7,234.9 L383.9,235.9 M386.1,238.7 L390.6,237.4 L393.6,231.2 L396.6,226.2 L397.6,220.0 L398.6,217.5 M386.3,241.4 L393.6,244.9 L396.6,246.1 L400.6,243.6 L405.1,244.4 L405.9,253.6 L409.5,253.6 L409.5,258.6 L405.5,258.6 L405.5,267.3 L408.5,269.8 L412.1,270.6 M409.5,253.6 L412.5,254.9 L416.4,257.3 L419.4,259.6 L421.0,256.6 L418.4,251.1 L418.4,247.4 L422.4,246.6 M429.3,202.5 L427.7,205.3 L431.3,213.7 L429.1,215.7 L423.8,216.7 M434.3,190.6 L435.1,186.3 L438.3,181.3 M429.3,202.5 L432.3,195.0 L434.3,190.6 L437.3,190.1 L441.2,190.1 L446.0,195.0 M446.0,195.0 L446.8,198.8 L447.6,197.5 M446.8,198.8 L450.2,203.8 L457.1,206.3 L451.2,213.7 L445.2,216.2 L443.2,218.7 L443.2,230.4 M431.3,213.7 L437.3,217.2 L444.8,216.2 M429.3,215.7 L430.3,223.7 L429.3,228.7 L436.3,234.9 L439.7,237.9 M420.6,228.7 L423.0,228.7 L429.3,228.7 M442.0,252.4 L437.3,254.4 L432.3,254.9 L430.3,249.9 L427.4,249.4 L423.8,247.6 L422.4,246.6 M427.4,249.4 L427.4,260.6 L431.3,262.3 L431.9,268.6 L430.3,263.6 L430.3,253.6 M422.2,265.1 L427.4,262.3 L427.0,267.8 L427.4,276.0 L425.4,281.8 L424.0,282.0 L425.2,289.7 L427.2,293.0 M412.1,270.6 L417.4,267.3 L422.2,265.1 M385.3,269.1 L389.7,269.6 L398.6,269.6 L403.5,271.1 L408.5,270.6 L412.1,270.6 M401.6,271.1 L401.6,281.0 L401.6,288.0 L401.6,297.0 L394.6,297.5 M401.6,288.0 L405.5,290.5 L412.5,290.0 L415.4,286.0 L420.2,281.5 L424.0,282.0 M412.1,270.6 L414.5,274.8 L417.4,279.8 L420.2,281.5 M415.6,300.5 L417.8,297.7 L420.2,299.7 L419.0,302.2 L416.4,302.2 L415.6,300.5 M429.7,148.2 L431.1,152.7 M344.2,121.8 L348.0,121.5 L349.0,122.8 L348.0,126.0 L347.0,127.8 L348.0,131.0 L347.0,133.5 M358.3,118.0 L361.9,119.8 L368.2,120.5 M366.8,98.9 L369.8,101.1 L373.4,102.8 L378.1,104.1 L377.0,107.6 L373.8,111.1 L375.8,112.1 L375.8,115.3 L376.8,117.1 M368.6,98.1 L371.8,98.1 L373.8,99.6 L373.4,102.8 M376.2,93.4 L373.8,97.1 L373.8,99.6 M378.9,89.4 L381.5,89.6 M390.0,91.9 L390.8,95.4 L391.6,99.1 L386.7,100.9 L389.3,104.6 L387.7,107.8 L382.7,107.8 L380.9,107.8 L377.0,107.6 M373.8,111.1 L377.3,111.8 L380.7,110.8 L382.7,109.6 L380.9,107.8 M382.7,109.6 L386.7,109.1 L389.1,110.3 L388.9,112.8 M389.3,104.6 L391.6,104.1 L395.6,105.1 L395.6,107.3 L394.6,109.3 L393.6,109.8 L389.1,110.3 M391.6,99.1 L394.6,100.9 L399.2,102.8 L406.5,103.8 L409.5,100.4 L408.5,95.4 L408.5,91.6 L407.1,90.6 L400.6,90.6 M395.6,105.1 L399.2,102.8 M395.6,107.3 L399.2,107.1 L405.7,105.6 L407.3,106.8 L404.5,111.1 L402.2,111.3 L399.2,111.8 L396.0,110.3 L394.6,109.3 M407.3,106.8 L414.7,105.8 L417.8,110.3 L417.8,113.1 L420.6,113.6 M406.9,116.1 L411.5,117.3 L415.4,116.3 L418.6,117.1 M404.5,111.1 L404.3,114.3 L406.5,115.1 L406.9,116.1 L406.3,119.0 L406.3,120.8 L407.5,123.0 L413.5,123.3 L417.4,121.5 M401.6,127.3 L403.3,124.5 L406.3,123.5 L414.1,122.3 L413.7,124.5 M393.0,113.6 L400.0,113.6 L400.4,117.8 L398.6,120.3 M400.4,117.8 L402.5,119.3 L404.5,121.0 L406.3,120.8 M400.4,121.5 L402.7,120.3 L402.7,124.0 L403.3,124.5 M394.6,110.3 L392.6,112.8 L393.0,113.6 M399.2,111.8 L400.0,113.6 M408.7,97.6 L415.4,97.6 L422.4,98.4 L425.0,96.4 L430.3,97.4 L432.3,100.6 L437.7,101.6 L441.2,102.6 L440.6,107.1 L437.7,108.8 M414.7,105.8 L417.4,105.3 L419.8,106.8 L421.4,110.3 L417.8,113.1 M405.7,105.6 L406.5,103.8 M408.5,91.9 L412.5,90.9 L414.7,87.4 L417.8,86.4 L423.4,87.1 L426.8,93.4 L425.0,96.4 M403.5,86.4 L411.5,86.1 L414.7,87.4 M410.1,82.2 L416.2,82.9 L417.4,78.2 M416.2,82.9 L417.8,86.4 M418.4,75.4 L421.4,72.4 L424.4,69.5 L420.4,65.5 L421.4,57.5 L418.4,55.5 L419.4,53.0 L423.0,52.3 M409.5,62.2 L408.5,58.0 L403.5,54.3 L405.5,55.2 L411.5,54.8 L413.5,52.0 L417.4,52.3 L419.4,53.0 M384.1,79.2 L386.7,75.4 L386.1,69.2 L389.7,65.5 L392.6,61.0 L395.6,56.7 L398.6,55.5 L402.5,54.3 L403.5,54.3 M459.1,110.1 L458.5,106.1 L454.1,105.3 L456.1,100.6 L462.1,97.9 L471.0,99.6 L477.0,99.1 L482.9,99.6 L483.9,96.6 L482.9,91.6 L490.8,90.1 L500.8,88.6 L507.7,91.6 L512.7,91.6 L516.6,93.4 L520.6,99.6 L526.6,99.1 L531.5,102.8 L535.1,103.6 M536.1,103.6 L540.5,100.4 L548.4,101.6 L556.3,100.4 L557.3,96.6 L564.3,97.9 L572.2,100.9 L576.2,103.3 L584.1,102.8 L591.1,102.1 L594.0,102.3 M594.0,102.3 L597.0,101.8 L599.0,94.6 L605.9,92.9 L611.9,94.6 L614.9,102.3 L621.0,104.3 L621.8,107.1 L629.2,105.8 L626.2,114.1 L622.2,114.6 L621.8,119.3 L621.0,120.5 M536.1,103.6 L542.4,111.6 L552.4,119.0 L562.3,120.0 L570.2,122.8 L583.1,117.5 L588.1,114.6 L594.6,110.3 L599.6,109.1 L594.0,102.3 M535.1,103.6 L532.1,109.1 L526.2,112.8 L521.0,114.1 L521.2,121.0 L514.7,124.0 L508.7,127.8 L510.7,134.0 L514.7,137.2 L518.2,142.7 L518.6,148.9 L522.6,150.9 L528.6,155.2 L536.5,156.7 L538.5,157.9 L544.4,156.9 L554.3,156.4 L557.3,162.7 L555.3,166.6 L559.3,171.1 L562.7,173.1 L564.3,170.4 L567.2,169.6 L573.4,169.4 L576.2,172.6 M514.7,137.7 L509.7,140.2 L508.7,144.0 L510.7,145.5 L509.7,148.9 L506.7,152.7 L502.8,156.4 L500.8,162.7 L497.8,167.4 M520.8,151.4 L522.6,155.2 L528.6,157.9 L536.9,160.4 L536.5,156.7 M536.7,171.4 L537.9,165.9 L537.1,162.7 L540.1,161.4 L544.4,163.7 L545.0,166.4 L545.6,173.4 M545.0,171.9 L547.0,168.1 L549.4,164.1 L550.8,159.7 L554.3,156.4 M557.3,201.3 L558.7,195.0 L557.3,188.8 L555.7,182.6 L557.3,176.9 L560.3,175.4 L562.7,173.1 M561.3,175.9 L562.7,177.6 L565.3,181.3 L569.2,182.6 L571.2,188.8 L566.3,190.3 L565.3,195.8 M564.3,170.4 L568.2,175.1 L570.2,180.1 L574.2,185.6 L575.2,189.6 L572.2,196.8 L569.2,200.0 M571.2,190.6 L575.2,189.6 M560.5,210.0 L563.9,211.7 L564.5,210.7 M484.1,163.4 L487.5,158.4 L486.5,155.7 L482.9,151.9 L482.7,147.7 L481.9,142.7 L483.3,137.5 L478.9,133.2 L473.0,131.5 L469.0,132.8 M457.1,151.4 L458.1,147.7 L456.1,144.0 L452.2,141.5 L452.8,137.0 L450.2,133.5 L449.2,129.0 L450.8,127.3 L454.1,129.3 L457.1,129.0 L457.1,130.5 L458.9,130.5 M486.5,152.9 L493.8,151.7 L494.2,148.4 L499.4,146.7 L501.8,141.7 L503.2,139.7 L503.9,136.5 L509.7,134.0 M483.3,137.5 L485.9,138.2 L489.9,135.7 L493.8,133.0 L496.8,134.0 L500.8,132.5 L503.7,131.8 L509.7,133.0 M466.8,121.8 L473.0,123.3 L478.0,120.3 L480.9,121.5 L483.9,123.3 L485.9,127.8 L489.9,129.8 L493.8,133.0 M473.0,123.3 L473.0,114.1 L478.0,112.8 L482.9,115.3 L484.9,117.8 L490.7,117.3 L492.8,121.5 L496.8,124.0 L498.8,123.0 L502.8,120.8 L509.7,118.5 L521.0,119.3 M502.8,120.8 L504.7,124.0 L501.8,125.3 L499.8,126.5 L506.7,128.0 L508.7,127.8 M496.8,134.0 L496.4,131.5 L497.8,127.8 L499.8,126.5 M433.3,134.5 L434.7,134.5 L437.3,134.5 L441.2,133.7 L445.2,133.5 L450.2,133.5 M444.4,122.8 L448.2,123.8 L448.2,126.5 L450.2,127.3 M441.2,118.0 L445.2,118.5 L450.2,119.8 L454.1,121.8 L458.1,122.0 M450.8,123.5 L454.1,123.8 M446.0,133.7 L443.6,140.5 L438.9,143.0 M432.7,144.7 L434.9,145.7 L438.9,143.0 M433.1,140.0 L434.5,141.0 L432.9,143.2 M438.9,143.0 L439.7,146.0 L445.2,148.7 L450.6,153.4 L454.1,153.7 L456.5,155.2 M454.1,153.7 L456.9,151.4 M431.3,152.9 L434.3,152.7 L437.3,150.2 L435.3,147.7 L439.7,146.0 M446.8,185.3 L449.2,182.8 L454.1,183.1 L456.1,183.8 L465.1,178.9 L472.4,171.4 L471.4,169.6 L465.1,168.9 L464.3,165.6 M465.1,178.9 L467.2,184.6 M472.4,171.4 L473.0,165.9 L473.8,164.4 M611.9,132.3 L613.9,130.8 L616.5,130.0 M608.5,126.8 L611.9,123.5 L615.9,121.5 L619.2,120.5 L621.0,120.5 M641.7,232.7 L641.7,248.9 M579.3,221.2 L584.1,222.5 L589.1,222.5 L591.1,217.5 L595.0,215.7" fill="none" stroke="#c6c6c8" stroke-width="0.75" stroke-linejoin="round"/><path d="M417.4,123.5 L417.8,120.3 L417.0,117.8 L418.8,115.3 L420.8,113.3 L423.0,110.3 L425.4,110.3 L428.3,111.6 L426.4,113.1 L428.3,115.3 L431.3,114.6 L434.3,113.6 L437.3,109.1 L439.9,108.6 L437.7,111.6 L436.3,113.3 L438.3,115.8 L441.2,118.0 L444.2,121.5 L444.6,122.8 L441.2,124.3 L437.3,124.3 L433.3,122.3 L431.3,121.5 L427.9,121.8 L424.4,123.3 L420.4,123.5Z M456.1,112.8 L459.1,110.1 L463.1,109.1 L467.0,109.8 L467.4,113.3 L463.7,115.1 L463.1,118.5 L466.4,121.5 L467.0,124.5 L469.0,125.8 L467.0,127.8 L468.8,133.2 L464.1,134.5 L461.1,133.0 L459.1,130.5 L460.1,126.0 L461.7,125.5 L459.1,122.8 L457.1,120.3 L455.9,117.8 L454.7,115.6Z" fill="#ffffff" stroke="#c4c4c6" stroke-width="0.8" stroke-linejoin="round"/></g>
<path d="M415.8,93.2 Q454,88 458.57,106.59" fill="none" stroke="#e3298b" stroke-width="5.0"/><polygon points="461,116.5 451.2,104.9 458.57,106.59 464.31,101.68" fill="#e3298b"/>
<path d="M466.6,117.2 Q501.4,89.6 557.84,126.77" fill="none" stroke="#e3298b" stroke-width="2.0"/><polygon points="562.6,129.9 554.11,128.98 557.84,126.77 558.4,122.46" fill="#e3298b"/>
<path d="M471.5,126.4 Q500,123 504.02,139.17" fill="none" stroke="#e3298b" stroke-width="2.0"/><polygon points="505.4,144.7 499.78,138.27 504.02,139.17 507.35,136.38" fill="#e3298b"/>
<path d="M578.8,129.2 Q597.1,110.2 610.71,119" fill="none" stroke="#e3298b" stroke-width="2.0"/><polygon points="615.5,122.1 607,121.25 610.71,119 611.24,114.7" fill="#e3298b"/>
<path d="M589.4,155.3 Q611.7,169.5 589.95,194.64" fill="none" stroke="#e3298b" stroke-width="0.9"/><polygon points="587.3,197.7 588.67,191.75 589.95,194.64 592.99,195.48" fill="#e3298b"/>
<path d="M467.3,145.4 C474,172 468,205 433.59,207.07" fill="none" stroke="#e3298b" stroke-width="3.0"/><polygon points="426.4,207.5 435.69,202.08 433.59,207.07 436.27,211.77" fill="#e3298b"/>
<path d="M391.8,201.2 Q345.6,160.9 380.15,115.42" fill="none" stroke="#e3298b" stroke-width="0.9"/><polygon points="382.6,112.2 381.61,118.23 380.15,115.42 377.06,114.77" fill="#e3298b"/>
<circle cx="167" cy="111.6" r="16.4" fill="#6a6a6d" stroke="#fff" stroke-width="1.2"/>
<text x="167" y="118.1" font-size="16.6" font-weight="normal" fill="#fff" text-anchor="middle" textLength="20" lengthAdjust="spacingAndGlyphs">NA</text>
<circle cx="400.2" cy="103.1" r="16.4" fill="#6a6a6d" stroke="#fff" stroke-width="1.2"/>
<text x="400.2" y="109.6" font-size="16.6" font-weight="normal" fill="#fff" text-anchor="middle" textLength="20" lengthAdjust="spacingAndGlyphs">EU</text>
<circle cx="455.3" cy="132.3" r="16.4" fill="#6a6a6d" stroke="#fff" stroke-width="1.2"/>
<text x="455.3" y="138.8" font-size="16.6" font-weight="normal" fill="#fff" text-anchor="middle" textLength="23" lengthAdjust="spacingAndGlyphs">WA</text>
<circle cx="505.4" cy="165.2" r="16.4" fill="#6a6a6d" stroke="#fff" stroke-width="1.2"/>
<text x="505.4" y="171.7" font-size="16.6" font-weight="normal" fill="#fff" text-anchor="middle" textLength="19" lengthAdjust="spacingAndGlyphs">SA</text>
<circle cx="573.5" cy="145.7" r="16.4" fill="#6a6a6d" stroke="#fff" stroke-width="1.2"/>
<text x="573.5" y="152.2" font-size="16.6" font-weight="normal" fill="#fff" text-anchor="middle" textLength="21" lengthAdjust="spacingAndGlyphs">CN</text>
<circle cx="627.5" cy="137.9" r="16.4" fill="#6a6a6d" stroke="#fff" stroke-width="1.2"/>
<text x="627.5" y="144.4" font-size="16.6" font-weight="normal" fill="#fff" text-anchor="middle" textLength="23" lengthAdjust="spacingAndGlyphs">J&amp;K</text>
<circle cx="408.7" cy="205.4" r="16.4" fill="#6a6a6d" stroke="#fff" stroke-width="1.2"/>
<text x="408.7" y="211.9" font-size="16.6" font-weight="normal" fill="#fff" text-anchor="middle" textLength="19" lengthAdjust="spacingAndGlyphs">AF</text>
<circle cx="570.1" cy="204" r="16.4" fill="#6a6a6d" stroke="#fff" stroke-width="1.2"/>
<text x="570.1" y="210.5" font-size="16.6" font-weight="normal" fill="#fff" text-anchor="middle" textLength="26" lengthAdjust="spacingAndGlyphs">SEA</text>
<path d="M623.3,512.7 C560,440 445,452 411.84,479.04" fill="none" stroke="#50408f" stroke-width="0.9"/><polygon points="408.7,481.6 411.08,475.97 411.84,479.04 414.69,480.4" fill="#50408f"/>
<path d="M415.8,487.6 Q448.9,481 459.58,502.28" fill="none" stroke="#50408f" stroke-width="0.9"/><polygon points="461.4,505.9 456.43,502.35 459.58,502.28 461.53,499.79" fill="#50408f"/>
<path d="M505.4,543.8 Q503,518 476.24,520.17" fill="none" stroke="#50408f" stroke-width="0.9"/><polygon points="472.2,520.5 477.35,517.22 476.24,520.17 477.81,522.91" fill="#50408f"/>
<path d="M554.1,607.3 C510,618 452,600 449.86,547.15" fill="none" stroke="#50408f" stroke-width="0.9"/><polygon points="449.7,543.1 452.77,548.38 449.86,547.15 447.07,548.61" fill="#50408f"/>
<path d="M584.04,517.69 Q596.6,503.9 610.64,512.52" fill="none" stroke="#50408f" stroke-width="2.0"/><polygon points="615.5,515.5 606.98,514.85 610.64,512.52 611.06,508.2" fill="#50408f"/><polygon points="580.2,521.9 582.44,513.66 584.04,517.69 588.2,518.91" fill="#50408f"/>
<path d="M590.1,548.7 Q611.9,564.5 592.88,585.11" fill="none" stroke="#50408f" stroke-width="3.0"/><polygon points="588,590.4 590.95,580.06 592.88,585.11 598.07,586.63" fill="#50408f"/>
<path d="M553.4,588.2 Q533.3,566.5 549.91,551.17" fill="none" stroke="#50408f" stroke-width="2.0"/><polygon points="554.1,547.3 551.16,555.32 549.91,551.17 545.87,549.59" fill="#50408f"/>
<circle cx="167" cy="504.8" r="16.4" fill="#6a6a6d" stroke="#fff" stroke-width="1.2"/>
<text x="167" y="511.3" font-size="16.6" font-weight="normal" fill="#fff" text-anchor="middle" textLength="20" lengthAdjust="spacingAndGlyphs">NA</text>
<circle cx="400.2" cy="496.3" r="16.4" fill="#6a6a6d" stroke="#fff" stroke-width="1.2"/>
<text x="400.2" y="502.8" font-size="16.6" font-weight="normal" fill="#fff" text-anchor="middle" textLength="20" lengthAdjust="spacingAndGlyphs">EU</text>
<circle cx="455.3" cy="525.5" r="16.4" fill="#6a6a6d" stroke="#fff" stroke-width="1.2"/>
<text x="455.3" y="532" font-size="16.6" font-weight="normal" fill="#fff" text-anchor="middle" textLength="23" lengthAdjust="spacingAndGlyphs">WA</text>
<circle cx="505.4" cy="558.4" r="16.4" fill="#6a6a6d" stroke="#fff" stroke-width="1.2"/>
<text x="505.4" y="564.9" font-size="16.6" font-weight="normal" fill="#fff" text-anchor="middle" textLength="19" lengthAdjust="spacingAndGlyphs">SA</text>
<circle cx="573.5" cy="538.9" r="16.4" fill="#6a6a6d" stroke="#fff" stroke-width="1.2"/>
<text x="573.5" y="545.4" font-size="16.6" font-weight="normal" fill="#fff" text-anchor="middle" textLength="21" lengthAdjust="spacingAndGlyphs">CN</text>
<circle cx="627.5" cy="531.1" r="16.4" fill="#6a6a6d" stroke="#fff" stroke-width="1.2"/>
<text x="627.5" y="537.6" font-size="16.6" font-weight="normal" fill="#fff" text-anchor="middle" textLength="23" lengthAdjust="spacingAndGlyphs">J&amp;K</text>
<circle cx="408.7" cy="598.6" r="16.4" fill="#6a6a6d" stroke="#fff" stroke-width="1.2"/>
<text x="408.7" y="605.1" font-size="16.6" font-weight="normal" fill="#fff" text-anchor="middle" textLength="19" lengthAdjust="spacingAndGlyphs">AF</text>
<circle cx="570.1" cy="597.2" r="16.4" fill="#6a6a6d" stroke="#fff" stroke-width="1.2"/>
<text x="570.1" y="603.7" font-size="16.6" font-weight="normal" fill="#fff" text-anchor="middle" textLength="26" lengthAdjust="spacingAndGlyphs">SEA</text>
<path d="M568.4,912.4 C470,838 270,835 187.11,882.78" fill="none" stroke="#2d9b62" stroke-width="0.9"/><polygon points="183.6,884.8 186.85,879.63 187.11,882.78 189.7,884.58" fill="#2d9b62"/>
<path d="M461.7,901.8 Q459,877 421.69,879.13" fill="none" stroke="#2d9b62" stroke-width="1.4"/><polygon points="416.9,879.4 423.1,875.71 421.69,879.13 423.48,882.36" fill="#2d9b62"/>
<path d="M471.61,900.47 Q508.5,876.3 558.64,913.44" fill="none" stroke="#2d9b62" stroke-width="1.4"/><polygon points="562.5,916.3 555.38,915.17 558.64,913.44 559.34,909.81" fill="#2d9b62"/><polygon points="467.6,903.1 471.13,896.81 471.61,900.47 474.78,902.38" fill="#2d9b62"/>
<path d="M579,914.3 Q597.4,897.8 611.67,905.44" fill="none" stroke="#2d9b62" stroke-width="1.4"/><polygon points="615.9,907.7 608.69,907.62 611.67,905.44 611.83,901.74" fill="#2d9b62"/>
<path d="M590.2,941.3 Q610.2,958.6 593.14,979.12" fill="none" stroke="#2d9b62" stroke-width="2.0"/><polygon points="589.5,983.5 591.36,975.16 593.14,979.12 597.36,980.15" fill="#2d9b62"/>
<path d="M552.6,980.2 Q533.6,961.2 550.02,943.57" fill="none" stroke="#2d9b62" stroke-width="2.0"/><polygon points="553.9,939.4 551.57,947.62 550.02,943.57 545.87,942.3" fill="#2d9b62"/>
<path d="M553.9,1003.3 C485,1008 405,975 401.91,914.44" fill="none" stroke="#2d9b62" stroke-width="0.9"/><polygon points="401.7,910.4 404.83,915.65 401.91,914.44 399.12,915.94" fill="#2d9b62"/>
<path d="M467.6,932.8 C474,959 468,992 431.44,994.43" fill="none" stroke="#2d9b62" stroke-width="0.9"/><polygon points="427.4,994.7 432.6,991.49 431.44,994.43 432.98,997.19" fill="#2d9b62"/>
<circle cx="167" cy="897.6" r="16.4" fill="#6a6a6d" stroke="#fff" stroke-width="1.2"/>
<text x="167" y="904.1" font-size="16.6" font-weight="normal" fill="#fff" text-anchor="middle" textLength="20" lengthAdjust="spacingAndGlyphs">NA</text>
<circle cx="400.2" cy="889.1" r="16.4" fill="#6a6a6d" stroke="#fff" stroke-width="1.2"/>
<text x="400.2" y="895.6" font-size="16.6" font-weight="normal" fill="#fff" text-anchor="middle" textLength="20" lengthAdjust="spacingAndGlyphs">EU</text>
<circle cx="455.3" cy="918.3" r="16.4" fill="#6a6a6d" stroke="#fff" stroke-width="1.2"/>
<text x="455.3" y="924.8" font-size="16.6" font-weight="normal" fill="#fff" text-anchor="middle" textLength="23" lengthAdjust="spacingAndGlyphs">WA</text>
<circle cx="505.4" cy="951.2" r="16.4" fill="#6a6a6d" stroke="#fff" stroke-width="1.2"/>
<text x="505.4" y="957.7" font-size="16.6" font-weight="normal" fill="#fff" text-anchor="middle" textLength="19" lengthAdjust="spacingAndGlyphs">SA</text>
<circle cx="573.5" cy="931.7" r="16.4" fill="#6a6a6d" stroke="#fff" stroke-width="1.2"/>
<text x="573.5" y="938.2" font-size="16.6" font-weight="normal" fill="#fff" text-anchor="middle" textLength="21" lengthAdjust="spacingAndGlyphs">CN</text>
<circle cx="627.5" cy="923.9" r="16.4" fill="#6a6a6d" stroke="#fff" stroke-width="1.2"/>
<text x="627.5" y="930.4" font-size="16.6" font-weight="normal" fill="#fff" text-anchor="middle" textLength="23" lengthAdjust="spacingAndGlyphs">J&amp;K</text>
<circle cx="408.7" cy="991.4" r="16.4" fill="#6a6a6d" stroke="#fff" stroke-width="1.2"/>
<text x="408.7" y="997.9" font-size="16.6" font-weight="normal" fill="#fff" text-anchor="middle" textLength="19" lengthAdjust="spacingAndGlyphs">AF</text>
<circle cx="570.1" cy="990" r="16.4" fill="#6a6a6d" stroke="#fff" stroke-width="1.2"/>
<text x="570.1" y="996.5" font-size="16.6" font-weight="normal" fill="#fff" text-anchor="middle" textLength="26" lengthAdjust="spacingAndGlyphs">SEA</text>
<path d="M463.6,1296.5 Q458,1264 422.39,1271.09" fill="none" stroke="#eaa03f" stroke-width="2.0"/><polygon points="416.8,1272.2 423.49,1266.89 422.39,1271.09 425.02,1274.54" fill="#eaa03f"/>
<path d="M397.7,1299.8 Q400,1330 439.06,1327.73" fill="none" stroke="#eaa03f" stroke-width="0.9"/><polygon points="443.1,1327.5 437.87,1330.66 439.06,1327.73 437.54,1324.96" fill="#eaa03f"/>
<path d="M464.9,1298.5 Q513.6,1269 559.31,1307.78" fill="none" stroke="#eaa03f" stroke-width="0.9"/><polygon points="562.4,1310.4 556.44,1309.08 559.31,1307.78 560.13,1304.73" fill="#eaa03f"/>
<path d="M471.5,1306.4 Q500,1302 503.68,1322.22" fill="none" stroke="#eaa03f" stroke-width="0.9"/><polygon points="504.4,1326.2 500.63,1321.4 503.68,1322.22 506.24,1320.38" fill="#eaa03f"/>
<path d="M425.3,1387.5 C455,1388 475,1360 470.1,1333.28" fill="none" stroke="#eaa03f" stroke-width="3.0"/><polygon points="468.8,1326.2 475.3,1334.77 470.1,1333.28 465.76,1336.52" fill="#eaa03f"/>
<circle cx="167" cy="1291" r="16.4" fill="#6a6a6d" stroke="#fff" stroke-width="1.2"/>
<text x="167" y="1297.5" font-size="16.6" font-weight="normal" fill="#fff" text-anchor="middle" textLength="20" lengthAdjust="spacingAndGlyphs">NA</text>
<circle cx="400.2" cy="1282.5" r="16.4" fill="#6a6a6d" stroke="#fff" stroke-width="1.2"/>
<text x="400.2" y="1289" font-size="16.6" font-weight="normal" fill="#fff" text-anchor="middle" textLength="20" lengthAdjust="spacingAndGlyphs">EU</text>
<circle cx="455.3" cy="1311.7" r="16.4" fill="#6a6a6d" stroke="#fff" stroke-width="1.2"/>
<text x="455.3" y="1318.2" font-size="16.6" font-weight="normal" fill="#fff" text-anchor="middle" textLength="23" lengthAdjust="spacingAndGlyphs">WA</text>
<circle cx="505.4" cy="1344.6" r="16.4" fill="#6a6a6d" stroke="#fff" stroke-width="1.2"/>
<text x="505.4" y="1351.1" font-size="16.6" font-weight="normal" fill="#fff" text-anchor="middle" textLength="19" lengthAdjust="spacingAndGlyphs">SA</text>
<circle cx="573.5" cy="1325.1" r="16.4" fill="#6a6a6d" stroke="#fff" stroke-width="1.2"/>
<text x="573.5" y="1331.6" font-size="16.6" font-weight="normal" fill="#fff" text-anchor="middle" textLength="21" lengthAdjust="spacingAndGlyphs">CN</text>
<circle cx="627.5" cy="1317.3" r="16.4" fill="#6a6a6d" stroke="#fff" stroke-width="1.2"/>
<text x="627.5" y="1323.8" font-size="16.6" font-weight="normal" fill="#fff" text-anchor="middle" textLength="23" lengthAdjust="spacingAndGlyphs">J&amp;K</text>
<circle cx="408.7" cy="1384.8" r="16.4" fill="#6a6a6d" stroke="#fff" stroke-width="1.2"/>
<text x="408.7" y="1391.3" font-size="16.6" font-weight="normal" fill="#fff" text-anchor="middle" textLength="19" lengthAdjust="spacingAndGlyphs">AF</text>
<circle cx="570.1" cy="1383.4" r="16.4" fill="#6a6a6d" stroke="#fff" stroke-width="1.2"/>
<text x="570.1" y="1389.9" font-size="16.6" font-weight="normal" fill="#fff" text-anchor="middle" textLength="26" lengthAdjust="spacingAndGlyphs">SEA</text>
<text x="23.5" y="296.9" font-size="25" font-weight="bold" fill="#231f20" text-anchor="start" >2.3.4.4.b</text>
<text x="23.5" y="689.2" font-size="25" font-weight="bold" fill="#231f20" text-anchor="start" >2.3.4.4.x</text>
<text x="23.5" y="1081.8" font-size="25" font-weight="bold" fill="#231f20" text-anchor="start" >2.3.2.1</text>
<text x="23.5" y="1476.9" font-size="25" font-weight="bold" fill="#231f20" text-anchor="start" >2.2</text>
<text x="976.2" y="25.4" font-size="25.3" font-weight="bold" fill="#231f20" text-anchor="middle" >Region Markov Rewards (Years)</text>
<path d="M970.7,53.6 A142.6,142.6 0 0 1 1079.06,103.51 L1024.65,150.05 A71,71 0 0 0 970.7,125.2 Z" fill="#0a6eb3" stroke="#231f20" stroke-width="1.1" stroke-linejoin="round"/>
<path d="M1079.06,103.51 A142.6,142.6 0 0 1 1105.31,243.25 L1037.72,219.63 A71,71 0 0 0 1024.65,150.05 Z" fill="#dc6a2d" stroke="#231f20" stroke-width="1.1" stroke-linejoin="round"/>
<path d="M1105.31,243.25 A142.6,142.6 0 1 1 842.09,134.6 L906.67,165.53 A71,71 0 1 0 1037.72,219.63 Z" fill="#0b9a6d" stroke="#231f20" stroke-width="1.1" stroke-linejoin="round"/>
<path d="M842.09,134.6 A142.6,142.6 0 0 1 862.34,103.51 L916.75,150.05 A71,71 0 0 0 906.67,165.53 Z" fill="#56b0e2" stroke="#231f20" stroke-width="1.1" stroke-linejoin="round"/>
<path d="M862.34,103.51 A142.6,142.6 0 0 1 868.11,97.15 L919.62,146.88 A71,71 0 0 0 916.75,150.05 Z" fill="#cc78ab" stroke="#231f20" stroke-width="1.1" stroke-linejoin="round"/>
<path d="M868.11,97.15 A142.6,142.6 0 0 1 876.39,89.24 L923.74,142.95 A71,71 0 0 0 919.62,146.88 Z" fill="#e8a02e" stroke="#231f20" stroke-width="1.1" stroke-linejoin="round"/>
<path d="M876.39,89.24 A142.6,142.6 0 0 1 880.76,85.54 L925.92,141.1 A71,71 0 0 0 923.74,142.95 Z" fill="#e7e14b" stroke="#231f20" stroke-width="1.1" stroke-linejoin="round"/>
<path d="M880.76,85.54 A142.6,142.6 0 0 1 970.7,53.6 L970.7,125.2 A71,71 0 0 0 925.92,141.1 Z" fill="#8f9193" stroke="#231f20" stroke-width="1.1" stroke-linejoin="round"/>
<text x="935.3" y="105.6" font-size="24" font-weight="bold" fill="#fff" text-anchor="middle" >34</text>
<text x="1016.9" y="111.1" font-size="24" font-weight="bold" fill="#fff" text-anchor="middle" >43</text>
<text x="1072.5" y="190.5" font-size="24" font-weight="bold" fill="#fff" text-anchor="middle" >52</text>
<text x="947.5" y="309.5" font-size="24" font-weight="bold" fill="#fff" text-anchor="middle" >162</text>
<text x="815.2" y="111.9" font-size="20" font-weight="bold" fill="#000" text-anchor="middle" >13</text>
<line x1="830" y1="108" x2="849.4" y2="119.7" stroke="#231f20" stroke-width="1.1"/>
<text x="840.1" y="86.6" font-size="20" font-weight="bold" fill="#000" text-anchor="middle" >3</text>
<line x1="847.2" y1="87.1" x2="863.7" y2="100.3" stroke="#231f20" stroke-width="1.1"/>
<text x="866.3" y="76.6" font-size="20" font-weight="bold" fill="#000" text-anchor="middle" >4</text>
<line x1="870.3" y1="76" x2="870.7" y2="92.6" stroke="#231f20" stroke-width="1.1"/>
<text x="879.6" y="61.2" font-size="20" font-weight="bold" fill="#000" text-anchor="middle" >2</text>
<line x1="879.1" y1="62.8" x2="879.1" y2="87.1" stroke="#231f20" stroke-width="1.1"/>
<text x="976.2" y="417.6" font-size="25.3" font-weight="bold" fill="#231f20" text-anchor="middle" >Region Markov Rewards (Years)</text>
<path d="M970.7,445.9 A142.6,142.6 0 1 1 885.99,703.22 L928.53,645.62 A71,71 0 1 0 970.7,517.5 Z" fill="#dc6a2d" stroke="#231f20" stroke-width="1.1" stroke-linejoin="round"/>
<path d="M885.99,703.22 A142.6,142.6 0 0 1 871.33,690.78 L921.23,639.43 A71,71 0 0 0 928.53,645.62 Z" fill="#0b9a6d" stroke="#231f20" stroke-width="1.1" stroke-linejoin="round"/>
<path d="M871.33,690.78 A142.6,142.6 0 0 1 828.16,584.38 L899.73,586.45 A71,71 0 0 0 921.23,639.43 Z" fill="#56b0e2" stroke="#231f20" stroke-width="1.1" stroke-linejoin="round"/>
<path d="M828.16,584.38 A142.6,142.6 0 0 1 832.22,554.48 L901.75,571.56 A71,71 0 0 0 899.73,586.45 Z" fill="#cc78ab" stroke="#231f20" stroke-width="1.1" stroke-linejoin="round"/>
<path d="M832.22,554.48 A142.6,142.6 0 0 1 833.63,549.16 L902.45,568.92 A71,71 0 0 0 901.75,571.56 Z" fill="#e8a02e" stroke="#231f20" stroke-width="1.1" stroke-linejoin="round"/>
<path d="M833.63,549.16 A142.6,142.6 0 0 1 965.2,446.01 L967.96,517.55 A71,71 0 0 0 902.45,568.92 Z" fill="#e7e14b" stroke="#231f20" stroke-width="1.1" stroke-linejoin="round"/>
<path d="M965.2,446.01 A142.6,142.6 0 0 1 970.7,445.9 L970.7,517.5 A71,71 0 0 0 967.96,517.55 Z" fill="#8f9193" stroke="#231f20" stroke-width="1.1" stroke-linejoin="round"/>
<text x="899" y="517.6" font-size="24" font-weight="bold" fill="#fff" text-anchor="middle" >65</text>
<text x="1074.2" y="605.8" font-size="24" font-weight="bold" fill="#fff" text-anchor="middle" >196</text>
<text x="871.4" y="637.8" font-size="24" font-weight="bold" fill="#fff" text-anchor="middle" >43</text>
<text x="956.3" y="440.2" font-size="20" font-weight="bold" fill="#000" text-anchor="middle" >2</text>
<line x1="965.1" y1="433" x2="966.2" y2="446.2" stroke="#231f20" stroke-width="1.1"/>
<text x="796.9" y="549.3" font-size="20" font-weight="bold" fill="#000" text-anchor="middle" >2</text>
<line x1="810.8" y1="545.4" x2="832.8" y2="553.1" stroke="#231f20" stroke-width="1.1"/>
<text x="791" y="574.7" font-size="20" font-weight="bold" fill="#000" text-anchor="middle" >11</text>
<line x1="806.4" y1="565.3" x2="828.4" y2="570.8" stroke="#231f20" stroke-width="1.1"/>
<text x="852" y="730.1" font-size="20" font-weight="bold" fill="#000" text-anchor="middle" >7</text>
<line x1="863.7" y1="715.2" x2="878" y2="698.6" stroke="#231f20" stroke-width="1.1"/>
<text x="976.2" y="809.8" font-size="25.3" font-weight="bold" fill="#231f20" text-anchor="middle" >Region Markov Rewards (Years)</text>
<path d="M970.7,838.6 A142.6,142.6 0 0 1 1032.82,852.84 L1001.63,917.29 A71,71 0 0 0 970.7,910.2 Z" fill="#0a6eb3" stroke="#231f20" stroke-width="1.1" stroke-linejoin="round"/>
<path d="M1032.82,852.84 A142.6,142.6 0 0 1 1110.32,1010.21 L1040.21,995.65 A71,71 0 0 0 1001.63,917.29 Z" fill="#dc6a2d" stroke="#231f20" stroke-width="1.1" stroke-linejoin="round"/>
<path d="M1110.32,1010.21 A142.6,142.6 0 0 1 1109.47,1014.02 L1039.79,997.54 A71,71 0 0 0 1040.21,995.65 Z" fill="#0b9a6d" stroke="#231f20" stroke-width="1.1" stroke-linejoin="round"/>
<path d="M1109.47,1014.02 A142.6,142.6 0 0 1 1105.71,1027.11 L1037.92,1004.06 A71,71 0 0 0 1039.79,997.54 Z" fill="#56b0e2" stroke="#231f20" stroke-width="1.1" stroke-linejoin="round"/>
<path d="M1105.71,1027.11 A142.6,142.6 0 0 1 901.66,1105.97 L936.33,1043.32 A71,71 0 0 0 1037.92,1004.06 Z" fill="#e8a02e" stroke="#231f20" stroke-width="1.1" stroke-linejoin="round"/>
<path d="M901.66,1105.97 A142.6,142.6 0 0 1 943.6,841.2 L957.21,911.49 A71,71 0 0 0 936.33,1043.32 Z" fill="#e7e14b" stroke="#231f20" stroke-width="1.1" stroke-linejoin="round"/>
<path d="M943.6,841.2 A142.6,142.6 0 0 1 970.7,838.6 L970.7,910.2 A71,71 0 0 0 957.21,911.49 Z" fill="#8f9193" stroke="#231f20" stroke-width="1.1" stroke-linejoin="round"/>
<text x="992.7" y="885.6" font-size="24" font-weight="bold" fill="#fff" text-anchor="middle" >33</text>
<text x="1062.1" y="941.8" font-size="24" font-weight="bold" fill="#fff" text-anchor="middle" >97</text>
<text x="864.8" y="983.7" font-size="24" font-weight="bold" fill="#fff" text-anchor="middle" >179</text>
<text x="1007" y="1088.4" font-size="24" font-weight="bold" fill="#fff" text-anchor="middle" >128</text>
<text x="940.9" y="832.4" font-size="20" font-weight="bold" fill="#000" text-anchor="middle" >14</text>
<line x1="956.3" y1="825.2" x2="957.4" y2="839.1" stroke="#231f20" stroke-width="1.1"/>
<text x="1140.4" y="1023.1" font-size="20" font-weight="bold" fill="#000" text-anchor="middle" >2</text>
<line x1="1109.5" y1="1011" x2="1132.7" y2="1018.5" stroke="#231f20" stroke-width="1.1"/>
<text x="1137" y="1041.8" font-size="20" font-weight="bold" fill="#000" text-anchor="middle" >7</text>
<line x1="1105.1" y1="1022.5" x2="1128.2" y2="1028" stroke="#231f20" stroke-width="1.1"/>
<text x="976.2" y="1205.3" font-size="25.3" font-weight="bold" fill="#231f20" text-anchor="middle" >Region Markov Rewards (Years)</text>
<path d="M970.7,1233.6 A142.6,142.6 0 1 1 853.41,1457.31 L912.3,1416.58 A71,71 0 1 0 970.7,1305.2 Z" fill="#0a6eb3" stroke="#231f20" stroke-width="1.1" stroke-linejoin="round"/>
<path d="M853.41,1457.31 A142.6,142.6 0 0 1 842.27,1438.17 L906.76,1407.06 A71,71 0 0 0 912.3,1416.58 Z" fill="#dc6a2d" stroke="#231f20" stroke-width="1.1" stroke-linejoin="round"/>
<path d="M842.27,1438.17 A142.6,142.6 0 0 1 828.21,1370.66 L899.75,1373.44 A71,71 0 0 0 906.76,1407.06 Z" fill="#0b9a6d" stroke="#231f20" stroke-width="1.1" stroke-linejoin="round"/>
<path d="M828.21,1370.66 A142.6,142.6 0 0 1 880.12,1266.06 L925.6,1321.36 A71,71 0 0 0 899.75,1373.44 Z" fill="#e8a02e" stroke="#231f20" stroke-width="1.1" stroke-linejoin="round"/>
<path d="M880.12,1266.06 A142.6,142.6 0 0 1 970.7,1233.6 L970.7,1305.2 A71,71 0 0 0 925.6,1321.36 Z" fill="#8f9193" stroke="#231f20" stroke-width="1.1" stroke-linejoin="round"/>
<text x="930.5" y="1285.5" font-size="24" font-weight="bold" fill="#fff" text-anchor="middle" >31</text>
<text x="871.9" y="1338.4" font-size="24" font-weight="bold" fill="#fff" text-anchor="middle" >38</text>
<text x="866.3" y="1407.9" font-size="24" font-weight="bold" fill="#fff" text-anchor="middle" >22</text>
<text x="1075.3" y="1395.8" font-size="24" font-weight="bold" fill="#fff" text-anchor="middle" >185</text>
<text x="818.9" y="1472.6" font-size="20" font-weight="bold" fill="#000" text-anchor="middle" >7</text>
<line x1="829.1" y1="1462.1" x2="847.6" y2="1451.1" stroke="#231f20" stroke-width="1.1"/>
<text x="1926.5" y="22" font-size="25.2" font-weight="bold" fill="#231f20" text-anchor="middle" >Host Markov Rewards (Years)</text>
<path d="M1913.5,53.5 A142.5,142.5 0 0 1 1932.04,337.29 L1922.74,266.4 A71,71 0 0 0 1913.5,125 Z" fill="#8a5527" stroke="#231f20" stroke-width="1.1" stroke-linejoin="round"/>
<path d="M1932.04,337.29 A142.5,142.5 0 0 1 1929.2,337.63 L1921.32,266.57 A71,71 0 0 0 1922.74,266.4 Z" fill="#d9636d" stroke="#231f20" stroke-width="1.1" stroke-linejoin="round"/>
<path d="M1929.2,337.63 A142.5,142.5 0 1 1 1913.5,53.5 L1913.5,125 A71,71 0 1 0 1921.32,266.57 Z" fill="#1f87c7" stroke="#231f20" stroke-width="1.1" stroke-linejoin="round"/>
<text x="1808.2" y="202.6" font-size="24" font-weight="bold" fill="#fff" text-anchor="middle" >162</text>
<text x="2017.6" y="202.6" font-size="24" font-weight="bold" fill="#fff" text-anchor="middle" >150</text>
<text x="1952.6" y="362.1" font-size="20" font-weight="bold" fill="#000" text-anchor="middle" >1</text>
<line x1="1929.5" y1="336.1" x2="1942.7" y2="352" stroke="#231f20" stroke-width="1.1"/>
<text x="1926.5" y="413.1" font-size="25.2" font-weight="bold" fill="#231f20" text-anchor="middle" >Host Markov Rewards (Years)</text>
<path d="M1913.5,446 A142.5,142.5 0 1 1 1775.94,551.29 L1844.96,569.96 A71,71 0 1 0 1913.5,517.5 Z" fill="#8a5527" stroke="#231f20" stroke-width="1.1" stroke-linejoin="round"/>
<path d="M1775.94,551.29 A142.5,142.5 0 0 1 1788.09,520.84 L1851.01,554.79 A71,71 0 0 0 1844.96,569.96 Z" fill="#d9636d" stroke="#231f20" stroke-width="1.1" stroke-linejoin="round"/>
<path d="M1788.09,520.84 A142.5,142.5 0 0 1 1913.5,446 L1913.5,517.5 A71,71 0 0 0 1851.01,554.79 Z" fill="#1f87c7" stroke="#231f20" stroke-width="1.1" stroke-linejoin="round"/>
<text x="1858.9" y="503.3" font-size="24" font-weight="bold" fill="#fff" text-anchor="middle" >56</text>
<text x="2015.4" y="605.8" font-size="24" font-weight="bold" fill="#fff" text-anchor="middle" >259</text>
<text x="1746.5" y="535" font-size="20" font-weight="bold" fill="#000" text-anchor="middle" >12</text>
<line x1="1758.7" y1="528.9" x2="1781.1" y2="534.4" stroke="#231f20" stroke-width="1.1"/>
<text x="1926.5" y="806.4" font-size="25.2" font-weight="bold" fill="#231f20" text-anchor="middle" >Host Markov Rewards (Years)</text>
<path d="M1913.5,838.6 A142.5,142.5 0 1 1 1828.17,866.97 L1870.99,924.24 A71,71 0 1 0 1913.5,910.1 Z" fill="#8a5527" stroke="#231f20" stroke-width="1.1" stroke-linejoin="round"/>
<path d="M1828.17,866.97 A142.5,142.5 0 0 1 1836.16,861.41 L1874.97,921.47 A71,71 0 0 0 1870.99,924.24 Z" fill="#d9636d" stroke="#231f20" stroke-width="1.1" stroke-linejoin="round"/>
<path d="M1836.16,861.41 A142.5,142.5 0 0 1 1913.5,838.6 L1913.5,910.1 A71,71 0 0 0 1874.97,921.47 Z" fill="#1f87c7" stroke="#231f20" stroke-width="1.1" stroke-linejoin="round"/>
<text x="1881" y="885.6" font-size="24" font-weight="bold" fill="#fff" text-anchor="middle" >42</text>
<text x="2016.5" y="999.1" font-size="24" font-weight="bold" fill="#fff" text-anchor="middle" >413</text>
<text x="1803.8" y="855.5" font-size="20" font-weight="bold" fill="#000" text-anchor="middle" >5</text>
<line x1="1816.4" y1="848.3" x2="1832.9" y2="863.3" stroke="#231f20" stroke-width="1.1"/>
<text x="1926.5" y="1200.9" font-size="25.2" font-weight="bold" fill="#231f20" text-anchor="middle" >Host Markov Rewards (Years)</text>
<path d="M1913.5,1233.6 A142.5,142.5 0 1 1 1773.38,1402.06 L1843.69,1389.03 A71,71 0 1 0 1913.5,1305.1 Z" fill="#8a5527" stroke="#231f20" stroke-width="1.1" stroke-linejoin="round"/>
<path d="M1773.38,1402.06 A142.5,142.5 0 0 1 1800.97,1288.67 L1857.43,1332.54 A71,71 0 0 0 1843.69,1389.03 Z" fill="#d9636d" stroke="#231f20" stroke-width="1.1" stroke-linejoin="round"/>
<path d="M1800.97,1288.67 A142.5,142.5 0 0 1 1913.5,1233.6 L1913.5,1305.1 A71,71 0 0 0 1857.43,1332.54 Z" fill="#1f87c7" stroke="#231f20" stroke-width="1.1" stroke-linejoin="round"/>
<text x="1868.9" y="1288.8" font-size="24" font-weight="bold" fill="#fff" text-anchor="middle" >41</text>
<text x="1811.1" y="1358.2" font-size="24" font-weight="bold" fill="#fff" text-anchor="middle" >38</text>
<text x="2017.6" y="1395.7" font-size="24" font-weight="bold" fill="#fff" text-anchor="middle" >204</text>
<circle cx="1443.3" cy="20.9" r="12.7" fill="#050505" stroke="#050505" stroke-width="0.5"/>
<rect x="1418.25" y="38" width="52.9" height="30" rx="11" fill="#050505" stroke="#050505" stroke-width="0.5"/>
<rect x="1418.25" y="48" width="9.5" height="40.3" rx="4.75" fill="#050505" stroke="#050505" stroke-width="0.5"/>
<rect x="1461.65" y="48" width="9.5" height="40.3" rx="4.75" fill="#050505" stroke="#050505" stroke-width="0.5"/>
<rect x="1430" y="38" width="29.4" height="60" fill="#050505" stroke="#050505" stroke-width="0.5"/>
<rect x="1430" y="78" width="13.4" height="69.2" rx="6.7" fill="#050505" stroke="#050505" stroke-width="0.5"/>
<rect x="1446" y="78" width="13.4" height="69.2" rx="6.7" fill="#050505" stroke="#050505" stroke-width="0.5"/>
<rect x="1427.75" y="53.5" width="2.25" height="45" rx="1.2" fill="#fff"/>
<rect x="1459.4" y="53.5" width="2.25" height="45" rx="1.2" fill="#fff"/>
<rect x="1443.4" y="91.5" width="2.6" height="70" rx="1.3" fill="#fff"/>
<text x="1447.7" y="180.8" font-size="24.8" font-weight="bold" fill="#231f20" text-anchor="middle" >Human</text>
<polygon points="1372.21,279.92 1366.57,277.29 1361.3,273.52 1356.02,273.37 1351.51,275.18 1346.99,277.67 1337.95,281.05 1330.42,283.31 1322.89,284.07 1317.62,283.31 1311.6,281.81 1309.34,277.29 1307.08,270.51 1305.95,262.98 1304.82,256.2 1302.56,252.44 1298.04,245.66 1294.28,238.13 1291.64,229.85 1290.14,227.59 1285.24,233.61 1279.97,235.12 1274.7,237.38 1270.18,239.64 1266.42,242.65 1257.38,234.37 1249.85,226.08 1246.08,225.33 1242.32,226.84 1239.31,228.34 1236.3,229.85 1232.91,229.85 1234.79,235.12 1240.06,247.17 1246.08,256.2 1249.85,264.49 1255.12,272.77 1259.64,280.3 1261.14,283.31 1264.91,287.83 1270.18,295.36 1273.19,300.63 1267.17,304.4 1261.14,309.67 1253.61,311.93 1249.1,313.43 1247.97,316.45 1249.85,320.21 1255.12,323.6 1262.65,320.96 1270.18,317.95 1273.95,316.45 1285.24,315.69 1296.54,312.68 1307.83,305.9 1319.13,297.62 1330.42,290.84 1341.72,284.82 1353.01,282.56 1364.31,281.05" fill="#050505" stroke="#050505" stroke-width="0.6" stroke-linejoin="round"/><line x1="1270.93" y1="240.39" x2="1270.03" y2="236.02" stroke="#050505" stroke-width="3.77" stroke-linecap="round"/><line x1="1274.7" y1="238.13" x2="1273.57" y2="230.38" stroke="#050505" stroke-width="4.07" stroke-linecap="round"/><line x1="1279.22" y1="235.87" x2="1278.09" y2="225.11" stroke="#050505" stroke-width="4.22" stroke-linecap="round"/><line x1="1284.11" y1="234.37" x2="1283.36" y2="221.57" stroke="#050505" stroke-width="4.37" stroke-linecap="round"/><line x1="1289.38" y1="233.99" x2="1288.4" y2="220.06" stroke="#050505" stroke-width="4.52" stroke-linecap="round"/><line x1="1247.59" y1="225.33" x2="1244.35" y2="213.06" stroke="#050505" stroke-width="4.22" stroke-linecap="round"/><line x1="1243.83" y1="226.84" x2="1239.08" y2="214.19" stroke="#050505" stroke-width="4.07" stroke-linecap="round"/><line x1="1240.44" y1="228.34" x2="1234.34" y2="217.58" stroke="#050505" stroke-width="3.92" stroke-linecap="round"/><line x1="1237.8" y1="230.6" x2="1232.23" y2="223.07" stroke="#050505" stroke-width="3.77" stroke-linecap="round"/>
<polygon points="1549.33,221.67 1551.2,218.67 1552.67,221 1553.47,216.2 1554.8,220 1556.67,216.87 1558,220.33 1559.33,217.67 1560,221.33 1561.47,218.33 1560.8,223 1565.33,226.33 1570,230.33 1572.67,235 1574.67,240.33 1578,244.33 1582.67,246.33 1587.33,249 1592,250.67 1600,250.33 1607.33,250.33 1610,246.33 1614,239.67 1617.33,233.67 1620.67,228.67 1622.67,229.67 1623,233 1626,235 1627.33,236.67 1627,239.67 1629.33,243 1629,246.33 1630,251 1628,254.33 1627.33,258.33 1629.67,260.33 1629.33,263 1627.33,264.33 1627.67,268 1624.67,269 1622,270.67 1618.67,270 1616.67,273 1613.33,276.33 1610,279 1608,282.33 1603.33,285.67 1598.67,288.33 1596,290.33 1595,293.67 1593.67,298.33 1593,301.67 1595.33,304.33 1593.67,305 1589.33,304 1583.33,308 1582.33,307.67 1586.67,303.67 1581.33,303.67 1580.67,302.33 1586.67,301 1588.67,301 1590,298.33 1591.33,293.67 1592,291 1589.33,290.67 1586,294.33 1582.67,297.67 1580,301.67 1578.33,307.67 1579.67,310.67 1573.33,310.33 1564.67,313.33 1564.33,312.33 1568.67,309.33 1562.67,308 1563,307 1572.67,306.67 1576,301.67 1578.67,297 1576.67,295 1572.67,291 1570,287 1568.67,280.33 1566,277 1561.33,272.33 1558.67,266.33 1557.33,258.33 1557.33,251.67 1556.67,245 1556.33,241 1554.67,238.33 1552.67,237.67 1551.33,236 1550,234.33 1548.33,233.8 1547.87,232.33 1549.33,231.13 1550,229.67 1549.33,227 1548.8,224.33" fill="#050505" stroke="#050505" stroke-width="0.5" stroke-linejoin="round"/>
<text x="1252" y="355" font-size="24.8" font-weight="bold" fill="#231f20" text-anchor="start" >Wild Birds</text>
<text x="1503" y="355" font-size="24.8" font-weight="bold" fill="#231f20" text-anchor="start" >Domestic Birds</text>
<line x1="1369.5" y1="258.8" x2="1496.82" y2="256.86" stroke="#e62e8c" stroke-width="6"/><polygon points="1520.6,256.5 1491.85,272.94 1496.82,256.86 1491.36,240.94" fill="#e62e8c"/>
<line x1="1521.8" y1="291.3" x2="1388.04" y2="292.09" stroke="#e62e8c" stroke-width="4.7"/><polygon points="1370,292.2 1391.93,280.57 1388.04,292.09 1392.07,303.57" fill="#e62e8c"/>
<line x1="1581.3" y1="208.2" x2="1488.29" y2="107.25" stroke="#e62e8c" stroke-width="2"/><polygon points="1479.4,97.6 1495.76,104.29 1488.29,107.25 1484.73,114.45" fill="#e62e8c"/>
<text x="1437" y="248" font-size="24" font-weight="bold" fill="#231f20" text-anchor="middle" >184</text>
<text x="1440.6" y="321" font-size="24" font-weight="bold" fill="#231f20" text-anchor="middle" >50</text>
<text x="1546.5" y="148" font-size="24" font-weight="bold" fill="#231f20" text-anchor="middle" >7</text>
<circle cx="1447" cy="412.1" r="13" fill="#050505" stroke="#050505" stroke-width="0.5"/>
<rect x="1420.9" y="429.2" width="55" height="30" rx="11" fill="#050505" stroke="#050505" stroke-width="0.5"/>
<rect x="1420.9" y="439.2" width="9.5" height="40.3" rx="4.75" fill="#050505" stroke="#050505" stroke-width="0.5"/>
<rect x="1466.4" y="439.2" width="9.5" height="40.3" rx="4.75" fill="#050505" stroke="#050505" stroke-width="0.5"/>
<rect x="1433.7" y="429.2" width="29.4" height="60" fill="#050505" stroke="#050505" stroke-width="0.5"/>
<rect x="1433.7" y="469.2" width="13.4" height="69.2" rx="6.7" fill="#050505" stroke="#050505" stroke-width="0.5"/>
<rect x="1449.7" y="469.2" width="13.4" height="69.2" rx="6.7" fill="#050505" stroke="#050505" stroke-width="0.5"/>
<rect x="1430.4" y="444.7" width="3.3" height="45" rx="1.2" fill="#fff"/>
<rect x="1463.1" y="444.7" width="3.3" height="45" rx="1.2" fill="#fff"/>
<rect x="1447.1" y="482.7" width="2.6" height="70" rx="1.3" fill="#fff"/>
<text x="1447.7" y="573" font-size="24.8" font-weight="bold" fill="#231f20" text-anchor="middle" >Human</text>
<polygon points="1372.21,668.92 1366.57,666.29 1361.3,662.52 1356.02,662.37 1351.51,664.18 1346.99,666.67 1337.95,670.05 1330.42,672.31 1322.89,673.07 1317.62,672.31 1311.6,670.81 1309.34,666.29 1307.08,659.51 1305.95,651.98 1304.82,645.2 1302.56,641.44 1298.04,634.66 1294.28,627.13 1291.64,618.85 1290.14,616.59 1285.24,622.61 1279.97,624.12 1274.7,626.38 1270.18,628.64 1266.42,631.65 1257.38,623.37 1249.85,615.08 1246.08,614.33 1242.32,615.84 1239.31,617.34 1236.3,618.85 1232.91,618.85 1234.79,624.12 1240.06,636.17 1246.08,645.2 1249.85,653.49 1255.12,661.77 1259.64,669.3 1261.14,672.31 1264.91,676.83 1270.18,684.36 1273.19,689.63 1267.17,693.4 1261.14,698.67 1253.61,700.93 1249.1,702.43 1247.97,705.45 1249.85,709.21 1255.12,712.6 1262.65,709.96 1270.18,706.95 1273.95,705.45 1285.24,704.69 1296.54,701.68 1307.83,694.9 1319.13,686.62 1330.42,679.84 1341.72,673.82 1353.01,671.56 1364.31,670.05" fill="#050505" stroke="#050505" stroke-width="0.6" stroke-linejoin="round"/><line x1="1270.93" y1="629.39" x2="1270.03" y2="625.02" stroke="#050505" stroke-width="3.77" stroke-linecap="round"/><line x1="1274.7" y1="627.13" x2="1273.57" y2="619.38" stroke="#050505" stroke-width="4.07" stroke-linecap="round"/><line x1="1279.22" y1="624.87" x2="1278.09" y2="614.11" stroke="#050505" stroke-width="4.22" stroke-linecap="round"/><line x1="1284.11" y1="623.37" x2="1283.36" y2="610.57" stroke="#050505" stroke-width="4.37" stroke-linecap="round"/><line x1="1289.38" y1="622.99" x2="1288.4" y2="609.06" stroke="#050505" stroke-width="4.52" stroke-linecap="round"/><line x1="1247.59" y1="614.33" x2="1244.35" y2="602.06" stroke="#050505" stroke-width="4.22" stroke-linecap="round"/><line x1="1243.83" y1="615.84" x2="1239.08" y2="603.19" stroke="#050505" stroke-width="4.07" stroke-linecap="round"/><line x1="1240.44" y1="617.34" x2="1234.34" y2="606.58" stroke="#050505" stroke-width="3.92" stroke-linecap="round"/><line x1="1237.8" y1="619.6" x2="1232.23" y2="612.07" stroke="#050505" stroke-width="3.77" stroke-linecap="round"/>
<polygon points="1549.83,622.87 1551.7,619.87 1553.17,622.2 1553.97,617.4 1555.3,621.2 1557.17,618.07 1558.5,621.53 1559.83,618.87 1560.5,622.53 1561.97,619.53 1561.3,624.2 1565.83,627.53 1570.5,631.53 1573.17,636.2 1575.17,641.53 1578.5,645.53 1583.17,647.53 1587.83,650.2 1592.5,651.87 1600.5,651.53 1607.83,651.53 1610.5,647.53 1614.5,640.87 1617.83,634.87 1621.17,629.87 1623.17,630.87 1623.5,634.2 1626.5,636.2 1627.83,637.87 1627.5,640.87 1629.83,644.2 1629.5,647.53 1630.5,652.2 1628.5,655.53 1627.83,659.53 1630.17,661.53 1629.83,664.2 1627.83,665.53 1628.17,669.2 1625.17,670.2 1622.5,671.87 1619.17,671.2 1617.17,674.2 1613.83,677.53 1610.5,680.2 1608.5,683.53 1603.83,686.87 1599.17,689.53 1596.5,691.53 1595.5,694.87 1594.17,699.53 1593.5,702.87 1595.83,705.53 1594.17,706.2 1589.83,705.2 1583.83,709.2 1582.83,708.87 1587.17,704.87 1581.83,704.87 1581.17,703.53 1587.17,702.2 1589.17,702.2 1590.5,699.53 1591.83,694.87 1592.5,692.2 1589.83,691.87 1586.5,695.53 1583.17,698.87 1580.5,702.87 1578.83,708.87 1580.17,711.87 1573.83,711.53 1565.17,714.53 1564.83,713.53 1569.17,710.53 1563.17,709.2 1563.5,708.2 1573.17,707.87 1576.5,702.87 1579.17,698.2 1577.17,696.2 1573.17,692.2 1570.5,688.2 1569.17,681.53 1566.5,678.2 1561.83,673.53 1559.17,667.53 1557.83,659.53 1557.83,652.87 1557.17,646.2 1556.83,642.2 1555.17,639.53 1553.17,638.87 1551.83,637.2 1550.5,635.53 1548.83,635 1548.37,633.53 1549.83,632.33 1550.5,630.87 1549.83,628.2 1549.3,625.53" fill="#050505" stroke="#050505" stroke-width="0.5" stroke-linejoin="round"/>
<text x="1252" y="747.2" font-size="24.8" font-weight="bold" fill="#231f20" text-anchor="start" >Wild Birds</text>
<text x="1503" y="747.2" font-size="24.8" font-weight="bold" fill="#231f20" text-anchor="start" >Domestic Birds</text>
<line x1="1369.4" y1="650.6" x2="1502.64" y2="649.37" stroke="#5b4399" stroke-width="4"/><polygon points="1521.5,649.2 1498.61,661.41 1502.64,649.37 1498.39,637.41" fill="#5b4399"/>
<line x1="1521.5" y1="683.7" x2="1388.66" y2="685.1" stroke="#5b4399" stroke-width="4"/><polygon points="1369.8,685.3 1392.67,673.06 1388.66,685.1 1392.93,697.06" fill="#5b4399"/>
<line x1="1581.3" y1="601.2" x2="1489.87" y2="501.2" stroke="#5b4399" stroke-width="2.7"/><polygon points="1478.8,489.1 1499.31,497.45 1489.87,501.2 1485.28,510.27" fill="#5b4399"/>
<text x="1440.1" y="643.3" font-size="24" font-weight="bold" fill="#231f20" text-anchor="middle" >50</text>
<text x="1445" y="709.6" font-size="24" font-weight="bold" fill="#231f20" text-anchor="middle" >46</text>
<text x="1554" y="544.8" font-size="24" font-weight="bold" fill="#231f20" text-anchor="middle" >17</text>
<circle cx="1447" cy="807.3" r="13" fill="#050505" stroke="#050505" stroke-width="0.5"/>
<rect x="1420.9" y="824.4" width="55" height="30" rx="11" fill="#050505" stroke="#050505" stroke-width="0.5"/>
<rect x="1420.9" y="834.4" width="9.5" height="40.3" rx="4.75" fill="#050505" stroke="#050505" stroke-width="0.5"/>
<rect x="1466.4" y="834.4" width="9.5" height="40.3" rx="4.75" fill="#050505" stroke="#050505" stroke-width="0.5"/>
<rect x="1433.7" y="824.4" width="29.4" height="60" fill="#050505" stroke="#050505" stroke-width="0.5"/>
<rect x="1433.7" y="864.4" width="13.4" height="69.2" rx="6.7" fill="#050505" stroke="#050505" stroke-width="0.5"/>
<rect x="1449.7" y="864.4" width="13.4" height="69.2" rx="6.7" fill="#050505" stroke="#050505" stroke-width="0.5"/>
<rect x="1430.4" y="839.9" width="3.3" height="45" rx="1.2" fill="#fff"/>
<rect x="1463.1" y="839.9" width="3.3" height="45" rx="1.2" fill="#fff"/>
<rect x="1447.1" y="877.9" width="2.6" height="70" rx="1.3" fill="#fff"/>
<text x="1447.7" y="965.2" font-size="24.8" font-weight="bold" fill="#231f20" text-anchor="middle" >Human</text>
<polygon points="1372.21,1063.22 1366.57,1060.59 1361.3,1056.82 1356.02,1056.67 1351.51,1058.48 1346.99,1060.97 1337.95,1064.35 1330.42,1066.61 1322.89,1067.37 1317.62,1066.61 1311.6,1065.11 1309.34,1060.59 1307.08,1053.81 1305.95,1046.28 1304.82,1039.5 1302.56,1035.74 1298.04,1028.96 1294.28,1021.43 1291.64,1013.15 1290.14,1010.89 1285.24,1016.91 1279.97,1018.42 1274.7,1020.68 1270.18,1022.94 1266.42,1025.95 1257.38,1017.67 1249.85,1009.38 1246.08,1008.63 1242.32,1010.14 1239.31,1011.64 1236.3,1013.15 1232.91,1013.15 1234.79,1018.42 1240.06,1030.47 1246.08,1039.5 1249.85,1047.79 1255.12,1056.07 1259.64,1063.6 1261.14,1066.61 1264.91,1071.13 1270.18,1078.66 1273.19,1083.93 1267.17,1087.7 1261.14,1092.97 1253.61,1095.23 1249.1,1096.73 1247.97,1099.75 1249.85,1103.51 1255.12,1106.9 1262.65,1104.26 1270.18,1101.25 1273.95,1099.75 1285.24,1098.99 1296.54,1095.98 1307.83,1089.2 1319.13,1080.92 1330.42,1074.14 1341.72,1068.12 1353.01,1065.86 1364.31,1064.35" fill="#050505" stroke="#050505" stroke-width="0.6" stroke-linejoin="round"/><line x1="1270.93" y1="1023.69" x2="1270.03" y2="1019.32" stroke="#050505" stroke-width="3.77" stroke-linecap="round"/><line x1="1274.7" y1="1021.43" x2="1273.57" y2="1013.68" stroke="#050505" stroke-width="4.07" stroke-linecap="round"/><line x1="1279.22" y1="1019.17" x2="1278.09" y2="1008.41" stroke="#050505" stroke-width="4.22" stroke-linecap="round"/><line x1="1284.11" y1="1017.67" x2="1283.36" y2="1004.87" stroke="#050505" stroke-width="4.37" stroke-linecap="round"/><line x1="1289.38" y1="1017.29" x2="1288.4" y2="1003.36" stroke="#050505" stroke-width="4.52" stroke-linecap="round"/><line x1="1247.59" y1="1008.63" x2="1244.35" y2="996.36" stroke="#050505" stroke-width="4.22" stroke-linecap="round"/><line x1="1243.83" y1="1010.14" x2="1239.08" y2="997.49" stroke="#050505" stroke-width="4.07" stroke-linecap="round"/><line x1="1240.44" y1="1011.64" x2="1234.34" y2="1000.88" stroke="#050505" stroke-width="3.92" stroke-linecap="round"/><line x1="1237.8" y1="1013.9" x2="1232.23" y2="1006.37" stroke="#050505" stroke-width="3.77" stroke-linecap="round"/>
<polygon points="1542.13,1012.87 1544,1009.87 1545.47,1012.2 1546.27,1007.4 1547.6,1011.2 1549.47,1008.07 1550.8,1011.53 1552.13,1008.87 1552.8,1012.53 1554.27,1009.53 1553.6,1014.2 1558.13,1017.53 1562.8,1021.53 1565.47,1026.2 1567.47,1031.53 1570.8,1035.53 1575.47,1037.53 1580.13,1040.2 1584.8,1041.87 1592.8,1041.53 1600.13,1041.53 1602.8,1037.53 1606.8,1030.87 1610.13,1024.87 1613.47,1019.87 1615.47,1020.87 1615.8,1024.2 1618.8,1026.2 1620.13,1027.87 1619.8,1030.87 1622.13,1034.2 1621.8,1037.53 1622.8,1042.2 1620.8,1045.53 1620.13,1049.53 1622.47,1051.53 1622.13,1054.2 1620.13,1055.53 1620.47,1059.2 1617.47,1060.2 1614.8,1061.87 1611.47,1061.2 1609.47,1064.2 1606.13,1067.53 1602.8,1070.2 1600.8,1073.53 1596.13,1076.87 1591.47,1079.53 1588.8,1081.53 1587.8,1084.87 1586.47,1089.53 1585.8,1092.87 1588.13,1095.53 1586.47,1096.2 1582.13,1095.2 1576.13,1099.2 1575.13,1098.87 1579.47,1094.87 1574.13,1094.87 1573.47,1093.53 1579.47,1092.2 1581.47,1092.2 1582.8,1089.53 1584.13,1084.87 1584.8,1082.2 1582.13,1081.87 1578.8,1085.53 1575.47,1088.87 1572.8,1092.87 1571.13,1098.87 1572.47,1101.87 1566.13,1101.53 1557.47,1104.53 1557.13,1103.53 1561.47,1100.53 1555.47,1099.2 1555.8,1098.2 1565.47,1097.87 1568.8,1092.87 1571.47,1088.2 1569.47,1086.2 1565.47,1082.2 1562.8,1078.2 1561.47,1071.53 1558.8,1068.2 1554.13,1063.53 1551.47,1057.53 1550.13,1049.53 1550.13,1042.87 1549.47,1036.2 1549.13,1032.2 1547.47,1029.53 1545.47,1028.87 1544.13,1027.2 1542.8,1025.53 1541.13,1025 1540.67,1023.53 1542.13,1022.33 1542.8,1020.87 1542.13,1018.2 1541.6,1015.53" fill="#050505" stroke="#050505" stroke-width="0.5" stroke-linejoin="round"/>
<text x="1252" y="1139.4" font-size="24.8" font-weight="bold" fill="#231f20" text-anchor="start" >Wild Birds</text>
<text x="1503" y="1139.4" font-size="24.8" font-weight="bold" fill="#231f20" text-anchor="start" >Domestic Birds</text>
<line x1="1369.4" y1="1042.8" x2="1503.68" y2="1041.83" stroke="#36a866" stroke-width="2.7"/><polygon points="1520.9,1041.7 1499.98,1052.85 1503.68,1041.83 1499.82,1030.85" fill="#36a866"/>
<line x1="1521.5" y1="1076" x2="1388.66" y2="1076.7" stroke="#36a866" stroke-width="4.4"/><polygon points="1369.8,1076.8 1392.74,1064.68 1388.66,1076.7 1392.86,1088.68" fill="#36a866"/>
<line x1="1581.3" y1="993.4" x2="1490.47" y2="894.86" stroke="#36a866" stroke-width="3"/><polygon points="1478.8,882.2 1500.39,890.86 1490.47,894.86 1485.68,904.42" fill="#36a866"/>
<text x="1440.1" y="1033.3" font-size="24" font-weight="bold" fill="#231f20" text-anchor="middle" >11</text>
<text x="1444.6" y="1101.8" font-size="24" font-weight="bold" fill="#231f20" text-anchor="middle" >39</text>
<text x="1549.6" y="932.6" font-size="24" font-weight="bold" fill="#231f20" text-anchor="middle" >13</text>
<circle cx="1447" cy="1200" r="13" fill="#050505" stroke="#050505" stroke-width="0.5"/>
<rect x="1420.9" y="1217.1" width="55" height="30" rx="11" fill="#050505" stroke="#050505" stroke-width="0.5"/>
<rect x="1420.9" y="1227.1" width="9.5" height="40.3" rx="4.75" fill="#050505" stroke="#050505" stroke-width="0.5"/>
<rect x="1466.4" y="1227.1" width="9.5" height="40.3" rx="4.75" fill="#050505" stroke="#050505" stroke-width="0.5"/>
<rect x="1433.7" y="1217.1" width="29.4" height="60" fill="#050505" stroke="#050505" stroke-width="0.5"/>
<rect x="1433.7" y="1257.1" width="13.4" height="69.2" rx="6.7" fill="#050505" stroke="#050505" stroke-width="0.5"/>
<rect x="1449.7" y="1257.1" width="13.4" height="69.2" rx="6.7" fill="#050505" stroke="#050505" stroke-width="0.5"/>
<rect x="1430.4" y="1232.6" width="3.3" height="45" rx="1.2" fill="#fff"/>
<rect x="1463.1" y="1232.6" width="3.3" height="45" rx="1.2" fill="#fff"/>
<rect x="1447.1" y="1270.6" width="2.6" height="70" rx="1.3" fill="#fff"/>
<text x="1447.7" y="1361.1" font-size="24.8" font-weight="bold" fill="#231f20" text-anchor="middle" >Human</text>
<polygon points="1376.51,1454.92 1370.87,1452.29 1365.6,1448.52 1360.32,1448.37 1355.81,1450.18 1351.29,1452.67 1342.25,1456.05 1334.72,1458.31 1327.19,1459.07 1321.92,1458.31 1315.9,1456.81 1313.64,1452.29 1311.38,1445.51 1310.25,1437.98 1309.12,1431.2 1306.86,1427.44 1302.34,1420.66 1298.58,1413.13 1295.94,1404.85 1294.44,1402.59 1289.54,1408.61 1284.27,1410.12 1279,1412.38 1274.48,1414.64 1270.72,1417.65 1261.68,1409.37 1254.15,1401.08 1250.38,1400.33 1246.62,1401.84 1243.61,1403.34 1240.6,1404.85 1237.21,1404.85 1239.09,1410.12 1244.36,1422.17 1250.38,1431.2 1254.15,1439.49 1259.42,1447.77 1263.94,1455.3 1265.44,1458.31 1269.21,1462.83 1274.48,1470.36 1277.49,1475.63 1271.47,1479.4 1265.44,1484.67 1257.91,1486.93 1253.4,1488.43 1252.27,1491.45 1254.15,1495.21 1259.42,1498.6 1266.95,1495.96 1274.48,1492.95 1278.25,1491.45 1289.54,1490.69 1300.84,1487.68 1312.13,1480.9 1323.43,1472.62 1334.72,1465.84 1346.02,1459.82 1357.31,1457.56 1368.61,1456.05" fill="#050505" stroke="#050505" stroke-width="0.6" stroke-linejoin="round"/><line x1="1275.23" y1="1415.39" x2="1274.33" y2="1411.02" stroke="#050505" stroke-width="3.77" stroke-linecap="round"/><line x1="1279" y1="1413.13" x2="1277.87" y2="1405.38" stroke="#050505" stroke-width="4.07" stroke-linecap="round"/><line x1="1283.52" y1="1410.87" x2="1282.39" y2="1400.11" stroke="#050505" stroke-width="4.22" stroke-linecap="round"/><line x1="1288.41" y1="1409.37" x2="1287.66" y2="1396.57" stroke="#050505" stroke-width="4.37" stroke-linecap="round"/><line x1="1293.68" y1="1408.99" x2="1292.7" y2="1395.06" stroke="#050505" stroke-width="4.52" stroke-linecap="round"/><line x1="1251.89" y1="1400.33" x2="1248.65" y2="1388.06" stroke="#050505" stroke-width="4.22" stroke-linecap="round"/><line x1="1248.13" y1="1401.84" x2="1243.38" y2="1389.19" stroke="#050505" stroke-width="4.07" stroke-linecap="round"/><line x1="1244.74" y1="1403.34" x2="1238.64" y2="1392.58" stroke="#050505" stroke-width="3.92" stroke-linecap="round"/><line x1="1242.1" y1="1405.6" x2="1236.53" y2="1398.07" stroke="#050505" stroke-width="3.77" stroke-linecap="round"/>
<polygon points="1541.33,1414.07 1543.2,1411.07 1544.67,1413.4 1545.47,1408.6 1546.8,1412.4 1548.67,1409.27 1550,1412.73 1551.33,1410.07 1552,1413.73 1553.47,1410.73 1552.8,1415.4 1557.33,1418.73 1562,1422.73 1564.67,1427.4 1566.67,1432.73 1570,1436.73 1574.67,1438.73 1579.33,1441.4 1584,1443.07 1592,1442.73 1599.33,1442.73 1602,1438.73 1606,1432.07 1609.33,1426.07 1612.67,1421.07 1614.67,1422.07 1615,1425.4 1618,1427.4 1619.33,1429.07 1619,1432.07 1621.33,1435.4 1621,1438.73 1622,1443.4 1620,1446.73 1619.33,1450.73 1621.67,1452.73 1621.33,1455.4 1619.33,1456.73 1619.67,1460.4 1616.67,1461.4 1614,1463.07 1610.67,1462.4 1608.67,1465.4 1605.33,1468.73 1602,1471.4 1600,1474.73 1595.33,1478.07 1590.67,1480.73 1588,1482.73 1587,1486.07 1585.67,1490.73 1585,1494.07 1587.33,1496.73 1585.67,1497.4 1581.33,1496.4 1575.33,1500.4 1574.33,1500.07 1578.67,1496.07 1573.33,1496.07 1572.67,1494.73 1578.67,1493.4 1580.67,1493.4 1582,1490.73 1583.33,1486.07 1584,1483.4 1581.33,1483.07 1578,1486.73 1574.67,1490.07 1572,1494.07 1570.33,1500.07 1571.67,1503.07 1565.33,1502.73 1556.67,1505.73 1556.33,1504.73 1560.67,1501.73 1554.67,1500.4 1555,1499.4 1564.67,1499.07 1568,1494.07 1570.67,1489.4 1568.67,1487.4 1564.67,1483.4 1562,1479.4 1560.67,1472.73 1558,1469.4 1553.33,1464.73 1550.67,1458.73 1549.33,1450.73 1549.33,1444.07 1548.67,1437.4 1548.33,1433.4 1546.67,1430.73 1544.67,1430.07 1543.33,1428.4 1542,1426.73 1540.33,1426.2 1539.87,1424.73 1541.33,1423.53 1542,1422.07 1541.33,1419.4 1540.8,1416.73" fill="#050505" stroke="#050505" stroke-width="0.5" stroke-linejoin="round"/>
<text x="1252" y="1534.2" font-size="24.8" font-weight="bold" fill="#231f20" text-anchor="start" >Wild Birds</text>
<text x="1503" y="1534.2" font-size="24.8" font-weight="bold" fill="#231f20" text-anchor="start" >Domestic Birds</text>
<line x1="1369.1" y1="1438" x2="1503.48" y2="1437.02" stroke="#eca143" stroke-width="3.2"/><polygon points="1520.7,1436.9 1499.78,1448.05 1503.48,1437.02 1499.62,1426.05" fill="#eca143"/>
<line x1="1521.3" y1="1471.3" x2="1387.02" y2="1472.45" stroke="#eca143" stroke-width="3.2"/><polygon points="1369.8,1472.6 1390.7,1461.42 1387.02,1472.45 1390.89,1483.42" fill="#eca143"/>
<line x1="1603.2" y1="1379.9" x2="1513.63" y2="1282.76" stroke="#eca143" stroke-width="3.6"/><polygon points="1501.4,1269.5 1524.4,1278.22 1513.63,1282.76 1508.23,1293.13" fill="#eca143"/>
<line x1="1478.8" y1="1291.7" x2="1568.98" y2="1390.29" stroke="#eca143" stroke-width="2.7"/><polygon points="1580.6,1403 1559.05,1394.25 1568.98,1390.29 1573.81,1380.76" fill="#eca143"/>
<text x="1443.8" y="1431.3" font-size="24" font-weight="bold" fill="#231f20" text-anchor="middle" >20</text>
<text x="1446" y="1495.7" font-size="24" font-weight="bold" fill="#231f20" text-anchor="middle" >13</text>
<text x="1574.9" y="1317" font-size="24" font-weight="bold" fill="#231f20" text-anchor="middle" >31</text>
<text x="1515" y="1374.7" font-size="24" font-weight="bold" fill="#231f20" text-anchor="middle" >20</text>
<text x="3" y="1629.2" font-size="26.4" font-weight="bold" fill="#000" text-anchor="start" >Clade</text>
<line x1="0" y1="1662" x2="68.2" y2="1662" stroke="#e3298b" stroke-width="3.2"/>
<text x="78.8" y="1670" font-size="26.5" font-weight="normal" fill="#000" text-anchor="start" >2.3.4.4.b</text>
<line x1="187.4" y1="1661" x2="255.2" y2="1661" stroke="#50408f" stroke-width="3.2"/>
<text x="262.6" y="1670" font-size="26.5" font-weight="normal" fill="#000" text-anchor="start" >2.3.4.4.x</text>
<line x1="0" y1="1696" x2="68.2" y2="1696" stroke="#2d9b62" stroke-width="3.2"/>
<text x="78.8" y="1707" font-size="26.5" font-weight="normal" fill="#000" text-anchor="start" >2.3.2.1</text>
<line x1="187.4" y1="1697" x2="255.2" y2="1697" stroke="#eaa03f" stroke-width="3.2"/>
<text x="262.6" y="1707" font-size="26.5" font-weight="normal" fill="#000" text-anchor="start" >2.2</text>
<text x="394.7" y="1629.2" font-size="26.7" font-weight="bold" fill="#000" text-anchor="start" >Markov Jumps (BF &gt; 100)</text>
<line x1="394.7" y1="1662.2" x2="462.7" y2="1662.2" stroke="#777" stroke-width="1"/>
<line x1="559.9" y1="1661" x2="627.6" y2="1661" stroke="#222" stroke-width="1.5"/>
<line x1="722" y1="1661" x2="790.4" y2="1661" stroke="#222" stroke-width="3"/>
<line x1="394.7" y1="1695.7" x2="462.7" y2="1695.7" stroke="#222" stroke-width="5.5"/>
<line x1="559.9" y1="1697" x2="627.6" y2="1697" stroke="#222" stroke-width="7"/>
<text x="484.7" y="1672.7" font-size="26.5" font-weight="normal" fill="#000" text-anchor="start" >1-4</text>
<text x="649.2" y="1668.3" font-size="26.5" font-weight="normal" fill="#000" text-anchor="start" >5-10</text>
<text x="812.6" y="1668.3" font-size="26.5" font-weight="normal" fill="#000" text-anchor="start" >11-20</text>
<text x="484" y="1705.5" font-size="26.5" font-weight="normal" fill="#000" text-anchor="start" >21-50</text>
<text x="649.2" y="1705.5" font-size="26.5" font-weight="normal" fill="#000" text-anchor="start" >&gt; 50</text>
<text x="910.8" y="1630" font-size="26.4" font-weight="bold" fill="#000" text-anchor="start" >Region</text>
<rect x="914" y="1652" width="27" height="26.5" fill="#56b0e2" stroke="#231f20" stroke-width="1.1"/>
<text x="950.8" y="1674.8" font-size="26.5" font-weight="normal" fill="#000" text-anchor="start" >Japan &amp; Korea</text>
<rect x="1138.8" y="1652" width="27" height="26.5" fill="#dc6a2d" stroke="#231f20" stroke-width="1.1"/>
<text x="1175.6" y="1674.8" font-size="26.5" font-weight="normal" fill="#000" text-anchor="start" >China</text>
<rect x="1274" y="1652" width="27" height="26.5" fill="#e7e14b" stroke="#231f20" stroke-width="1.1"/>
<text x="1310.8" y="1674.8" font-size="26.5" font-weight="normal" fill="#000" text-anchor="start" >Southeast Asia</text>
<rect x="1504" y="1652" width="27" height="26.5" fill="#e8a02e" stroke="#231f20" stroke-width="1.1"/>
<text x="1540.8" y="1674.8" font-size="26.5" font-weight="normal" fill="#000" text-anchor="start" >South Asia</text>
<rect x="914" y="1688" width="27" height="26.5" fill="#8f9193" stroke="#231f20" stroke-width="1.1"/>
<text x="950.8" y="1710.8" font-size="26.5" font-weight="normal" fill="#000" text-anchor="start" >West Asia</text>
<rect x="1138.8" y="1688" width="27" height="26.5" fill="#0b9a6d" stroke="#231f20" stroke-width="1.1"/>
<text x="1175.6" y="1710.8" font-size="26.5" font-weight="normal" fill="#000" text-anchor="start" >Europe</text>
<rect x="1274" y="1688" width="27" height="26.5" fill="#0a6eb3" stroke="#231f20" stroke-width="1.1"/>
<text x="1310.8" y="1710.8" font-size="26.5" font-weight="normal" fill="#000" text-anchor="start" >Africa</text>
<rect x="1504" y="1688" width="27" height="26.5" fill="#cc78ab" stroke="#231f20" stroke-width="1.1"/>
<text x="1540.8" y="1710.8" font-size="26.5" font-weight="normal" fill="#000" text-anchor="start" >North America</text>
<text x="1772.6" y="1635.3" font-size="26.4" font-weight="bold" fill="#000" text-anchor="start" >Host</text>
<rect x="1772.3" y="1651.6" width="28" height="27.5" fill="#8a5527" stroke="#231f20" stroke-width="1.1"/>
<text x="1810.3" y="1674.4" font-size="26.5" font-weight="normal" fill="#000" text-anchor="start" >Domestic Birds</text>
<rect x="2001.5" y="1651.6" width="28" height="27.5" fill="#d9636d" stroke="#231f20" stroke-width="1.1"/>
<text x="2039.5" y="1674.4" font-size="26.5" font-weight="normal" fill="#000" text-anchor="start" >Human</text>
<rect x="1772.3" y="1687.5" width="28" height="27.5" fill="#1f87c7" stroke="#231f20" stroke-width="1.1"/>
<text x="1810.3" y="1710.3" font-size="26.5" font-weight="normal" fill="#000" text-anchor="start" >Wild Birds</text>
</svg>
</body></html>
